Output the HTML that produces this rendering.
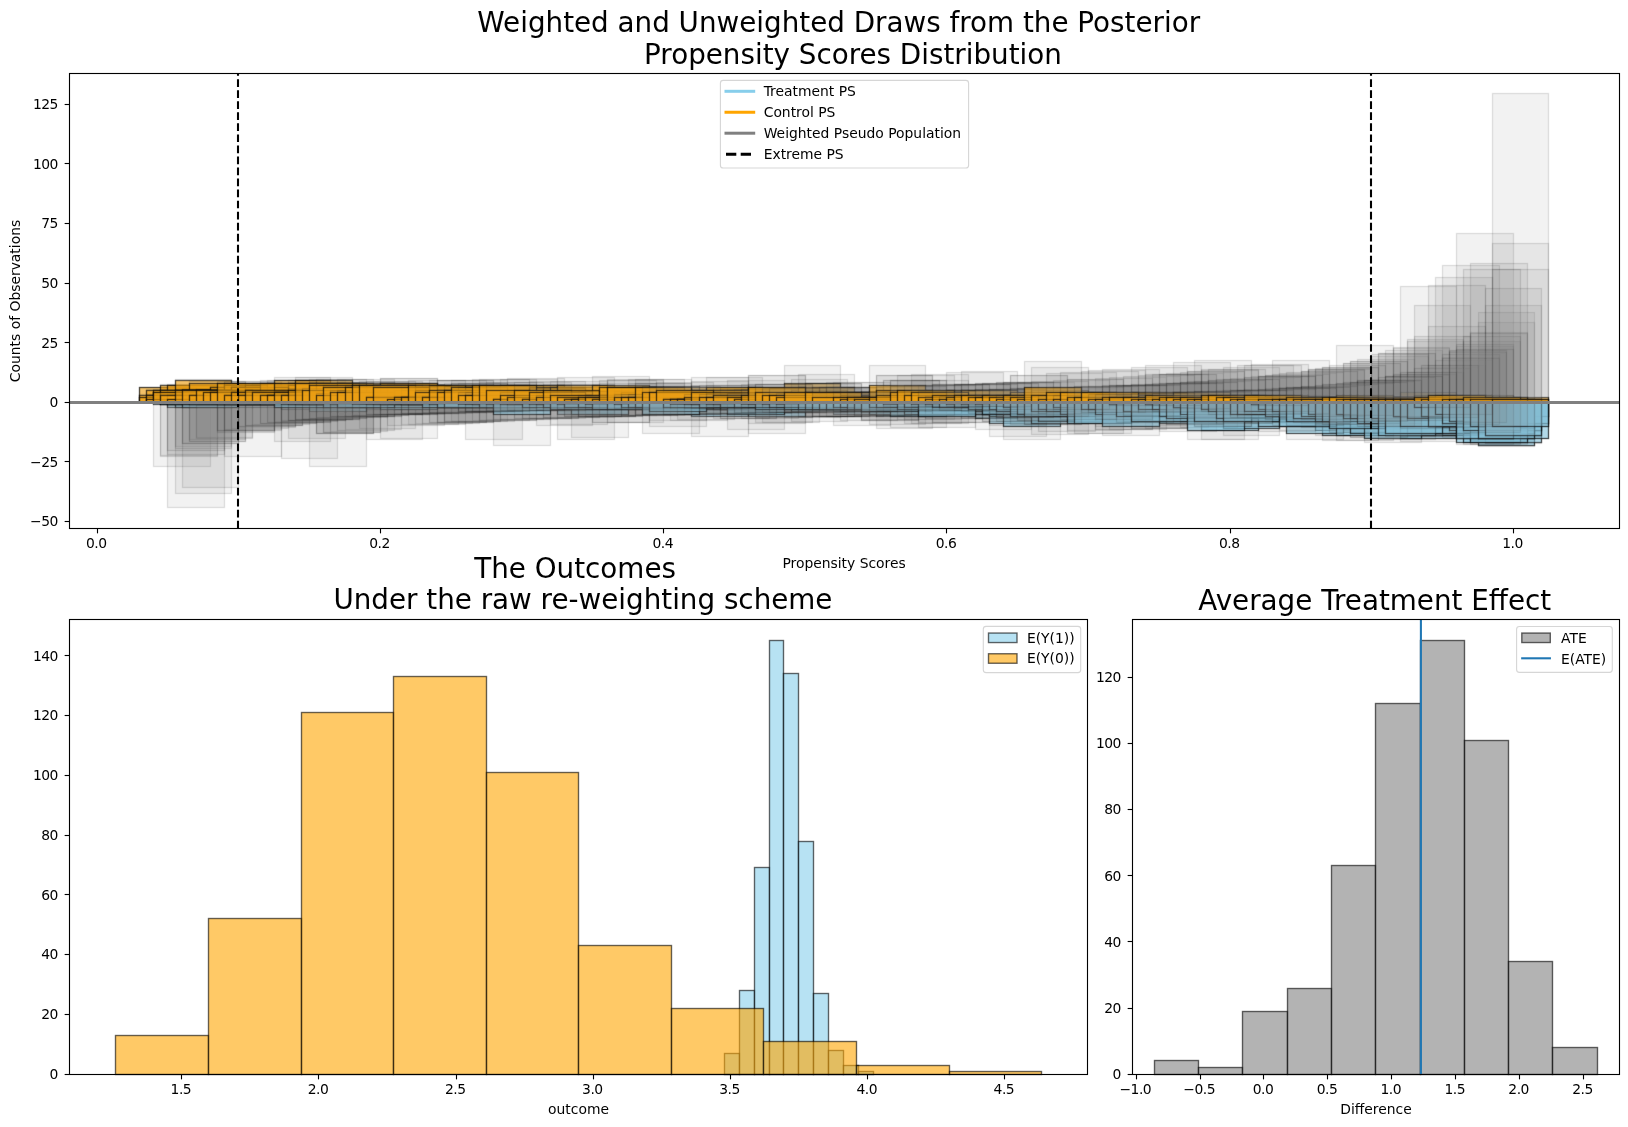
<!DOCTYPE html>
<html lang="en"><head><meta charset="utf-8"><title>Weighted and Unweighted Draws from the Posterior</title>
<style>html,body{margin:0;padding:0;background:#fff;}svg{display:block;will-change:transform;}text{font-family:'DejaVu Sans', 'Liberation Sans', sans-serif;fill:#000;}rect.o,rect.b,rect.g,rect.h{stroke:#000;stroke-width:1.39px;}rect.o{fill:#ffa500;fill-opacity:.6;stroke-opacity:.6;}rect.b{fill:#87ceeb;fill-opacity:.6;stroke-opacity:.6;}rect.h{fill:#808080;fill-opacity:.6;stroke-opacity:.6;}rect.g{fill:#808080;fill-opacity:.1;stroke-opacity:.1;}</style></head><body>
<svg width="1628" height="1127" viewBox="0 0 1628 1127">
<rect x="0" y="0" width="1628" height="1127" fill="#fff"/>
<clipPath id="tclip"><rect x="69.5" y="73.4" width="1550.1" height="455"/></clipPath>
<g id="top-bars" clip-path="url(#tclip)">
<rect class="b" x="153.5" y="402.5" width="57" height="2"/>
<rect class="b" x="167.5" y="402.5" width="57" height="5"/>
<rect class="b" x="175.5" y="402.5" width="56" height="2"/>
<rect class="b" x="189.5" y="402.5" width="56" height="2"/>
<rect class="b" x="217.5" y="402.5" width="57" height="2"/>
<rect class="b" x="224.5" y="402.5" width="57" height="5"/>
<rect class="b" x="238.5" y="402.5" width="57" height="2"/>
<rect class="b" x="245.5" y="402.5" width="57" height="2"/>
<rect class="b" x="274.5" y="402.5" width="56" height="2"/>
<rect class="b" x="288.5" y="402.5" width="57" height="5"/>
<rect class="b" x="302.5" y="402.5" width="57" height="2"/>
<rect class="b" x="316.5" y="402.5" width="57" height="5"/>
<rect class="b" x="323.5" y="402.5" width="57" height="2"/>
<rect class="b" x="330.5" y="402.5" width="57" height="5"/>
<rect class="b" x="337.5" y="402.5" width="57" height="2"/>
<rect class="b" x="345.5" y="402.5" width="56" height="5"/>
<rect class="b" x="366.5" y="402.5" width="56" height="2"/>
<rect class="b" x="373.5" y="402.5" width="56" height="2"/>
<rect class="b" x="380.5" y="402.5" width="57" height="2"/>
<rect class="b" x="387.5" y="402.5" width="57" height="2"/>
<rect class="b" x="401.5" y="402.5" width="57" height="2"/>
<rect class="b" x="408.5" y="402.5" width="57" height="5"/>
<rect class="b" x="415.5" y="402.5" width="57" height="5"/>
<rect class="b" x="422.5" y="402.5" width="57" height="2"/>
<rect class="b" x="429.5" y="402.5" width="57" height="5"/>
<rect class="b" x="437.5" y="402.5" width="56" height="5"/>
<rect class="b" x="444.5" y="402.5" width="56" height="2"/>
<rect class="b" x="458.5" y="402.5" width="56" height="5"/>
<rect class="b" x="465.5" y="402.5" width="57" height="9"/>
<rect class="b" x="472.5" y="402.5" width="57" height="2"/>
<rect class="b" x="479.5" y="402.5" width="57" height="5"/>
<rect class="b" x="486.5" y="402.5" width="57" height="2"/>
<rect class="b" x="493.5" y="402.5" width="57" height="2"/>
<rect class="b" x="507.5" y="402.5" width="57" height="2"/>
<rect class="b" x="514.5" y="402.5" width="57" height="5"/>
<rect class="b" x="543.5" y="402.5" width="56" height="2"/>
<rect class="b" x="550.5" y="402.5" width="57" height="2"/>
<rect class="b" x="557.5" y="402.5" width="57" height="2"/>
<rect class="b" x="564.5" y="402.5" width="57" height="5"/>
<rect class="b" x="571.5" y="402.5" width="57" height="5"/>
<rect class="b" x="578.5" y="402.5" width="57" height="5"/>
<rect class="b" x="585.5" y="402.5" width="57" height="5"/>
<rect class="b" x="592.5" y="402.5" width="57" height="2"/>
<rect class="b" x="614.5" y="402.5" width="56" height="5"/>
<rect class="b" x="621.5" y="402.5" width="56" height="2"/>
<rect class="b" x="628.5" y="402.5" width="56" height="2"/>
<rect class="b" x="635.5" y="402.5" width="56" height="5"/>
<rect class="b" x="642.5" y="402.5" width="57" height="5"/>
<rect class="b" x="649.5" y="402.5" width="57" height="2"/>
<rect class="b" x="656.5" y="402.5" width="57" height="2"/>
<rect class="b" x="670.5" y="402.5" width="57" height="5"/>
<rect class="b" x="677.5" y="402.5" width="57" height="5"/>
<rect class="b" x="691.5" y="402.5" width="57" height="14"/>
<rect class="b" x="699.5" y="402.5" width="56" height="2"/>
<rect class="b" x="706.5" y="402.5" width="56" height="5"/>
<rect class="b" x="713.5" y="402.5" width="56" height="2"/>
<rect class="b" x="720.5" y="402.5" width="56" height="7"/>
<rect class="b" x="727.5" y="402.5" width="57" height="2"/>
<rect class="b" x="734.5" y="402.5" width="57" height="5"/>
<rect class="b" x="741.5" y="402.5" width="57" height="5"/>
<rect class="b" x="748.5" y="402.5" width="57" height="9"/>
<rect class="b" x="755.5" y="402.5" width="57" height="7"/>
<rect class="b" x="762.5" y="402.5" width="57" height="9"/>
<rect class="b" x="769.5" y="402.5" width="57" height="5"/>
<rect class="b" x="784.5" y="402.5" width="56" height="2"/>
<rect class="b" x="791.5" y="402.5" width="56" height="7"/>
<rect class="b" x="798.5" y="402.5" width="56" height="5"/>
<rect class="b" x="805.5" y="402.5" width="56" height="7"/>
<rect class="b" x="812.5" y="402.5" width="57" height="2"/>
<rect class="b" x="819.5" y="402.5" width="57" height="7"/>
<rect class="b" x="826.5" y="402.5" width="57" height="5"/>
<rect class="b" x="833.5" y="402.5" width="57" height="12"/>
<rect class="b" x="847.5" y="402.5" width="57" height="5"/>
<rect class="b" x="854.5" y="402.5" width="57" height="7"/>
<rect class="b" x="861.5" y="402.5" width="57" height="5"/>
<rect class="b" x="869.5" y="402.5" width="56" height="2"/>
<rect class="b" x="876.5" y="402.5" width="56" height="14"/>
<rect class="b" x="883.5" y="402.5" width="56" height="5"/>
<rect class="b" x="890.5" y="402.5" width="56" height="7"/>
<rect class="b" x="897.5" y="402.5" width="57" height="9"/>
<rect class="b" x="904.5" y="402.5" width="57" height="9"/>
<rect class="b" x="911.5" y="402.5" width="57" height="5"/>
<rect class="b" x="918.5" y="402.5" width="57" height="7"/>
<rect class="b" x="925.5" y="402.5" width="57" height="9"/>
<rect class="b" x="932.5" y="402.5" width="57" height="12"/>
<rect class="b" x="939.5" y="402.5" width="57" height="5"/>
<rect class="b" x="946.5" y="402.5" width="57" height="2"/>
<rect class="b" x="954.5" y="402.5" width="56" height="5"/>
<rect class="b" x="961.5" y="402.5" width="56" height="9"/>
<rect class="b" x="968.5" y="402.5" width="56" height="2"/>
<rect class="b" x="975.5" y="402.5" width="56" height="16"/>
<rect class="b" x="982.5" y="402.5" width="56" height="12"/>
<rect class="b" x="989.5" y="402.5" width="57" height="21"/>
<rect class="b" x="996.5" y="402.5" width="57" height="9"/>
<rect class="b" x="1010.5" y="402.5" width="57" height="12"/>
<rect class="b" x="1017.5" y="402.5" width="57" height="5"/>
<rect class="b" x="1024.5" y="402.5" width="57" height="2"/>
<rect class="b" x="1031.5" y="402.5" width="57" height="2"/>
<rect class="b" x="1038.5" y="402.5" width="57" height="12"/>
<rect class="b" x="1046.5" y="402.5" width="56" height="7"/>
<rect class="b" x="1053.5" y="402.5" width="56" height="9"/>
<rect class="b" x="1060.5" y="402.5" width="56" height="7"/>
<rect class="b" x="1067.5" y="402.5" width="56" height="9"/>
<rect class="b" x="1074.5" y="402.5" width="57" height="9"/>
<rect class="b" x="1081.5" y="402.5" width="57" height="14"/>
<rect class="b" x="1088.5" y="402.5" width="57" height="7"/>
<rect class="b" x="1095.5" y="402.5" width="57" height="19"/>
<rect class="b" x="1102.5" y="402.5" width="57" height="2"/>
<rect class="b" x="1109.5" y="402.5" width="57" height="9"/>
<rect class="b" x="1116.5" y="402.5" width="57" height="14"/>
<rect class="b" x="1123.5" y="402.5" width="57" height="5"/>
<rect class="b" x="1131.5" y="402.5" width="56" height="16"/>
<rect class="b" x="1138.5" y="402.5" width="56" height="14"/>
<rect class="b" x="1145.5" y="402.5" width="56" height="7"/>
<rect class="b" x="1152.5" y="402.5" width="56" height="7"/>
<rect class="b" x="1159.5" y="402.5" width="57" height="14"/>
<rect class="b" x="1166.5" y="402.5" width="57" height="14"/>
<rect class="b" x="1173.5" y="402.5" width="57" height="12"/>
<rect class="b" x="1180.5" y="402.5" width="57" height="5"/>
<rect class="b" x="1187.5" y="402.5" width="57" height="16"/>
<rect class="b" x="1194.5" y="402.5" width="57" height="19"/>
<rect class="b" x="1201.5" y="402.5" width="57" height="28"/>
<rect class="b" x="1208.5" y="402.5" width="57" height="9"/>
<rect class="b" x="1216.5" y="402.5" width="56" height="16"/>
<rect class="b" x="1223.5" y="402.5" width="56" height="9"/>
<rect class="b" x="1230.5" y="402.5" width="56" height="16"/>
<rect class="b" x="1237.5" y="402.5" width="56" height="14"/>
<rect class="b" x="1244.5" y="402.5" width="57" height="9"/>
<rect class="b" x="1251.5" y="402.5" width="57" height="14"/>
<rect class="b" x="1258.5" y="402.5" width="57" height="14"/>
<rect class="b" x="1265.5" y="402.5" width="57" height="9"/>
<rect class="b" x="1272.5" y="402.5" width="57" height="16"/>
<rect class="b" x="1279.5" y="402.5" width="57" height="7"/>
<rect class="b" x="1286.5" y="402.5" width="57" height="14"/>
<rect class="b" x="1293.5" y="402.5" width="57" height="12"/>
<rect class="b" x="1301.5" y="402.5" width="56" height="16"/>
<rect class="b" x="1308.5" y="402.5" width="56" height="12"/>
<rect class="b" x="1315.5" y="402.5" width="56" height="28"/>
<rect class="b" x="1322.5" y="402.5" width="56" height="33"/>
<rect class="b" x="1329.5" y="402.5" width="56" height="26"/>
<rect class="b" x="1336.5" y="402.5" width="57" height="19"/>
<rect class="b" x="1343.5" y="402.5" width="57" height="26"/>
<rect class="b" x="1350.5" y="402.5" width="57" height="31"/>
<rect class="b" x="1357.5" y="402.5" width="57" height="16"/>
<rect class="b" x="1364.5" y="402.5" width="57" height="12"/>
<rect class="b" x="1371.5" y="402.5" width="57" height="16"/>
<rect class="b" x="1378.5" y="402.5" width="57" height="24"/>
<rect class="b" x="1385.5" y="402.5" width="57" height="24"/>
<rect class="b" x="1393.5" y="402.5" width="56" height="24"/>
<rect class="b" x="1400.5" y="402.5" width="56" height="36"/>
<rect class="b" x="1407.5" y="402.5" width="56" height="14"/>
<rect class="b" x="1414.5" y="402.5" width="56" height="21"/>
<rect class="b" x="1421.5" y="402.5" width="57" height="21"/>
<rect class="b" x="1428.5" y="402.5" width="57" height="24"/>
<rect class="b" x="1435.5" y="402.5" width="57" height="9"/>
<rect class="b" x="1442.5" y="402.5" width="57" height="33"/>
<rect class="b" x="1449.5" y="402.5" width="57" height="28"/>
<rect class="b" x="1456.5" y="402.5" width="57" height="40"/>
<rect class="b" x="1463.5" y="402.5" width="57" height="33"/>
<rect class="b" x="1470.5" y="402.5" width="57" height="38"/>
<rect class="b" x="1478.5" y="402.5" width="56" height="43"/>
<rect class="b" x="1485.5" y="402.5" width="56" height="40"/>
<rect class="b" x="1492.5" y="402.5" width="56" height="36"/>
<rect class="g" x="153.5" y="402.5" width="57" height="64"/>
<rect class="g" x="167.5" y="402.5" width="57" height="105"/>
<rect class="g" x="175.5" y="402.5" width="56" height="44"/>
<rect class="g" x="189.5" y="402.5" width="56" height="39"/>
<rect class="g" x="217.5" y="402.5" width="57" height="29"/>
<rect class="g" x="224.5" y="402.5" width="57" height="54"/>
<rect class="g" x="238.5" y="402.5" width="57" height="24"/>
<rect class="g" x="245.5" y="402.5" width="57" height="23"/>
<rect class="g" x="274.5" y="402.5" width="56" height="19"/>
<rect class="g" x="288.5" y="402.5" width="57" height="36"/>
<rect class="g" x="302.5" y="402.5" width="57" height="17"/>
<rect class="g" x="316.5" y="402.5" width="57" height="31"/>
<rect class="g" x="323.5" y="402.5" width="57" height="15"/>
<rect class="g" x="330.5" y="402.5" width="57" height="29"/>
<rect class="g" x="337.5" y="402.5" width="57" height="14"/>
<rect class="g" x="345.5" y="402.5" width="56" height="27"/>
<rect class="g" x="366.5" y="402.5" width="56" height="12"/>
<rect class="g" x="373.5" y="402.5" width="56" height="12"/>
<rect class="g" x="380.5" y="402.5" width="57" height="12"/>
<rect class="g" x="387.5" y="402.5" width="57" height="12"/>
<rect class="g" x="401.5" y="402.5" width="57" height="11"/>
<rect class="g" x="408.5" y="402.5" width="57" height="22"/>
<rect class="g" x="415.5" y="402.5" width="57" height="21"/>
<rect class="g" x="422.5" y="402.5" width="57" height="10"/>
<rect class="g" x="429.5" y="402.5" width="57" height="20"/>
<rect class="g" x="437.5" y="402.5" width="56" height="20"/>
<rect class="g" x="444.5" y="402.5" width="56" height="10"/>
<rect class="g" x="458.5" y="402.5" width="56" height="19"/>
<rect class="g" x="465.5" y="402.5" width="57" height="37"/>
<rect class="g" x="472.5" y="402.5" width="57" height="9"/>
<rect class="g" x="479.5" y="402.5" width="57" height="18"/>
<rect class="g" x="486.5" y="402.5" width="57" height="8"/>
<rect class="g" x="493.5" y="402.5" width="57" height="8"/>
<rect class="g" x="507.5" y="402.5" width="57" height="8"/>
<rect class="g" x="514.5" y="402.5" width="57" height="16"/>
<rect class="g" x="543.5" y="402.5" width="56" height="7"/>
<rect class="g" x="550.5" y="402.5" width="57" height="7"/>
<rect class="g" x="557.5" y="402.5" width="57" height="7"/>
<rect class="g" x="564.5" y="402.5" width="57" height="14"/>
<rect class="g" x="571.5" y="402.5" width="57" height="14"/>
<rect class="g" x="578.5" y="402.5" width="57" height="14"/>
<rect class="g" x="585.5" y="402.5" width="57" height="14"/>
<rect class="g" x="592.5" y="402.5" width="57" height="7"/>
<rect class="g" x="614.5" y="402.5" width="56" height="13"/>
<rect class="g" x="621.5" y="402.5" width="56" height="6"/>
<rect class="g" x="628.5" y="402.5" width="56" height="6"/>
<rect class="g" x="635.5" y="402.5" width="56" height="12"/>
<rect class="g" x="642.5" y="402.5" width="57" height="12"/>
<rect class="g" x="649.5" y="402.5" width="57" height="6"/>
<rect class="g" x="656.5" y="402.5" width="57" height="6"/>
<rect class="g" x="670.5" y="402.5" width="57" height="12"/>
<rect class="g" x="677.5" y="402.5" width="57" height="12"/>
<rect class="g" x="691.5" y="402.5" width="57" height="34"/>
<rect class="g" x="699.5" y="402.5" width="56" height="5"/>
<rect class="g" x="706.5" y="402.5" width="56" height="11"/>
<rect class="g" x="713.5" y="402.5" width="56" height="5"/>
<rect class="g" x="720.5" y="402.5" width="56" height="16"/>
<rect class="g" x="727.5" y="402.5" width="57" height="5"/>
<rect class="g" x="734.5" y="402.5" width="57" height="10"/>
<rect class="g" x="741.5" y="402.5" width="57" height="10"/>
<rect class="g" x="748.5" y="402.5" width="57" height="21"/>
<rect class="g" x="755.5" y="402.5" width="57" height="15"/>
<rect class="g" x="762.5" y="402.5" width="57" height="20"/>
<rect class="g" x="769.5" y="402.5" width="57" height="10"/>
<rect class="g" x="784.5" y="402.5" width="56" height="5"/>
<rect class="g" x="791.5" y="402.5" width="56" height="14"/>
<rect class="g" x="798.5" y="402.5" width="56" height="10"/>
<rect class="g" x="805.5" y="402.5" width="56" height="14"/>
<rect class="g" x="812.5" y="402.5" width="57" height="5"/>
<rect class="g" x="819.5" y="402.5" width="57" height="14"/>
<rect class="g" x="826.5" y="402.5" width="57" height="9"/>
<rect class="g" x="833.5" y="402.5" width="57" height="23"/>
<rect class="g" x="847.5" y="402.5" width="57" height="9"/>
<rect class="g" x="854.5" y="402.5" width="57" height="13"/>
<rect class="g" x="861.5" y="402.5" width="57" height="9"/>
<rect class="g" x="869.5" y="402.5" width="56" height="4"/>
<rect class="g" x="876.5" y="402.5" width="56" height="26"/>
<rect class="g" x="883.5" y="402.5" width="56" height="8"/>
<rect class="g" x="890.5" y="402.5" width="56" height="13"/>
<rect class="g" x="897.5" y="402.5" width="57" height="17"/>
<rect class="g" x="904.5" y="402.5" width="57" height="17"/>
<rect class="g" x="911.5" y="402.5" width="57" height="8"/>
<rect class="g" x="918.5" y="402.5" width="57" height="12"/>
<rect class="g" x="925.5" y="402.5" width="57" height="16"/>
<rect class="g" x="932.5" y="402.5" width="57" height="20"/>
<rect class="g" x="939.5" y="402.5" width="57" height="8"/>
<rect class="g" x="946.5" y="402.5" width="57" height="4"/>
<rect class="g" x="954.5" y="402.5" width="56" height="8"/>
<rect class="g" x="961.5" y="402.5" width="56" height="15"/>
<rect class="g" x="968.5" y="402.5" width="56" height="4"/>
<rect class="g" x="975.5" y="402.5" width="56" height="27"/>
<rect class="g" x="982.5" y="402.5" width="56" height="19"/>
<rect class="g" x="989.5" y="402.5" width="57" height="34"/>
<rect class="g" x="996.5" y="402.5" width="57" height="15"/>
<rect class="g" x="1010.5" y="402.5" width="57" height="18"/>
<rect class="g" x="1017.5" y="402.5" width="57" height="7"/>
<rect class="g" x="1024.5" y="402.5" width="57" height="3"/>
<rect class="g" x="1031.5" y="402.5" width="57" height="3"/>
<rect class="g" x="1038.5" y="402.5" width="57" height="18"/>
<rect class="g" x="1046.5" y="402.5" width="56" height="11"/>
<rect class="g" x="1053.5" y="402.5" width="56" height="14"/>
<rect class="g" x="1060.5" y="402.5" width="56" height="10"/>
<rect class="g" x="1067.5" y="402.5" width="56" height="14"/>
<rect class="g" x="1074.5" y="402.5" width="57" height="14"/>
<rect class="g" x="1081.5" y="402.5" width="57" height="20"/>
<rect class="g" x="1088.5" y="402.5" width="57" height="10"/>
<rect class="g" x="1095.5" y="402.5" width="57" height="27"/>
<rect class="g" x="1102.5" y="402.5" width="57" height="3"/>
<rect class="g" x="1109.5" y="402.5" width="57" height="13"/>
<rect class="g" x="1116.5" y="402.5" width="57" height="20"/>
<rect class="g" x="1123.5" y="402.5" width="57" height="6"/>
<rect class="g" x="1131.5" y="402.5" width="56" height="23"/>
<rect class="g" x="1138.5" y="402.5" width="56" height="19"/>
<rect class="g" x="1145.5" y="402.5" width="56" height="9"/>
<rect class="g" x="1152.5" y="402.5" width="56" height="9"/>
<rect class="g" x="1159.5" y="402.5" width="57" height="19"/>
<rect class="g" x="1166.5" y="402.5" width="57" height="19"/>
<rect class="g" x="1173.5" y="402.5" width="57" height="16"/>
<rect class="g" x="1180.5" y="402.5" width="57" height="6"/>
<rect class="g" x="1187.5" y="402.5" width="57" height="22"/>
<rect class="g" x="1194.5" y="402.5" width="57" height="24"/>
<rect class="g" x="1201.5" y="402.5" width="57" height="37"/>
<rect class="g" x="1208.5" y="402.5" width="57" height="12"/>
<rect class="g" x="1216.5" y="402.5" width="56" height="21"/>
<rect class="g" x="1223.5" y="402.5" width="56" height="12"/>
<rect class="g" x="1230.5" y="402.5" width="56" height="21"/>
<rect class="g" x="1237.5" y="402.5" width="56" height="18"/>
<rect class="g" x="1244.5" y="402.5" width="57" height="12"/>
<rect class="g" x="1251.5" y="402.5" width="57" height="17"/>
<rect class="g" x="1258.5" y="402.5" width="57" height="17"/>
<rect class="g" x="1265.5" y="402.5" width="57" height="11"/>
<rect class="g" x="1272.5" y="402.5" width="57" height="20"/>
<rect class="g" x="1279.5" y="402.5" width="57" height="8"/>
<rect class="g" x="1286.5" y="402.5" width="57" height="17"/>
<rect class="g" x="1293.5" y="402.5" width="57" height="14"/>
<rect class="g" x="1301.5" y="402.5" width="56" height="19"/>
<rect class="g" x="1308.5" y="402.5" width="56" height="14"/>
<rect class="g" x="1315.5" y="402.5" width="56" height="33"/>
<rect class="g" x="1322.5" y="402.5" width="56" height="38"/>
<rect class="g" x="1329.5" y="402.5" width="56" height="30"/>
<rect class="g" x="1336.5" y="402.5" width="57" height="22"/>
<rect class="g" x="1343.5" y="402.5" width="57" height="30"/>
<rect class="g" x="1350.5" y="402.5" width="57" height="35"/>
<rect class="g" x="1357.5" y="402.5" width="57" height="19"/>
<rect class="g" x="1364.5" y="402.5" width="57" height="13"/>
<rect class="g" x="1371.5" y="402.5" width="57" height="18"/>
<rect class="g" x="1378.5" y="402.5" width="57" height="26"/>
<rect class="g" x="1385.5" y="402.5" width="57" height="26"/>
<rect class="g" x="1393.5" y="402.5" width="56" height="26"/>
<rect class="g" x="1400.5" y="402.5" width="56" height="39"/>
<rect class="g" x="1407.5" y="402.5" width="56" height="15"/>
<rect class="g" x="1414.5" y="402.5" width="56" height="23"/>
<rect class="g" x="1421.5" y="402.5" width="57" height="23"/>
<rect class="g" x="1428.5" y="402.5" width="57" height="25"/>
<rect class="g" x="1435.5" y="402.5" width="57" height="10"/>
<rect class="g" x="1442.5" y="402.5" width="57" height="35"/>
<rect class="g" x="1449.5" y="402.5" width="57" height="30"/>
<rect class="g" x="1456.5" y="402.5" width="57" height="42"/>
<rect class="g" x="1463.5" y="402.5" width="57" height="34"/>
<rect class="g" x="1470.5" y="402.5" width="57" height="39"/>
<rect class="g" x="1478.5" y="402.5" width="56" height="44"/>
<rect class="g" x="1485.5" y="402.5" width="56" height="41"/>
<rect class="g" x="1492.5" y="402.5" width="56" height="36"/>
<rect class="o" x="139.5" y="387.5" width="57" height="15"/>
<rect class="g" x="139.5" y="387.5" width="57" height="15"/>
<rect class="o" x="146.5" y="390.5" width="57" height="12"/>
<rect class="g" x="146.5" y="389.5" width="57" height="13"/>
<rect class="o" x="153.5" y="392.5" width="57" height="10"/>
<rect class="g" x="153.5" y="392.5" width="57" height="10"/>
<rect class="o" x="160.5" y="385.5" width="57" height="17"/>
<rect class="g" x="160.5" y="384.5" width="57" height="18"/>
<rect class="o" x="167.5" y="385.5" width="57" height="17"/>
<rect class="g" x="167.5" y="384.5" width="57" height="18"/>
<rect class="o" x="175.5" y="380.5" width="56" height="22"/>
<rect class="g" x="175.5" y="379.5" width="56" height="23"/>
<rect class="o" x="182.5" y="390.5" width="56" height="12"/>
<rect class="g" x="182.5" y="389.5" width="56" height="13"/>
<rect class="o" x="189.5" y="383.5" width="56" height="19"/>
<rect class="g" x="189.5" y="381.5" width="56" height="21"/>
<rect class="o" x="196.5" y="390.5" width="56" height="12"/>
<rect class="g" x="196.5" y="389.5" width="56" height="13"/>
<rect class="o" x="203.5" y="392.5" width="57" height="10"/>
<rect class="g" x="203.5" y="392.5" width="57" height="10"/>
<rect class="o" x="210.5" y="392.5" width="57" height="10"/>
<rect class="g" x="210.5" y="391.5" width="57" height="11"/>
<rect class="o" x="217.5" y="390.5" width="57" height="12"/>
<rect class="g" x="217.5" y="389.5" width="57" height="13"/>
<rect class="o" x="224.5" y="383.5" width="57" height="19"/>
<rect class="g" x="224.5" y="381.5" width="57" height="21"/>
<rect class="o" x="231.5" y="397.5" width="57" height="5"/>
<rect class="g" x="231.5" y="397.5" width="57" height="5"/>
<rect class="o" x="238.5" y="395.5" width="57" height="7"/>
<rect class="g" x="238.5" y="394.5" width="57" height="8"/>
<rect class="o" x="245.5" y="385.5" width="57" height="17"/>
<rect class="g" x="245.5" y="383.5" width="57" height="19"/>
<rect class="o" x="252.5" y="385.5" width="57" height="17"/>
<rect class="g" x="252.5" y="383.5" width="57" height="19"/>
<rect class="o" x="260.5" y="392.5" width="56" height="10"/>
<rect class="g" x="260.5" y="391.5" width="56" height="11"/>
<rect class="o" x="267.5" y="399.5" width="56" height="3"/>
<rect class="g" x="267.5" y="399.5" width="56" height="3"/>
<rect class="o" x="274.5" y="380.5" width="56" height="22"/>
<rect class="g" x="274.5" y="377.5" width="56" height="25"/>
<rect class="o" x="281.5" y="390.5" width="56" height="12"/>
<rect class="g" x="281.5" y="388.5" width="56" height="14"/>
<rect class="o" x="288.5" y="383.5" width="57" height="19"/>
<rect class="g" x="288.5" y="380.5" width="57" height="22"/>
<rect class="o" x="295.5" y="392.5" width="57" height="10"/>
<rect class="g" x="295.5" y="391.5" width="57" height="11"/>
<rect class="o" x="302.5" y="395.5" width="57" height="7"/>
<rect class="g" x="302.5" y="393.5" width="57" height="9"/>
<rect class="o" x="309.5" y="397.5" width="57" height="5"/>
<rect class="g" x="309.5" y="396.5" width="57" height="6"/>
<rect class="o" x="316.5" y="392.5" width="57" height="10"/>
<rect class="g" x="316.5" y="391.5" width="57" height="11"/>
<rect class="o" x="323.5" y="395.5" width="57" height="7"/>
<rect class="g" x="323.5" y="393.5" width="57" height="9"/>
<rect class="o" x="330.5" y="392.5" width="57" height="10"/>
<rect class="g" x="330.5" y="390.5" width="57" height="12"/>
<rect class="o" x="337.5" y="385.5" width="57" height="17"/>
<rect class="g" x="337.5" y="382.5" width="57" height="20"/>
<rect class="o" x="345.5" y="390.5" width="56" height="12"/>
<rect class="g" x="345.5" y="387.5" width="56" height="15"/>
<rect class="o" x="352.5" y="395.5" width="56" height="7"/>
<rect class="g" x="352.5" y="393.5" width="56" height="9"/>
<rect class="o" x="359.5" y="392.5" width="56" height="10"/>
<rect class="g" x="359.5" y="390.5" width="56" height="12"/>
<rect class="o" x="366.5" y="390.5" width="56" height="12"/>
<rect class="g" x="366.5" y="387.5" width="56" height="15"/>
<rect class="o" x="373.5" y="392.5" width="56" height="10"/>
<rect class="g" x="373.5" y="390.5" width="56" height="12"/>
<rect class="o" x="380.5" y="383.5" width="57" height="19"/>
<rect class="g" x="380.5" y="378.5" width="57" height="24"/>
<rect class="o" x="387.5" y="387.5" width="57" height="15"/>
<rect class="g" x="387.5" y="384.5" width="57" height="18"/>
<rect class="o" x="394.5" y="387.5" width="57" height="15"/>
<rect class="g" x="394.5" y="384.5" width="57" height="18"/>
<rect class="o" x="401.5" y="392.5" width="57" height="10"/>
<rect class="g" x="401.5" y="390.5" width="57" height="12"/>
<rect class="o" x="408.5" y="395.5" width="57" height="7"/>
<rect class="g" x="408.5" y="393.5" width="57" height="9"/>
<rect class="o" x="415.5" y="395.5" width="57" height="7"/>
<rect class="g" x="415.5" y="393.5" width="57" height="9"/>
<rect class="o" x="422.5" y="397.5" width="57" height="5"/>
<rect class="g" x="422.5" y="396.5" width="57" height="6"/>
<rect class="o" x="429.5" y="390.5" width="57" height="12"/>
<rect class="g" x="429.5" y="386.5" width="57" height="16"/>
<rect class="o" x="437.5" y="397.5" width="56" height="5"/>
<rect class="g" x="437.5" y="396.5" width="56" height="6"/>
<rect class="o" x="444.5" y="387.5" width="56" height="15"/>
<rect class="g" x="444.5" y="383.5" width="56" height="19"/>
<rect class="o" x="451.5" y="385.5" width="56" height="17"/>
<rect class="g" x="451.5" y="380.5" width="56" height="22"/>
<rect class="o" x="458.5" y="390.5" width="56" height="12"/>
<rect class="g" x="458.5" y="386.5" width="56" height="16"/>
<rect class="o" x="465.5" y="395.5" width="57" height="7"/>
<rect class="g" x="465.5" y="392.5" width="57" height="10"/>
<rect class="o" x="472.5" y="392.5" width="57" height="10"/>
<rect class="g" x="472.5" y="389.5" width="57" height="13"/>
<rect class="o" x="479.5" y="390.5" width="57" height="12"/>
<rect class="g" x="479.5" y="386.5" width="57" height="16"/>
<rect class="o" x="486.5" y="387.5" width="57" height="15"/>
<rect class="g" x="486.5" y="382.5" width="57" height="20"/>
<rect class="o" x="493.5" y="395.5" width="57" height="7"/>
<rect class="g" x="493.5" y="392.5" width="57" height="10"/>
<rect class="o" x="500.5" y="395.5" width="57" height="7"/>
<rect class="g" x="500.5" y="392.5" width="57" height="10"/>
<rect class="o" x="507.5" y="385.5" width="57" height="17"/>
<rect class="g" x="507.5" y="378.5" width="57" height="24"/>
<rect class="o" x="514.5" y="387.5" width="57" height="15"/>
<rect class="g" x="514.5" y="382.5" width="57" height="20"/>
<rect class="o" x="522.5" y="397.5" width="56" height="5"/>
<rect class="g" x="522.5" y="395.5" width="56" height="7"/>
<rect class="o" x="529.5" y="392.5" width="56" height="10"/>
<rect class="g" x="529.5" y="388.5" width="56" height="14"/>
<rect class="o" x="536.5" y="395.5" width="56" height="7"/>
<rect class="g" x="536.5" y="391.5" width="56" height="11"/>
<rect class="o" x="543.5" y="395.5" width="56" height="7"/>
<rect class="g" x="543.5" y="391.5" width="56" height="11"/>
<rect class="o" x="550.5" y="395.5" width="57" height="7"/>
<rect class="g" x="550.5" y="391.5" width="57" height="11"/>
<rect class="o" x="557.5" y="395.5" width="57" height="7"/>
<rect class="g" x="557.5" y="391.5" width="57" height="11"/>
<rect class="o" x="564.5" y="392.5" width="57" height="10"/>
<rect class="g" x="564.5" y="388.5" width="57" height="14"/>
<rect class="o" x="571.5" y="397.5" width="57" height="5"/>
<rect class="g" x="571.5" y="395.5" width="57" height="7"/>
<rect class="o" x="578.5" y="395.5" width="57" height="7"/>
<rect class="g" x="578.5" y="391.5" width="57" height="11"/>
<rect class="o" x="585.5" y="399.5" width="57" height="3"/>
<rect class="g" x="585.5" y="398.5" width="57" height="4"/>
<rect class="o" x="592.5" y="397.5" width="57" height="5"/>
<rect class="g" x="592.5" y="394.5" width="57" height="8"/>
<rect class="o" x="599.5" y="390.5" width="57" height="12"/>
<rect class="g" x="599.5" y="383.5" width="57" height="19"/>
<rect class="o" x="607.5" y="399.5" width="56" height="3"/>
<rect class="g" x="607.5" y="398.5" width="56" height="4"/>
<rect class="o" x="614.5" y="392.5" width="56" height="10"/>
<rect class="g" x="614.5" y="387.5" width="56" height="15"/>
<rect class="o" x="621.5" y="397.5" width="56" height="5"/>
<rect class="g" x="621.5" y="394.5" width="56" height="8"/>
<rect class="o" x="628.5" y="390.5" width="56" height="12"/>
<rect class="g" x="628.5" y="383.5" width="56" height="19"/>
<rect class="o" x="635.5" y="390.5" width="56" height="12"/>
<rect class="g" x="635.5" y="383.5" width="56" height="19"/>
<rect class="o" x="642.5" y="392.5" width="57" height="10"/>
<rect class="g" x="642.5" y="386.5" width="57" height="16"/>
<rect class="o" x="649.5" y="397.5" width="57" height="5"/>
<rect class="g" x="649.5" y="394.5" width="57" height="8"/>
<rect class="o" x="656.5" y="397.5" width="57" height="5"/>
<rect class="g" x="656.5" y="394.5" width="57" height="8"/>
<rect class="o" x="663.5" y="399.5" width="57" height="3"/>
<rect class="g" x="663.5" y="398.5" width="57" height="4"/>
<rect class="o" x="670.5" y="399.5" width="57" height="3"/>
<rect class="g" x="670.5" y="398.5" width="57" height="4"/>
<rect class="o" x="684.5" y="395.5" width="57" height="7"/>
<rect class="g" x="684.5" y="390.5" width="57" height="12"/>
<rect class="o" x="691.5" y="387.5" width="57" height="15"/>
<rect class="g" x="691.5" y="377.5" width="57" height="25"/>
<rect class="o" x="699.5" y="399.5" width="56" height="3"/>
<rect class="g" x="699.5" y="398.5" width="56" height="4"/>
<rect class="o" x="706.5" y="392.5" width="56" height="10"/>
<rect class="g" x="706.5" y="385.5" width="56" height="17"/>
<rect class="o" x="713.5" y="397.5" width="56" height="5"/>
<rect class="g" x="713.5" y="393.5" width="56" height="9"/>
<rect class="o" x="720.5" y="397.5" width="56" height="5"/>
<rect class="g" x="720.5" y="393.5" width="56" height="9"/>
<rect class="o" x="727.5" y="390.5" width="57" height="12"/>
<rect class="g" x="727.5" y="380.5" width="57" height="22"/>
<rect class="o" x="734.5" y="397.5" width="57" height="5"/>
<rect class="g" x="734.5" y="393.5" width="57" height="9"/>
<rect class="o" x="741.5" y="392.5" width="57" height="10"/>
<rect class="g" x="741.5" y="384.5" width="57" height="18"/>
<rect class="o" x="748.5" y="399.5" width="57" height="3"/>
<rect class="g" x="748.5" y="397.5" width="57" height="5"/>
<rect class="o" x="769.5" y="397.5" width="57" height="5"/>
<rect class="g" x="769.5" y="393.5" width="57" height="9"/>
<rect class="o" x="776.5" y="397.5" width="57" height="5"/>
<rect class="g" x="776.5" y="393.5" width="57" height="9"/>
<rect class="o" x="784.5" y="383.5" width="56" height="19"/>
<rect class="g" x="784.5" y="365.5" width="56" height="37"/>
<rect class="o" x="791.5" y="399.5" width="56" height="3"/>
<rect class="g" x="791.5" y="397.5" width="56" height="5"/>
<rect class="o" x="798.5" y="392.5" width="56" height="10"/>
<rect class="g" x="798.5" y="383.5" width="56" height="19"/>
<rect class="o" x="805.5" y="397.5" width="56" height="5"/>
<rect class="g" x="805.5" y="392.5" width="56" height="10"/>
<rect class="o" x="812.5" y="397.5" width="57" height="5"/>
<rect class="g" x="812.5" y="392.5" width="57" height="10"/>
<rect class="o" x="819.5" y="399.5" width="57" height="3"/>
<rect class="g" x="819.5" y="397.5" width="57" height="5"/>
<rect class="o" x="826.5" y="395.5" width="57" height="7"/>
<rect class="g" x="826.5" y="387.5" width="57" height="15"/>
<rect class="o" x="833.5" y="395.5" width="57" height="7"/>
<rect class="g" x="833.5" y="387.5" width="57" height="15"/>
<rect class="o" x="840.5" y="397.5" width="57" height="5"/>
<rect class="g" x="840.5" y="392.5" width="57" height="10"/>
<rect class="o" x="847.5" y="397.5" width="57" height="5"/>
<rect class="g" x="847.5" y="392.5" width="57" height="10"/>
<rect class="o" x="854.5" y="397.5" width="57" height="5"/>
<rect class="g" x="854.5" y="392.5" width="57" height="10"/>
<rect class="o" x="861.5" y="397.5" width="57" height="5"/>
<rect class="g" x="861.5" y="391.5" width="57" height="11"/>
<rect class="o" x="869.5" y="397.5" width="56" height="5"/>
<rect class="g" x="869.5" y="391.5" width="56" height="11"/>
<rect class="o" x="876.5" y="397.5" width="56" height="5"/>
<rect class="g" x="876.5" y="391.5" width="56" height="11"/>
<rect class="o" x="883.5" y="392.5" width="56" height="10"/>
<rect class="g" x="883.5" y="380.5" width="56" height="22"/>
<rect class="o" x="890.5" y="392.5" width="56" height="10"/>
<rect class="g" x="890.5" y="380.5" width="56" height="22"/>
<rect class="o" x="904.5" y="397.5" width="57" height="5"/>
<rect class="g" x="904.5" y="391.5" width="57" height="11"/>
<rect class="o" x="911.5" y="390.5" width="57" height="12"/>
<rect class="g" x="911.5" y="374.5" width="57" height="28"/>
<rect class="o" x="918.5" y="397.5" width="57" height="5"/>
<rect class="g" x="918.5" y="391.5" width="57" height="11"/>
<rect class="o" x="925.5" y="395.5" width="57" height="7"/>
<rect class="g" x="925.5" y="385.5" width="57" height="17"/>
<rect class="o" x="932.5" y="395.5" width="57" height="7"/>
<rect class="g" x="932.5" y="384.5" width="57" height="18"/>
<rect class="o" x="939.5" y="397.5" width="57" height="5"/>
<rect class="g" x="939.5" y="390.5" width="57" height="12"/>
<rect class="o" x="954.5" y="395.5" width="56" height="7"/>
<rect class="g" x="954.5" y="384.5" width="56" height="18"/>
<rect class="o" x="961.5" y="397.5" width="56" height="5"/>
<rect class="g" x="961.5" y="390.5" width="56" height="12"/>
<rect class="o" x="968.5" y="399.5" width="56" height="3"/>
<rect class="g" x="968.5" y="396.5" width="56" height="6"/>
<rect class="o" x="975.5" y="395.5" width="56" height="7"/>
<rect class="g" x="975.5" y="383.5" width="56" height="19"/>
<rect class="o" x="989.5" y="399.5" width="57" height="3"/>
<rect class="g" x="989.5" y="395.5" width="57" height="7"/>
<rect class="o" x="996.5" y="395.5" width="57" height="7"/>
<rect class="g" x="996.5" y="382.5" width="57" height="20"/>
<rect class="o" x="1010.5" y="392.5" width="57" height="10"/>
<rect class="g" x="1010.5" y="375.5" width="57" height="27"/>
<rect class="o" x="1017.5" y="397.5" width="57" height="5"/>
<rect class="g" x="1017.5" y="388.5" width="57" height="14"/>
<rect class="o" x="1024.5" y="397.5" width="57" height="5"/>
<rect class="g" x="1024.5" y="388.5" width="57" height="14"/>
<rect class="o" x="1031.5" y="390.5" width="57" height="12"/>
<rect class="g" x="1031.5" y="367.5" width="57" height="35"/>
<rect class="o" x="1046.5" y="399.5" width="56" height="3"/>
<rect class="g" x="1046.5" y="395.5" width="56" height="7"/>
<rect class="o" x="1053.5" y="397.5" width="56" height="5"/>
<rect class="g" x="1053.5" y="387.5" width="56" height="15"/>
<rect class="o" x="1060.5" y="399.5" width="56" height="3"/>
<rect class="g" x="1060.5" y="394.5" width="56" height="8"/>
<rect class="o" x="1067.5" y="399.5" width="56" height="3"/>
<rect class="g" x="1067.5" y="394.5" width="56" height="8"/>
<rect class="o" x="1081.5" y="399.5" width="57" height="3"/>
<rect class="g" x="1081.5" y="394.5" width="57" height="8"/>
<rect class="o" x="1088.5" y="392.5" width="57" height="10"/>
<rect class="g" x="1088.5" y="370.5" width="57" height="32"/>
<rect class="o" x="1102.5" y="397.5" width="57" height="5"/>
<rect class="g" x="1102.5" y="386.5" width="57" height="16"/>
<rect class="o" x="1109.5" y="395.5" width="57" height="7"/>
<rect class="g" x="1109.5" y="377.5" width="57" height="25"/>
<rect class="o" x="1116.5" y="397.5" width="57" height="5"/>
<rect class="g" x="1116.5" y="385.5" width="57" height="17"/>
<rect class="o" x="1123.5" y="399.5" width="57" height="3"/>
<rect class="g" x="1123.5" y="393.5" width="57" height="9"/>
<rect class="o" x="1131.5" y="397.5" width="56" height="5"/>
<rect class="g" x="1131.5" y="384.5" width="56" height="18"/>
<rect class="o" x="1145.5" y="397.5" width="56" height="5"/>
<rect class="g" x="1145.5" y="384.5" width="56" height="18"/>
<rect class="o" x="1152.5" y="399.5" width="56" height="3"/>
<rect class="g" x="1152.5" y="393.5" width="56" height="9"/>
<rect class="o" x="1159.5" y="395.5" width="57" height="7"/>
<rect class="g" x="1159.5" y="374.5" width="57" height="28"/>
<rect class="o" x="1166.5" y="395.5" width="57" height="7"/>
<rect class="g" x="1166.5" y="373.5" width="57" height="29"/>
<rect class="o" x="1173.5" y="397.5" width="57" height="5"/>
<rect class="g" x="1173.5" y="382.5" width="57" height="20"/>
<rect class="o" x="1180.5" y="399.5" width="57" height="3"/>
<rect class="g" x="1180.5" y="392.5" width="57" height="10"/>
<rect class="o" x="1187.5" y="395.5" width="57" height="7"/>
<rect class="g" x="1187.5" y="371.5" width="57" height="31"/>
<rect class="o" x="1194.5" y="392.5" width="57" height="10"/>
<rect class="g" x="1194.5" y="360.5" width="57" height="42"/>
<rect class="o" x="1201.5" y="399.5" width="57" height="3"/>
<rect class="g" x="1201.5" y="391.5" width="57" height="11"/>
<rect class="o" x="1208.5" y="397.5" width="57" height="5"/>
<rect class="g" x="1208.5" y="380.5" width="57" height="22"/>
<rect class="o" x="1216.5" y="399.5" width="56" height="3"/>
<rect class="g" x="1216.5" y="391.5" width="56" height="11"/>
<rect class="o" x="1230.5" y="397.5" width="56" height="5"/>
<rect class="g" x="1230.5" y="378.5" width="56" height="24"/>
<rect class="o" x="1244.5" y="397.5" width="57" height="5"/>
<rect class="g" x="1244.5" y="377.5" width="57" height="25"/>
<rect class="o" x="1258.5" y="397.5" width="57" height="5"/>
<rect class="g" x="1258.5" y="376.5" width="57" height="26"/>
<rect class="o" x="1265.5" y="397.5" width="57" height="5"/>
<rect class="g" x="1265.5" y="375.5" width="57" height="27"/>
<rect class="o" x="1272.5" y="395.5" width="57" height="7"/>
<rect class="g" x="1272.5" y="360.5" width="57" height="42"/>
<rect class="o" x="1279.5" y="399.5" width="57" height="3"/>
<rect class="g" x="1279.5" y="387.5" width="57" height="15"/>
<rect class="o" x="1286.5" y="399.5" width="57" height="3"/>
<rect class="g" x="1286.5" y="387.5" width="57" height="15"/>
<rect class="o" x="1293.5" y="399.5" width="57" height="3"/>
<rect class="g" x="1293.5" y="387.5" width="57" height="15"/>
<rect class="o" x="1301.5" y="397.5" width="56" height="5"/>
<rect class="g" x="1301.5" y="371.5" width="56" height="31"/>
<rect class="o" x="1308.5" y="397.5" width="56" height="5"/>
<rect class="g" x="1308.5" y="369.5" width="56" height="33"/>
<rect class="o" x="1322.5" y="399.5" width="56" height="3"/>
<rect class="g" x="1322.5" y="384.5" width="56" height="18"/>
<rect class="o" x="1336.5" y="399.5" width="57" height="3"/>
<rect class="g" x="1336.5" y="383.5" width="57" height="19"/>
<rect class="o" x="1343.5" y="397.5" width="57" height="5"/>
<rect class="g" x="1343.5" y="363.5" width="57" height="39"/>
<rect class="o" x="1350.5" y="397.5" width="57" height="5"/>
<rect class="g" x="1350.5" y="361.5" width="57" height="41"/>
<rect class="o" x="1357.5" y="397.5" width="57" height="5"/>
<rect class="g" x="1357.5" y="359.5" width="57" height="43"/>
<rect class="o" x="1371.5" y="399.5" width="57" height="3"/>
<rect class="g" x="1371.5" y="379.5" width="57" height="23"/>
<rect class="o" x="1378.5" y="397.5" width="57" height="5"/>
<rect class="g" x="1378.5" y="353.5" width="57" height="49"/>
<rect class="o" x="1385.5" y="399.5" width="57" height="3"/>
<rect class="g" x="1385.5" y="376.5" width="57" height="26"/>
<rect class="o" x="1393.5" y="399.5" width="56" height="3"/>
<rect class="g" x="1393.5" y="375.5" width="56" height="27"/>
<rect class="o" x="1400.5" y="392.5" width="56" height="10"/>
<rect class="g" x="1400.5" y="286.5" width="56" height="116"/>
<rect class="o" x="1407.5" y="397.5" width="56" height="5"/>
<rect class="g" x="1407.5" y="341.5" width="56" height="61"/>
<rect class="o" x="1421.5" y="399.5" width="57" height="3"/>
<rect class="g" x="1421.5" y="367.5" width="57" height="35"/>
<rect class="o" x="1442.5" y="399.5" width="57" height="3"/>
<rect class="g" x="1442.5" y="357.5" width="57" height="45"/>
<rect class="o" x="1456.5" y="395.5" width="57" height="7"/>
<rect class="g" x="1456.5" y="233.5" width="57" height="169"/>
<rect class="o" x="1478.5" y="399.5" width="56" height="3"/>
<rect class="g" x="1478.5" y="322.5" width="56" height="80"/>
<rect class="o" x="1492.5" y="397.5" width="56" height="5"/>
<rect class="g" x="1492.5" y="93.5" width="56" height="309"/>
<rect class="b" x="160.5" y="402.5" width="57" height="2"/>
<rect class="b" x="167.5" y="402.5" width="57" height="2"/>
<rect class="b" x="175.5" y="402.5" width="56" height="5"/>
<rect class="b" x="182.5" y="402.5" width="56" height="2"/>
<rect class="b" x="189.5" y="402.5" width="56" height="2"/>
<rect class="b" x="196.5" y="402.5" width="56" height="2"/>
<rect class="b" x="217.5" y="402.5" width="57" height="2"/>
<rect class="b" x="231.5" y="402.5" width="57" height="2"/>
<rect class="b" x="238.5" y="402.5" width="57" height="2"/>
<rect class="b" x="245.5" y="402.5" width="57" height="2"/>
<rect class="b" x="252.5" y="402.5" width="57" height="2"/>
<rect class="b" x="260.5" y="402.5" width="56" height="2"/>
<rect class="b" x="267.5" y="402.5" width="56" height="2"/>
<rect class="b" x="274.5" y="402.5" width="56" height="2"/>
<rect class="b" x="281.5" y="402.5" width="56" height="7"/>
<rect class="b" x="288.5" y="402.5" width="57" height="2"/>
<rect class="b" x="295.5" y="402.5" width="57" height="2"/>
<rect class="b" x="302.5" y="402.5" width="57" height="2"/>
<rect class="b" x="309.5" y="402.5" width="57" height="2"/>
<rect class="b" x="316.5" y="402.5" width="57" height="5"/>
<rect class="b" x="323.5" y="402.5" width="57" height="5"/>
<rect class="b" x="330.5" y="402.5" width="57" height="2"/>
<rect class="b" x="337.5" y="402.5" width="57" height="2"/>
<rect class="b" x="345.5" y="402.5" width="56" height="2"/>
<rect class="b" x="352.5" y="402.5" width="56" height="2"/>
<rect class="b" x="359.5" y="402.5" width="56" height="5"/>
<rect class="b" x="366.5" y="402.5" width="56" height="7"/>
<rect class="b" x="387.5" y="402.5" width="57" height="2"/>
<rect class="b" x="394.5" y="402.5" width="57" height="2"/>
<rect class="b" x="401.5" y="402.5" width="57" height="5"/>
<rect class="b" x="415.5" y="402.5" width="57" height="2"/>
<rect class="b" x="422.5" y="402.5" width="57" height="2"/>
<rect class="b" x="429.5" y="402.5" width="57" height="5"/>
<rect class="b" x="437.5" y="402.5" width="56" height="2"/>
<rect class="b" x="444.5" y="402.5" width="56" height="2"/>
<rect class="b" x="451.5" y="402.5" width="56" height="2"/>
<rect class="b" x="458.5" y="402.5" width="56" height="2"/>
<rect class="b" x="465.5" y="402.5" width="57" height="2"/>
<rect class="b" x="472.5" y="402.5" width="57" height="5"/>
<rect class="b" x="479.5" y="402.5" width="57" height="2"/>
<rect class="b" x="493.5" y="402.5" width="57" height="2"/>
<rect class="b" x="500.5" y="402.5" width="57" height="5"/>
<rect class="b" x="507.5" y="402.5" width="57" height="2"/>
<rect class="b" x="514.5" y="402.5" width="57" height="5"/>
<rect class="b" x="522.5" y="402.5" width="56" height="5"/>
<rect class="b" x="529.5" y="402.5" width="56" height="2"/>
<rect class="b" x="543.5" y="402.5" width="56" height="2"/>
<rect class="b" x="550.5" y="402.5" width="57" height="2"/>
<rect class="b" x="557.5" y="402.5" width="57" height="12"/>
<rect class="b" x="564.5" y="402.5" width="57" height="5"/>
<rect class="b" x="571.5" y="402.5" width="57" height="2"/>
<rect class="b" x="578.5" y="402.5" width="57" height="5"/>
<rect class="b" x="585.5" y="402.5" width="57" height="5"/>
<rect class="b" x="592.5" y="402.5" width="57" height="7"/>
<rect class="b" x="599.5" y="402.5" width="57" height="5"/>
<rect class="b" x="607.5" y="402.5" width="56" height="2"/>
<rect class="b" x="621.5" y="402.5" width="56" height="5"/>
<rect class="b" x="642.5" y="402.5" width="57" height="5"/>
<rect class="b" x="649.5" y="402.5" width="57" height="5"/>
<rect class="b" x="656.5" y="402.5" width="57" height="2"/>
<rect class="b" x="663.5" y="402.5" width="57" height="5"/>
<rect class="b" x="670.5" y="402.5" width="57" height="7"/>
<rect class="b" x="677.5" y="402.5" width="57" height="2"/>
<rect class="b" x="691.5" y="402.5" width="57" height="2"/>
<rect class="b" x="699.5" y="402.5" width="56" height="2"/>
<rect class="b" x="706.5" y="402.5" width="56" height="2"/>
<rect class="b" x="720.5" y="402.5" width="56" height="2"/>
<rect class="b" x="727.5" y="402.5" width="57" height="5"/>
<rect class="b" x="734.5" y="402.5" width="57" height="5"/>
<rect class="b" x="741.5" y="402.5" width="57" height="7"/>
<rect class="b" x="748.5" y="402.5" width="57" height="14"/>
<rect class="b" x="755.5" y="402.5" width="57" height="9"/>
<rect class="b" x="762.5" y="402.5" width="57" height="2"/>
<rect class="b" x="769.5" y="402.5" width="57" height="5"/>
<rect class="b" x="776.5" y="402.5" width="57" height="2"/>
<rect class="b" x="784.5" y="402.5" width="56" height="5"/>
<rect class="b" x="791.5" y="402.5" width="56" height="2"/>
<rect class="b" x="798.5" y="402.5" width="56" height="5"/>
<rect class="b" x="805.5" y="402.5" width="56" height="7"/>
<rect class="b" x="812.5" y="402.5" width="57" height="2"/>
<rect class="b" x="819.5" y="402.5" width="57" height="2"/>
<rect class="b" x="826.5" y="402.5" width="57" height="2"/>
<rect class="b" x="833.5" y="402.5" width="57" height="5"/>
<rect class="b" x="840.5" y="402.5" width="57" height="9"/>
<rect class="b" x="861.5" y="402.5" width="57" height="9"/>
<rect class="b" x="869.5" y="402.5" width="56" height="12"/>
<rect class="b" x="876.5" y="402.5" width="56" height="7"/>
<rect class="b" x="897.5" y="402.5" width="57" height="2"/>
<rect class="b" x="904.5" y="402.5" width="57" height="5"/>
<rect class="b" x="911.5" y="402.5" width="57" height="12"/>
<rect class="b" x="918.5" y="402.5" width="57" height="5"/>
<rect class="b" x="925.5" y="402.5" width="57" height="2"/>
<rect class="b" x="932.5" y="402.5" width="57" height="7"/>
<rect class="b" x="939.5" y="402.5" width="57" height="7"/>
<rect class="b" x="946.5" y="402.5" width="57" height="2"/>
<rect class="b" x="954.5" y="402.5" width="56" height="2"/>
<rect class="b" x="961.5" y="402.5" width="56" height="7"/>
<rect class="b" x="968.5" y="402.5" width="56" height="5"/>
<rect class="b" x="975.5" y="402.5" width="56" height="2"/>
<rect class="b" x="982.5" y="402.5" width="56" height="5"/>
<rect class="b" x="989.5" y="402.5" width="57" height="14"/>
<rect class="b" x="996.5" y="402.5" width="57" height="12"/>
<rect class="b" x="1003.5" y="402.5" width="57" height="24"/>
<rect class="b" x="1010.5" y="402.5" width="57" height="7"/>
<rect class="b" x="1017.5" y="402.5" width="57" height="9"/>
<rect class="b" x="1024.5" y="402.5" width="57" height="14"/>
<rect class="b" x="1031.5" y="402.5" width="57" height="2"/>
<rect class="b" x="1038.5" y="402.5" width="57" height="12"/>
<rect class="b" x="1053.5" y="402.5" width="56" height="7"/>
<rect class="b" x="1060.5" y="402.5" width="56" height="7"/>
<rect class="b" x="1067.5" y="402.5" width="56" height="7"/>
<rect class="b" x="1074.5" y="402.5" width="57" height="12"/>
<rect class="b" x="1081.5" y="402.5" width="57" height="14"/>
<rect class="b" x="1088.5" y="402.5" width="57" height="9"/>
<rect class="b" x="1095.5" y="402.5" width="57" height="19"/>
<rect class="b" x="1102.5" y="402.5" width="57" height="14"/>
<rect class="b" x="1109.5" y="402.5" width="57" height="7"/>
<rect class="b" x="1116.5" y="402.5" width="57" height="12"/>
<rect class="b" x="1123.5" y="402.5" width="57" height="14"/>
<rect class="b" x="1131.5" y="402.5" width="56" height="19"/>
<rect class="b" x="1138.5" y="402.5" width="56" height="5"/>
<rect class="b" x="1145.5" y="402.5" width="56" height="19"/>
<rect class="b" x="1152.5" y="402.5" width="56" height="2"/>
<rect class="b" x="1159.5" y="402.5" width="57" height="5"/>
<rect class="b" x="1166.5" y="402.5" width="57" height="16"/>
<rect class="b" x="1173.5" y="402.5" width="57" height="9"/>
<rect class="b" x="1180.5" y="402.5" width="57" height="12"/>
<rect class="b" x="1187.5" y="402.5" width="57" height="14"/>
<rect class="b" x="1194.5" y="402.5" width="57" height="9"/>
<rect class="b" x="1201.5" y="402.5" width="57" height="5"/>
<rect class="b" x="1208.5" y="402.5" width="57" height="7"/>
<rect class="b" x="1216.5" y="402.5" width="56" height="16"/>
<rect class="b" x="1223.5" y="402.5" width="56" height="26"/>
<rect class="b" x="1230.5" y="402.5" width="56" height="12"/>
<rect class="b" x="1237.5" y="402.5" width="56" height="14"/>
<rect class="b" x="1244.5" y="402.5" width="57" height="16"/>
<rect class="b" x="1251.5" y="402.5" width="57" height="9"/>
<rect class="b" x="1258.5" y="402.5" width="57" height="14"/>
<rect class="b" x="1265.5" y="402.5" width="57" height="16"/>
<rect class="b" x="1272.5" y="402.5" width="57" height="5"/>
<rect class="b" x="1279.5" y="402.5" width="57" height="16"/>
<rect class="b" x="1286.5" y="402.5" width="57" height="31"/>
<rect class="b" x="1293.5" y="402.5" width="57" height="16"/>
<rect class="b" x="1301.5" y="402.5" width="56" height="21"/>
<rect class="b" x="1308.5" y="402.5" width="56" height="14"/>
<rect class="b" x="1315.5" y="402.5" width="56" height="14"/>
<rect class="b" x="1322.5" y="402.5" width="56" height="9"/>
<rect class="b" x="1329.5" y="402.5" width="56" height="14"/>
<rect class="b" x="1336.5" y="402.5" width="57" height="33"/>
<rect class="b" x="1343.5" y="402.5" width="57" height="2"/>
<rect class="b" x="1350.5" y="402.5" width="57" height="24"/>
<rect class="b" x="1357.5" y="402.5" width="57" height="12"/>
<rect class="b" x="1364.5" y="402.5" width="57" height="7"/>
<rect class="b" x="1371.5" y="402.5" width="57" height="16"/>
<rect class="b" x="1378.5" y="402.5" width="57" height="14"/>
<rect class="b" x="1385.5" y="402.5" width="57" height="14"/>
<rect class="b" x="1393.5" y="402.5" width="56" height="21"/>
<rect class="b" x="1400.5" y="402.5" width="56" height="24"/>
<rect class="b" x="1407.5" y="402.5" width="56" height="24"/>
<rect class="b" x="1414.5" y="402.5" width="56" height="9"/>
<rect class="b" x="1421.5" y="402.5" width="57" height="33"/>
<rect class="b" x="1428.5" y="402.5" width="57" height="26"/>
<rect class="b" x="1435.5" y="402.5" width="57" height="28"/>
<rect class="b" x="1442.5" y="402.5" width="57" height="26"/>
<rect class="b" x="1449.5" y="402.5" width="57" height="24"/>
<rect class="b" x="1456.5" y="402.5" width="57" height="21"/>
<rect class="b" x="1463.5" y="402.5" width="57" height="40"/>
<rect class="b" x="1470.5" y="402.5" width="57" height="28"/>
<rect class="b" x="1478.5" y="402.5" width="56" height="31"/>
<rect class="b" x="1485.5" y="402.5" width="56" height="28"/>
<rect class="b" x="1492.5" y="402.5" width="56" height="14"/>
<rect class="g" x="160.5" y="402.5" width="57" height="54"/>
<rect class="g" x="167.5" y="402.5" width="57" height="52"/>
<rect class="g" x="175.5" y="402.5" width="56" height="91"/>
<rect class="g" x="182.5" y="402.5" width="56" height="41"/>
<rect class="g" x="189.5" y="402.5" width="56" height="37"/>
<rect class="g" x="196.5" y="402.5" width="56" height="35"/>
<rect class="g" x="217.5" y="402.5" width="57" height="28"/>
<rect class="g" x="231.5" y="402.5" width="57" height="26"/>
<rect class="g" x="238.5" y="402.5" width="57" height="25"/>
<rect class="g" x="245.5" y="402.5" width="57" height="23"/>
<rect class="g" x="252.5" y="402.5" width="57" height="22"/>
<rect class="g" x="260.5" y="402.5" width="56" height="21"/>
<rect class="g" x="267.5" y="402.5" width="56" height="20"/>
<rect class="g" x="274.5" y="402.5" width="56" height="20"/>
<rect class="g" x="281.5" y="402.5" width="56" height="56"/>
<rect class="g" x="288.5" y="402.5" width="57" height="18"/>
<rect class="g" x="295.5" y="402.5" width="57" height="17"/>
<rect class="g" x="302.5" y="402.5" width="57" height="16"/>
<rect class="g" x="309.5" y="402.5" width="57" height="16"/>
<rect class="g" x="316.5" y="402.5" width="57" height="31"/>
<rect class="g" x="323.5" y="402.5" width="57" height="30"/>
<rect class="g" x="330.5" y="402.5" width="57" height="15"/>
<rect class="g" x="337.5" y="402.5" width="57" height="14"/>
<rect class="g" x="345.5" y="402.5" width="56" height="14"/>
<rect class="g" x="352.5" y="402.5" width="56" height="13"/>
<rect class="g" x="359.5" y="402.5" width="56" height="26"/>
<rect class="g" x="366.5" y="402.5" width="56" height="37"/>
<rect class="g" x="387.5" y="402.5" width="57" height="11"/>
<rect class="g" x="394.5" y="402.5" width="57" height="11"/>
<rect class="g" x="401.5" y="402.5" width="57" height="22"/>
<rect class="g" x="415.5" y="402.5" width="57" height="11"/>
<rect class="g" x="422.5" y="402.5" width="57" height="10"/>
<rect class="g" x="429.5" y="402.5" width="57" height="20"/>
<rect class="g" x="437.5" y="402.5" width="56" height="10"/>
<rect class="g" x="444.5" y="402.5" width="56" height="10"/>
<rect class="g" x="451.5" y="402.5" width="56" height="10"/>
<rect class="g" x="458.5" y="402.5" width="56" height="9"/>
<rect class="g" x="465.5" y="402.5" width="57" height="9"/>
<rect class="g" x="472.5" y="402.5" width="57" height="18"/>
<rect class="g" x="479.5" y="402.5" width="57" height="9"/>
<rect class="g" x="493.5" y="402.5" width="57" height="8"/>
<rect class="g" x="500.5" y="402.5" width="57" height="17"/>
<rect class="g" x="507.5" y="402.5" width="57" height="8"/>
<rect class="g" x="514.5" y="402.5" width="57" height="16"/>
<rect class="g" x="522.5" y="402.5" width="56" height="16"/>
<rect class="g" x="529.5" y="402.5" width="56" height="8"/>
<rect class="g" x="543.5" y="402.5" width="56" height="7"/>
<rect class="g" x="550.5" y="402.5" width="57" height="7"/>
<rect class="g" x="557.5" y="402.5" width="57" height="37"/>
<rect class="g" x="564.5" y="402.5" width="57" height="14"/>
<rect class="g" x="571.5" y="402.5" width="57" height="7"/>
<rect class="g" x="578.5" y="402.5" width="57" height="14"/>
<rect class="g" x="585.5" y="402.5" width="57" height="14"/>
<rect class="g" x="592.5" y="402.5" width="57" height="20"/>
<rect class="g" x="599.5" y="402.5" width="57" height="13"/>
<rect class="g" x="607.5" y="402.5" width="56" height="6"/>
<rect class="g" x="621.5" y="402.5" width="56" height="13"/>
<rect class="g" x="642.5" y="402.5" width="57" height="12"/>
<rect class="g" x="649.5" y="402.5" width="57" height="12"/>
<rect class="g" x="656.5" y="402.5" width="57" height="6"/>
<rect class="g" x="663.5" y="402.5" width="57" height="12"/>
<rect class="g" x="670.5" y="402.5" width="57" height="18"/>
<rect class="g" x="677.5" y="402.5" width="57" height="6"/>
<rect class="g" x="691.5" y="402.5" width="57" height="6"/>
<rect class="g" x="699.5" y="402.5" width="56" height="5"/>
<rect class="g" x="706.5" y="402.5" width="56" height="5"/>
<rect class="g" x="720.5" y="402.5" width="56" height="5"/>
<rect class="g" x="727.5" y="402.5" width="57" height="11"/>
<rect class="g" x="734.5" y="402.5" width="57" height="11"/>
<rect class="g" x="741.5" y="402.5" width="57" height="16"/>
<rect class="g" x="748.5" y="402.5" width="57" height="31"/>
<rect class="g" x="755.5" y="402.5" width="57" height="20"/>
<rect class="g" x="762.5" y="402.5" width="57" height="5"/>
<rect class="g" x="769.5" y="402.5" width="57" height="10"/>
<rect class="g" x="776.5" y="402.5" width="57" height="5"/>
<rect class="g" x="784.5" y="402.5" width="56" height="10"/>
<rect class="g" x="791.5" y="402.5" width="56" height="5"/>
<rect class="g" x="798.5" y="402.5" width="56" height="10"/>
<rect class="g" x="805.5" y="402.5" width="56" height="14"/>
<rect class="g" x="812.5" y="402.5" width="57" height="5"/>
<rect class="g" x="819.5" y="402.5" width="57" height="4"/>
<rect class="g" x="826.5" y="402.5" width="57" height="4"/>
<rect class="g" x="833.5" y="402.5" width="57" height="9"/>
<rect class="g" x="840.5" y="402.5" width="57" height="18"/>
<rect class="g" x="861.5" y="402.5" width="57" height="18"/>
<rect class="g" x="869.5" y="402.5" width="56" height="22"/>
<rect class="g" x="876.5" y="402.5" width="56" height="13"/>
<rect class="g" x="897.5" y="402.5" width="57" height="4"/>
<rect class="g" x="904.5" y="402.5" width="57" height="8"/>
<rect class="g" x="911.5" y="402.5" width="57" height="21"/>
<rect class="g" x="918.5" y="402.5" width="57" height="8"/>
<rect class="g" x="925.5" y="402.5" width="57" height="4"/>
<rect class="g" x="932.5" y="402.5" width="57" height="12"/>
<rect class="g" x="939.5" y="402.5" width="57" height="12"/>
<rect class="g" x="946.5" y="402.5" width="57" height="4"/>
<rect class="g" x="954.5" y="402.5" width="56" height="4"/>
<rect class="g" x="961.5" y="402.5" width="56" height="12"/>
<rect class="g" x="968.5" y="402.5" width="56" height="8"/>
<rect class="g" x="975.5" y="402.5" width="56" height="4"/>
<rect class="g" x="982.5" y="402.5" width="56" height="7"/>
<rect class="g" x="989.5" y="402.5" width="57" height="23"/>
<rect class="g" x="996.5" y="402.5" width="57" height="19"/>
<rect class="g" x="1003.5" y="402.5" width="57" height="37"/>
<rect class="g" x="1010.5" y="402.5" width="57" height="11"/>
<rect class="g" x="1017.5" y="402.5" width="57" height="15"/>
<rect class="g" x="1024.5" y="402.5" width="57" height="22"/>
<rect class="g" x="1031.5" y="402.5" width="57" height="3"/>
<rect class="g" x="1038.5" y="402.5" width="57" height="18"/>
<rect class="g" x="1053.5" y="402.5" width="56" height="10"/>
<rect class="g" x="1060.5" y="402.5" width="56" height="10"/>
<rect class="g" x="1067.5" y="402.5" width="56" height="10"/>
<rect class="g" x="1074.5" y="402.5" width="57" height="17"/>
<rect class="g" x="1081.5" y="402.5" width="57" height="20"/>
<rect class="g" x="1088.5" y="402.5" width="57" height="13"/>
<rect class="g" x="1095.5" y="402.5" width="57" height="27"/>
<rect class="g" x="1102.5" y="402.5" width="57" height="20"/>
<rect class="g" x="1109.5" y="402.5" width="57" height="10"/>
<rect class="g" x="1116.5" y="402.5" width="57" height="16"/>
<rect class="g" x="1123.5" y="402.5" width="57" height="20"/>
<rect class="g" x="1131.5" y="402.5" width="56" height="26"/>
<rect class="g" x="1138.5" y="402.5" width="56" height="6"/>
<rect class="g" x="1145.5" y="402.5" width="56" height="26"/>
<rect class="g" x="1152.5" y="402.5" width="56" height="3"/>
<rect class="g" x="1159.5" y="402.5" width="57" height="6"/>
<rect class="g" x="1166.5" y="402.5" width="57" height="22"/>
<rect class="g" x="1173.5" y="402.5" width="57" height="12"/>
<rect class="g" x="1180.5" y="402.5" width="57" height="15"/>
<rect class="g" x="1187.5" y="402.5" width="57" height="18"/>
<rect class="g" x="1194.5" y="402.5" width="57" height="12"/>
<rect class="g" x="1201.5" y="402.5" width="57" height="6"/>
<rect class="g" x="1208.5" y="402.5" width="57" height="9"/>
<rect class="g" x="1216.5" y="402.5" width="56" height="21"/>
<rect class="g" x="1223.5" y="402.5" width="56" height="33"/>
<rect class="g" x="1230.5" y="402.5" width="56" height="15"/>
<rect class="g" x="1237.5" y="402.5" width="56" height="18"/>
<rect class="g" x="1244.5" y="402.5" width="57" height="20"/>
<rect class="g" x="1251.5" y="402.5" width="57" height="12"/>
<rect class="g" x="1258.5" y="402.5" width="57" height="17"/>
<rect class="g" x="1265.5" y="402.5" width="57" height="20"/>
<rect class="g" x="1272.5" y="402.5" width="57" height="6"/>
<rect class="g" x="1279.5" y="402.5" width="57" height="20"/>
<rect class="g" x="1286.5" y="402.5" width="57" height="37"/>
<rect class="g" x="1293.5" y="402.5" width="57" height="20"/>
<rect class="g" x="1301.5" y="402.5" width="56" height="25"/>
<rect class="g" x="1308.5" y="402.5" width="56" height="17"/>
<rect class="g" x="1315.5" y="402.5" width="56" height="16"/>
<rect class="g" x="1322.5" y="402.5" width="56" height="11"/>
<rect class="g" x="1329.5" y="402.5" width="56" height="16"/>
<rect class="g" x="1336.5" y="402.5" width="57" height="38"/>
<rect class="g" x="1343.5" y="402.5" width="57" height="3"/>
<rect class="g" x="1350.5" y="402.5" width="57" height="27"/>
<rect class="g" x="1357.5" y="402.5" width="57" height="13"/>
<rect class="g" x="1364.5" y="402.5" width="57" height="8"/>
<rect class="g" x="1371.5" y="402.5" width="57" height="18"/>
<rect class="g" x="1378.5" y="402.5" width="57" height="16"/>
<rect class="g" x="1385.5" y="402.5" width="57" height="16"/>
<rect class="g" x="1393.5" y="402.5" width="56" height="23"/>
<rect class="g" x="1400.5" y="402.5" width="56" height="26"/>
<rect class="g" x="1407.5" y="402.5" width="56" height="26"/>
<rect class="g" x="1414.5" y="402.5" width="56" height="10"/>
<rect class="g" x="1421.5" y="402.5" width="57" height="36"/>
<rect class="g" x="1428.5" y="402.5" width="57" height="28"/>
<rect class="g" x="1435.5" y="402.5" width="57" height="30"/>
<rect class="g" x="1442.5" y="402.5" width="57" height="27"/>
<rect class="g" x="1449.5" y="402.5" width="57" height="25"/>
<rect class="g" x="1456.5" y="402.5" width="57" height="22"/>
<rect class="g" x="1463.5" y="402.5" width="57" height="42"/>
<rect class="g" x="1470.5" y="402.5" width="57" height="29"/>
<rect class="g" x="1478.5" y="402.5" width="56" height="32"/>
<rect class="g" x="1485.5" y="402.5" width="56" height="29"/>
<rect class="g" x="1492.5" y="402.5" width="56" height="14"/>
<rect class="o" x="139.5" y="395.5" width="57" height="7"/>
<rect class="g" x="139.5" y="394.5" width="57" height="8"/>
<rect class="o" x="146.5" y="397.5" width="57" height="5"/>
<rect class="g" x="146.5" y="397.5" width="57" height="5"/>
<rect class="o" x="153.5" y="395.5" width="57" height="7"/>
<rect class="g" x="153.5" y="394.5" width="57" height="8"/>
<rect class="o" x="160.5" y="392.5" width="57" height="10"/>
<rect class="g" x="160.5" y="392.5" width="57" height="10"/>
<rect class="o" x="167.5" y="392.5" width="57" height="10"/>
<rect class="g" x="167.5" y="392.5" width="57" height="10"/>
<rect class="o" x="175.5" y="395.5" width="56" height="7"/>
<rect class="g" x="175.5" y="394.5" width="56" height="8"/>
<rect class="o" x="182.5" y="390.5" width="56" height="12"/>
<rect class="g" x="182.5" y="389.5" width="56" height="13"/>
<rect class="o" x="196.5" y="397.5" width="56" height="5"/>
<rect class="g" x="196.5" y="397.5" width="56" height="5"/>
<rect class="o" x="203.5" y="395.5" width="57" height="7"/>
<rect class="g" x="203.5" y="394.5" width="57" height="8"/>
<rect class="o" x="210.5" y="387.5" width="57" height="15"/>
<rect class="g" x="210.5" y="386.5" width="57" height="16"/>
<rect class="o" x="217.5" y="395.5" width="57" height="7"/>
<rect class="g" x="217.5" y="394.5" width="57" height="8"/>
<rect class="o" x="224.5" y="385.5" width="57" height="17"/>
<rect class="g" x="224.5" y="384.5" width="57" height="18"/>
<rect class="o" x="231.5" y="387.5" width="57" height="15"/>
<rect class="g" x="231.5" y="386.5" width="57" height="16"/>
<rect class="o" x="238.5" y="395.5" width="57" height="7"/>
<rect class="g" x="238.5" y="394.5" width="57" height="8"/>
<rect class="o" x="245.5" y="385.5" width="57" height="17"/>
<rect class="g" x="245.5" y="383.5" width="57" height="19"/>
<rect class="o" x="252.5" y="399.5" width="57" height="3"/>
<rect class="g" x="252.5" y="399.5" width="57" height="3"/>
<rect class="o" x="260.5" y="392.5" width="56" height="10"/>
<rect class="g" x="260.5" y="391.5" width="56" height="11"/>
<rect class="o" x="267.5" y="383.5" width="56" height="19"/>
<rect class="g" x="267.5" y="380.5" width="56" height="22"/>
<rect class="o" x="274.5" y="395.5" width="56" height="7"/>
<rect class="g" x="274.5" y="394.5" width="56" height="8"/>
<rect class="o" x="281.5" y="390.5" width="56" height="12"/>
<rect class="g" x="281.5" y="388.5" width="56" height="14"/>
<rect class="o" x="288.5" y="385.5" width="57" height="17"/>
<rect class="g" x="288.5" y="383.5" width="57" height="19"/>
<rect class="o" x="295.5" y="380.5" width="57" height="22"/>
<rect class="g" x="295.5" y="377.5" width="57" height="25"/>
<rect class="o" x="302.5" y="392.5" width="57" height="10"/>
<rect class="g" x="302.5" y="391.5" width="57" height="11"/>
<rect class="o" x="309.5" y="392.5" width="57" height="10"/>
<rect class="g" x="309.5" y="391.5" width="57" height="11"/>
<rect class="o" x="316.5" y="395.5" width="57" height="7"/>
<rect class="g" x="316.5" y="393.5" width="57" height="9"/>
<rect class="o" x="323.5" y="397.5" width="57" height="5"/>
<rect class="g" x="323.5" y="396.5" width="57" height="6"/>
<rect class="o" x="330.5" y="390.5" width="57" height="12"/>
<rect class="g" x="330.5" y="388.5" width="57" height="14"/>
<rect class="o" x="337.5" y="397.5" width="57" height="5"/>
<rect class="g" x="337.5" y="396.5" width="57" height="6"/>
<rect class="o" x="345.5" y="392.5" width="56" height="10"/>
<rect class="g" x="345.5" y="390.5" width="56" height="12"/>
<rect class="o" x="352.5" y="390.5" width="56" height="12"/>
<rect class="g" x="352.5" y="387.5" width="56" height="15"/>
<rect class="o" x="359.5" y="397.5" width="56" height="5"/>
<rect class="g" x="359.5" y="396.5" width="56" height="6"/>
<rect class="o" x="366.5" y="397.5" width="56" height="5"/>
<rect class="g" x="366.5" y="396.5" width="56" height="6"/>
<rect class="o" x="373.5" y="390.5" width="56" height="12"/>
<rect class="g" x="373.5" y="387.5" width="56" height="15"/>
<rect class="o" x="380.5" y="397.5" width="57" height="5"/>
<rect class="g" x="380.5" y="396.5" width="57" height="6"/>
<rect class="o" x="387.5" y="390.5" width="57" height="12"/>
<rect class="g" x="387.5" y="387.5" width="57" height="15"/>
<rect class="o" x="394.5" y="397.5" width="57" height="5"/>
<rect class="g" x="394.5" y="396.5" width="57" height="6"/>
<rect class="o" x="401.5" y="392.5" width="57" height="10"/>
<rect class="g" x="401.5" y="390.5" width="57" height="12"/>
<rect class="o" x="408.5" y="390.5" width="57" height="12"/>
<rect class="g" x="408.5" y="387.5" width="57" height="15"/>
<rect class="o" x="415.5" y="395.5" width="57" height="7"/>
<rect class="g" x="415.5" y="393.5" width="57" height="9"/>
<rect class="o" x="422.5" y="390.5" width="57" height="12"/>
<rect class="g" x="422.5" y="386.5" width="57" height="16"/>
<rect class="o" x="429.5" y="397.5" width="57" height="5"/>
<rect class="g" x="429.5" y="396.5" width="57" height="6"/>
<rect class="o" x="437.5" y="385.5" width="56" height="17"/>
<rect class="g" x="437.5" y="380.5" width="56" height="22"/>
<rect class="o" x="444.5" y="395.5" width="56" height="7"/>
<rect class="g" x="444.5" y="392.5" width="56" height="10"/>
<rect class="o" x="451.5" y="387.5" width="56" height="15"/>
<rect class="g" x="451.5" y="383.5" width="56" height="19"/>
<rect class="o" x="458.5" y="395.5" width="56" height="7"/>
<rect class="g" x="458.5" y="392.5" width="56" height="10"/>
<rect class="o" x="465.5" y="392.5" width="57" height="10"/>
<rect class="g" x="465.5" y="389.5" width="57" height="13"/>
<rect class="o" x="472.5" y="397.5" width="57" height="5"/>
<rect class="g" x="472.5" y="395.5" width="57" height="7"/>
<rect class="o" x="479.5" y="395.5" width="57" height="7"/>
<rect class="g" x="479.5" y="392.5" width="57" height="10"/>
<rect class="o" x="486.5" y="395.5" width="57" height="7"/>
<rect class="g" x="486.5" y="392.5" width="57" height="10"/>
<rect class="o" x="493.5" y="395.5" width="57" height="7"/>
<rect class="g" x="493.5" y="392.5" width="57" height="10"/>
<rect class="o" x="500.5" y="395.5" width="57" height="7"/>
<rect class="g" x="500.5" y="392.5" width="57" height="10"/>
<rect class="o" x="507.5" y="397.5" width="57" height="5"/>
<rect class="g" x="507.5" y="395.5" width="57" height="7"/>
<rect class="o" x="514.5" y="399.5" width="57" height="3"/>
<rect class="g" x="514.5" y="398.5" width="57" height="4"/>
<rect class="o" x="522.5" y="395.5" width="56" height="7"/>
<rect class="g" x="522.5" y="392.5" width="56" height="10"/>
<rect class="o" x="529.5" y="399.5" width="56" height="3"/>
<rect class="g" x="529.5" y="398.5" width="56" height="4"/>
<rect class="o" x="536.5" y="397.5" width="56" height="5"/>
<rect class="g" x="536.5" y="395.5" width="56" height="7"/>
<rect class="o" x="543.5" y="399.5" width="56" height="3"/>
<rect class="g" x="543.5" y="398.5" width="56" height="4"/>
<rect class="o" x="557.5" y="390.5" width="57" height="12"/>
<rect class="g" x="557.5" y="384.5" width="57" height="18"/>
<rect class="o" x="564.5" y="399.5" width="57" height="3"/>
<rect class="g" x="564.5" y="398.5" width="57" height="4"/>
<rect class="o" x="571.5" y="397.5" width="57" height="5"/>
<rect class="g" x="571.5" y="395.5" width="57" height="7"/>
<rect class="o" x="578.5" y="399.5" width="57" height="3"/>
<rect class="g" x="578.5" y="398.5" width="57" height="4"/>
<rect class="o" x="585.5" y="395.5" width="57" height="7"/>
<rect class="g" x="585.5" y="391.5" width="57" height="11"/>
<rect class="o" x="592.5" y="397.5" width="57" height="5"/>
<rect class="g" x="592.5" y="394.5" width="57" height="8"/>
<rect class="o" x="599.5" y="397.5" width="57" height="5"/>
<rect class="g" x="599.5" y="394.5" width="57" height="8"/>
<rect class="o" x="607.5" y="397.5" width="56" height="5"/>
<rect class="g" x="607.5" y="394.5" width="56" height="8"/>
<rect class="o" x="614.5" y="397.5" width="56" height="5"/>
<rect class="g" x="614.5" y="394.5" width="56" height="8"/>
<rect class="o" x="621.5" y="395.5" width="56" height="7"/>
<rect class="g" x="621.5" y="390.5" width="56" height="12"/>
<rect class="o" x="628.5" y="387.5" width="56" height="15"/>
<rect class="g" x="628.5" y="379.5" width="56" height="23"/>
<rect class="o" x="642.5" y="392.5" width="57" height="10"/>
<rect class="g" x="642.5" y="386.5" width="57" height="16"/>
<rect class="o" x="649.5" y="395.5" width="57" height="7"/>
<rect class="g" x="649.5" y="390.5" width="57" height="12"/>
<rect class="o" x="656.5" y="397.5" width="57" height="5"/>
<rect class="g" x="656.5" y="394.5" width="57" height="8"/>
<rect class="o" x="663.5" y="399.5" width="57" height="3"/>
<rect class="g" x="663.5" y="398.5" width="57" height="4"/>
<rect class="o" x="670.5" y="395.5" width="57" height="7"/>
<rect class="g" x="670.5" y="390.5" width="57" height="12"/>
<rect class="o" x="677.5" y="395.5" width="57" height="7"/>
<rect class="g" x="677.5" y="390.5" width="57" height="12"/>
<rect class="o" x="684.5" y="395.5" width="57" height="7"/>
<rect class="g" x="684.5" y="390.5" width="57" height="12"/>
<rect class="o" x="691.5" y="395.5" width="57" height="7"/>
<rect class="g" x="691.5" y="390.5" width="57" height="12"/>
<rect class="o" x="699.5" y="392.5" width="56" height="10"/>
<rect class="g" x="699.5" y="385.5" width="56" height="17"/>
<rect class="o" x="706.5" y="387.5" width="56" height="15"/>
<rect class="g" x="706.5" y="377.5" width="56" height="25"/>
<rect class="o" x="720.5" y="395.5" width="56" height="7"/>
<rect class="g" x="720.5" y="389.5" width="56" height="13"/>
<rect class="o" x="734.5" y="395.5" width="57" height="7"/>
<rect class="g" x="734.5" y="389.5" width="57" height="13"/>
<rect class="o" x="748.5" y="387.5" width="57" height="15"/>
<rect class="g" x="748.5" y="375.5" width="57" height="27"/>
<rect class="o" x="755.5" y="397.5" width="57" height="5"/>
<rect class="g" x="755.5" y="393.5" width="57" height="9"/>
<rect class="o" x="769.5" y="397.5" width="57" height="5"/>
<rect class="g" x="769.5" y="393.5" width="57" height="9"/>
<rect class="o" x="784.5" y="397.5" width="56" height="5"/>
<rect class="g" x="784.5" y="393.5" width="56" height="9"/>
<rect class="o" x="791.5" y="390.5" width="56" height="12"/>
<rect class="g" x="791.5" y="379.5" width="56" height="23"/>
<rect class="o" x="798.5" y="387.5" width="56" height="15"/>
<rect class="g" x="798.5" y="374.5" width="56" height="28"/>
<rect class="o" x="805.5" y="392.5" width="56" height="10"/>
<rect class="g" x="805.5" y="383.5" width="56" height="19"/>
<rect class="o" x="812.5" y="397.5" width="57" height="5"/>
<rect class="g" x="812.5" y="392.5" width="57" height="10"/>
<rect class="o" x="819.5" y="395.5" width="57" height="7"/>
<rect class="g" x="819.5" y="387.5" width="57" height="15"/>
<rect class="o" x="826.5" y="392.5" width="57" height="10"/>
<rect class="g" x="826.5" y="382.5" width="57" height="20"/>
<rect class="o" x="833.5" y="392.5" width="57" height="10"/>
<rect class="g" x="833.5" y="382.5" width="57" height="20"/>
<rect class="o" x="840.5" y="399.5" width="57" height="3"/>
<rect class="g" x="840.5" y="397.5" width="57" height="5"/>
<rect class="o" x="847.5" y="395.5" width="57" height="7"/>
<rect class="g" x="847.5" y="387.5" width="57" height="15"/>
<rect class="o" x="854.5" y="399.5" width="57" height="3"/>
<rect class="g" x="854.5" y="397.5" width="57" height="5"/>
<rect class="o" x="861.5" y="399.5" width="57" height="3"/>
<rect class="g" x="861.5" y="397.5" width="57" height="5"/>
<rect class="o" x="869.5" y="399.5" width="56" height="3"/>
<rect class="g" x="869.5" y="397.5" width="56" height="5"/>
<rect class="o" x="876.5" y="390.5" width="56" height="12"/>
<rect class="g" x="876.5" y="375.5" width="56" height="27"/>
<rect class="o" x="883.5" y="392.5" width="56" height="10"/>
<rect class="g" x="883.5" y="380.5" width="56" height="22"/>
<rect class="o" x="890.5" y="395.5" width="56" height="7"/>
<rect class="g" x="890.5" y="386.5" width="56" height="16"/>
<rect class="o" x="897.5" y="399.5" width="57" height="3"/>
<rect class="g" x="897.5" y="396.5" width="57" height="6"/>
<rect class="o" x="904.5" y="399.5" width="57" height="3"/>
<rect class="g" x="904.5" y="396.5" width="57" height="6"/>
<rect class="o" x="911.5" y="395.5" width="57" height="7"/>
<rect class="g" x="911.5" y="385.5" width="57" height="17"/>
<rect class="o" x="918.5" y="397.5" width="57" height="5"/>
<rect class="g" x="918.5" y="390.5" width="57" height="12"/>
<rect class="o" x="925.5" y="395.5" width="57" height="7"/>
<rect class="g" x="925.5" y="385.5" width="57" height="17"/>
<rect class="o" x="932.5" y="395.5" width="57" height="7"/>
<rect class="g" x="932.5" y="384.5" width="57" height="18"/>
<rect class="o" x="939.5" y="399.5" width="57" height="3"/>
<rect class="g" x="939.5" y="396.5" width="57" height="6"/>
<rect class="o" x="946.5" y="390.5" width="57" height="12"/>
<rect class="g" x="946.5" y="372.5" width="57" height="30"/>
<rect class="o" x="954.5" y="395.5" width="56" height="7"/>
<rect class="g" x="954.5" y="384.5" width="56" height="18"/>
<rect class="o" x="961.5" y="397.5" width="56" height="5"/>
<rect class="g" x="961.5" y="390.5" width="56" height="12"/>
<rect class="o" x="975.5" y="397.5" width="56" height="5"/>
<rect class="g" x="975.5" y="389.5" width="56" height="13"/>
<rect class="o" x="982.5" y="395.5" width="56" height="7"/>
<rect class="g" x="982.5" y="383.5" width="56" height="19"/>
<rect class="o" x="989.5" y="397.5" width="57" height="5"/>
<rect class="g" x="989.5" y="389.5" width="57" height="13"/>
<rect class="o" x="996.5" y="395.5" width="57" height="7"/>
<rect class="g" x="996.5" y="382.5" width="57" height="20"/>
<rect class="o" x="1003.5" y="395.5" width="57" height="7"/>
<rect class="g" x="1003.5" y="382.5" width="57" height="20"/>
<rect class="o" x="1010.5" y="397.5" width="57" height="5"/>
<rect class="g" x="1010.5" y="388.5" width="57" height="14"/>
<rect class="o" x="1017.5" y="395.5" width="57" height="7"/>
<rect class="g" x="1017.5" y="382.5" width="57" height="20"/>
<rect class="o" x="1024.5" y="399.5" width="57" height="3"/>
<rect class="g" x="1024.5" y="395.5" width="57" height="7"/>
<rect class="o" x="1031.5" y="399.5" width="57" height="3"/>
<rect class="g" x="1031.5" y="395.5" width="57" height="7"/>
<rect class="o" x="1038.5" y="399.5" width="57" height="3"/>
<rect class="g" x="1038.5" y="395.5" width="57" height="7"/>
<rect class="o" x="1046.5" y="397.5" width="56" height="5"/>
<rect class="g" x="1046.5" y="387.5" width="56" height="15"/>
<rect class="o" x="1053.5" y="397.5" width="56" height="5"/>
<rect class="g" x="1053.5" y="387.5" width="56" height="15"/>
<rect class="o" x="1060.5" y="399.5" width="56" height="3"/>
<rect class="g" x="1060.5" y="394.5" width="56" height="8"/>
<rect class="o" x="1067.5" y="395.5" width="56" height="7"/>
<rect class="g" x="1067.5" y="379.5" width="56" height="23"/>
<rect class="o" x="1074.5" y="399.5" width="57" height="3"/>
<rect class="g" x="1074.5" y="394.5" width="57" height="8"/>
<rect class="o" x="1088.5" y="397.5" width="57" height="5"/>
<rect class="g" x="1088.5" y="386.5" width="57" height="16"/>
<rect class="o" x="1095.5" y="399.5" width="57" height="3"/>
<rect class="g" x="1095.5" y="394.5" width="57" height="8"/>
<rect class="o" x="1102.5" y="392.5" width="57" height="10"/>
<rect class="g" x="1102.5" y="369.5" width="57" height="33"/>
<rect class="o" x="1109.5" y="397.5" width="57" height="5"/>
<rect class="g" x="1109.5" y="385.5" width="57" height="17"/>
<rect class="o" x="1116.5" y="397.5" width="57" height="5"/>
<rect class="g" x="1116.5" y="385.5" width="57" height="17"/>
<rect class="o" x="1123.5" y="395.5" width="57" height="7"/>
<rect class="g" x="1123.5" y="376.5" width="57" height="26"/>
<rect class="o" x="1131.5" y="397.5" width="56" height="5"/>
<rect class="g" x="1131.5" y="384.5" width="56" height="18"/>
<rect class="o" x="1138.5" y="399.5" width="56" height="3"/>
<rect class="g" x="1138.5" y="393.5" width="56" height="9"/>
<rect class="o" x="1145.5" y="392.5" width="56" height="10"/>
<rect class="g" x="1145.5" y="365.5" width="56" height="37"/>
<rect class="o" x="1152.5" y="395.5" width="56" height="7"/>
<rect class="g" x="1152.5" y="374.5" width="56" height="28"/>
<rect class="o" x="1159.5" y="395.5" width="57" height="7"/>
<rect class="g" x="1159.5" y="374.5" width="57" height="28"/>
<rect class="o" x="1166.5" y="399.5" width="57" height="3"/>
<rect class="g" x="1166.5" y="392.5" width="57" height="10"/>
<rect class="o" x="1173.5" y="399.5" width="57" height="3"/>
<rect class="g" x="1173.5" y="392.5" width="57" height="10"/>
<rect class="o" x="1180.5" y="395.5" width="57" height="7"/>
<rect class="g" x="1180.5" y="372.5" width="57" height="30"/>
<rect class="o" x="1187.5" y="395.5" width="57" height="7"/>
<rect class="g" x="1187.5" y="371.5" width="57" height="31"/>
<rect class="o" x="1194.5" y="397.5" width="57" height="5"/>
<rect class="g" x="1194.5" y="381.5" width="57" height="21"/>
<rect class="o" x="1208.5" y="399.5" width="57" height="3"/>
<rect class="g" x="1208.5" y="391.5" width="57" height="11"/>
<rect class="o" x="1223.5" y="395.5" width="56" height="7"/>
<rect class="g" x="1223.5" y="367.5" width="56" height="35"/>
<rect class="o" x="1230.5" y="399.5" width="56" height="3"/>
<rect class="g" x="1230.5" y="390.5" width="56" height="12"/>
<rect class="o" x="1237.5" y="395.5" width="56" height="7"/>
<rect class="g" x="1237.5" y="365.5" width="56" height="37"/>
<rect class="o" x="1244.5" y="397.5" width="57" height="5"/>
<rect class="g" x="1244.5" y="377.5" width="57" height="25"/>
<rect class="o" x="1251.5" y="397.5" width="57" height="5"/>
<rect class="g" x="1251.5" y="376.5" width="57" height="26"/>
<rect class="o" x="1258.5" y="397.5" width="57" height="5"/>
<rect class="g" x="1258.5" y="376.5" width="57" height="26"/>
<rect class="o" x="1265.5" y="399.5" width="57" height="3"/>
<rect class="g" x="1265.5" y="388.5" width="57" height="14"/>
<rect class="o" x="1279.5" y="397.5" width="57" height="5"/>
<rect class="g" x="1279.5" y="373.5" width="57" height="29"/>
<rect class="o" x="1286.5" y="399.5" width="57" height="3"/>
<rect class="g" x="1286.5" y="387.5" width="57" height="15"/>
<rect class="o" x="1301.5" y="399.5" width="56" height="3"/>
<rect class="g" x="1301.5" y="386.5" width="56" height="16"/>
<rect class="o" x="1308.5" y="397.5" width="56" height="5"/>
<rect class="g" x="1308.5" y="370.5" width="56" height="32"/>
<rect class="o" x="1315.5" y="397.5" width="56" height="5"/>
<rect class="g" x="1315.5" y="369.5" width="56" height="33"/>
<rect class="o" x="1322.5" y="397.5" width="56" height="5"/>
<rect class="g" x="1322.5" y="367.5" width="56" height="35"/>
<rect class="o" x="1329.5" y="399.5" width="56" height="3"/>
<rect class="g" x="1329.5" y="384.5" width="56" height="18"/>
<rect class="o" x="1343.5" y="397.5" width="57" height="5"/>
<rect class="g" x="1343.5" y="363.5" width="57" height="39"/>
<rect class="o" x="1350.5" y="399.5" width="57" height="3"/>
<rect class="g" x="1350.5" y="382.5" width="57" height="20"/>
<rect class="o" x="1357.5" y="399.5" width="57" height="3"/>
<rect class="g" x="1357.5" y="380.5" width="57" height="22"/>
<rect class="o" x="1371.5" y="397.5" width="57" height="5"/>
<rect class="g" x="1371.5" y="356.5" width="57" height="46"/>
<rect class="o" x="1385.5" y="397.5" width="57" height="5"/>
<rect class="g" x="1385.5" y="350.5" width="57" height="52"/>
<rect class="o" x="1393.5" y="397.5" width="56" height="5"/>
<rect class="g" x="1393.5" y="348.5" width="56" height="54"/>
<rect class="o" x="1407.5" y="397.5" width="56" height="5"/>
<rect class="g" x="1407.5" y="339.5" width="56" height="63"/>
<rect class="o" x="1414.5" y="395.5" width="56" height="7"/>
<rect class="g" x="1414.5" y="305.5" width="56" height="97"/>
<rect class="o" x="1428.5" y="399.5" width="57" height="3"/>
<rect class="g" x="1428.5" y="365.5" width="57" height="37"/>
<rect class="o" x="1435.5" y="399.5" width="57" height="3"/>
<rect class="g" x="1435.5" y="360.5" width="57" height="42"/>
<rect class="o" x="1442.5" y="395.5" width="57" height="7"/>
<rect class="g" x="1442.5" y="265.5" width="57" height="137"/>
<rect class="o" x="1449.5" y="399.5" width="57" height="3"/>
<rect class="g" x="1449.5" y="351.5" width="57" height="51"/>
<rect class="o" x="1456.5" y="399.5" width="57" height="3"/>
<rect class="g" x="1456.5" y="346.5" width="57" height="56"/>
<rect class="o" x="1463.5" y="399.5" width="57" height="3"/>
<rect class="g" x="1463.5" y="341.5" width="57" height="61"/>
<rect class="o" x="1470.5" y="399.5" width="57" height="3"/>
<rect class="g" x="1470.5" y="332.5" width="57" height="70"/>
<rect class="o" x="1478.5" y="399.5" width="56" height="3"/>
<rect class="g" x="1478.5" y="312.5" width="56" height="90"/>
<rect class="o" x="1485.5" y="399.5" width="56" height="3"/>
<rect class="g" x="1485.5" y="305.5" width="56" height="97"/>
<rect class="o" x="1492.5" y="399.5" width="56" height="3"/>
<rect class="g" x="1492.5" y="243.5" width="56" height="159"/>
<rect class="b" x="160.5" y="402.5" width="57" height="2"/>
<rect class="b" x="175.5" y="402.5" width="56" height="2"/>
<rect class="b" x="182.5" y="402.5" width="56" height="5"/>
<rect class="b" x="196.5" y="402.5" width="56" height="2"/>
<rect class="b" x="217.5" y="402.5" width="57" height="2"/>
<rect class="b" x="224.5" y="402.5" width="57" height="2"/>
<rect class="b" x="245.5" y="402.5" width="57" height="2"/>
<rect class="b" x="267.5" y="402.5" width="56" height="2"/>
<rect class="b" x="274.5" y="402.5" width="56" height="2"/>
<rect class="b" x="281.5" y="402.5" width="56" height="2"/>
<rect class="b" x="288.5" y="402.5" width="57" height="2"/>
<rect class="b" x="295.5" y="402.5" width="57" height="2"/>
<rect class="b" x="302.5" y="402.5" width="57" height="2"/>
<rect class="b" x="309.5" y="402.5" width="57" height="9"/>
<rect class="b" x="316.5" y="402.5" width="57" height="5"/>
<rect class="b" x="330.5" y="402.5" width="57" height="2"/>
<rect class="b" x="337.5" y="402.5" width="57" height="2"/>
<rect class="b" x="345.5" y="402.5" width="56" height="2"/>
<rect class="b" x="366.5" y="402.5" width="56" height="2"/>
<rect class="b" x="380.5" y="402.5" width="57" height="7"/>
<rect class="b" x="387.5" y="402.5" width="57" height="5"/>
<rect class="b" x="401.5" y="402.5" width="57" height="2"/>
<rect class="b" x="408.5" y="402.5" width="57" height="2"/>
<rect class="b" x="429.5" y="402.5" width="57" height="2"/>
<rect class="b" x="444.5" y="402.5" width="56" height="5"/>
<rect class="b" x="451.5" y="402.5" width="56" height="5"/>
<rect class="b" x="458.5" y="402.5" width="56" height="2"/>
<rect class="b" x="465.5" y="402.5" width="57" height="2"/>
<rect class="b" x="472.5" y="402.5" width="57" height="2"/>
<rect class="b" x="486.5" y="402.5" width="57" height="5"/>
<rect class="b" x="493.5" y="402.5" width="57" height="5"/>
<rect class="b" x="522.5" y="402.5" width="56" height="2"/>
<rect class="b" x="529.5" y="402.5" width="56" height="5"/>
<rect class="b" x="536.5" y="402.5" width="56" height="7"/>
<rect class="b" x="543.5" y="402.5" width="56" height="5"/>
<rect class="b" x="557.5" y="402.5" width="57" height="5"/>
<rect class="b" x="564.5" y="402.5" width="57" height="2"/>
<rect class="b" x="571.5" y="402.5" width="57" height="12"/>
<rect class="b" x="578.5" y="402.5" width="57" height="5"/>
<rect class="b" x="585.5" y="402.5" width="57" height="2"/>
<rect class="b" x="592.5" y="402.5" width="57" height="5"/>
<rect class="b" x="599.5" y="402.5" width="57" height="2"/>
<rect class="b" x="607.5" y="402.5" width="56" height="2"/>
<rect class="b" x="614.5" y="402.5" width="56" height="2"/>
<rect class="b" x="628.5" y="402.5" width="56" height="2"/>
<rect class="b" x="635.5" y="402.5" width="56" height="5"/>
<rect class="b" x="642.5" y="402.5" width="57" height="5"/>
<rect class="b" x="649.5" y="402.5" width="57" height="7"/>
<rect class="b" x="656.5" y="402.5" width="57" height="2"/>
<rect class="b" x="670.5" y="402.5" width="57" height="5"/>
<rect class="b" x="677.5" y="402.5" width="57" height="7"/>
<rect class="b" x="684.5" y="402.5" width="57" height="5"/>
<rect class="b" x="691.5" y="402.5" width="57" height="2"/>
<rect class="b" x="699.5" y="402.5" width="56" height="5"/>
<rect class="b" x="706.5" y="402.5" width="56" height="2"/>
<rect class="b" x="713.5" y="402.5" width="56" height="7"/>
<rect class="b" x="720.5" y="402.5" width="56" height="7"/>
<rect class="b" x="727.5" y="402.5" width="57" height="12"/>
<rect class="b" x="734.5" y="402.5" width="57" height="2"/>
<rect class="b" x="741.5" y="402.5" width="57" height="5"/>
<rect class="b" x="748.5" y="402.5" width="57" height="5"/>
<rect class="b" x="762.5" y="402.5" width="57" height="5"/>
<rect class="b" x="776.5" y="402.5" width="57" height="5"/>
<rect class="b" x="784.5" y="402.5" width="56" height="5"/>
<rect class="b" x="791.5" y="402.5" width="56" height="9"/>
<rect class="b" x="798.5" y="402.5" width="56" height="5"/>
<rect class="b" x="805.5" y="402.5" width="56" height="2"/>
<rect class="b" x="812.5" y="402.5" width="57" height="7"/>
<rect class="b" x="819.5" y="402.5" width="57" height="2"/>
<rect class="b" x="826.5" y="402.5" width="57" height="2"/>
<rect class="b" x="833.5" y="402.5" width="57" height="2"/>
<rect class="b" x="840.5" y="402.5" width="57" height="5"/>
<rect class="b" x="847.5" y="402.5" width="57" height="2"/>
<rect class="b" x="854.5" y="402.5" width="57" height="2"/>
<rect class="b" x="861.5" y="402.5" width="57" height="9"/>
<rect class="b" x="869.5" y="402.5" width="56" height="7"/>
<rect class="b" x="876.5" y="402.5" width="56" height="7"/>
<rect class="b" x="883.5" y="402.5" width="56" height="2"/>
<rect class="b" x="890.5" y="402.5" width="56" height="14"/>
<rect class="b" x="897.5" y="402.5" width="57" height="2"/>
<rect class="b" x="904.5" y="402.5" width="57" height="12"/>
<rect class="b" x="911.5" y="402.5" width="57" height="5"/>
<rect class="b" x="918.5" y="402.5" width="57" height="12"/>
<rect class="b" x="925.5" y="402.5" width="57" height="9"/>
<rect class="b" x="932.5" y="402.5" width="57" height="12"/>
<rect class="b" x="939.5" y="402.5" width="57" height="2"/>
<rect class="b" x="946.5" y="402.5" width="57" height="2"/>
<rect class="b" x="954.5" y="402.5" width="56" height="7"/>
<rect class="b" x="961.5" y="402.5" width="56" height="9"/>
<rect class="b" x="968.5" y="402.5" width="56" height="9"/>
<rect class="b" x="975.5" y="402.5" width="56" height="5"/>
<rect class="b" x="982.5" y="402.5" width="56" height="7"/>
<rect class="b" x="989.5" y="402.5" width="57" height="5"/>
<rect class="b" x="996.5" y="402.5" width="57" height="9"/>
<rect class="b" x="1003.5" y="402.5" width="57" height="9"/>
<rect class="b" x="1010.5" y="402.5" width="57" height="5"/>
<rect class="b" x="1017.5" y="402.5" width="57" height="12"/>
<rect class="b" x="1031.5" y="402.5" width="57" height="21"/>
<rect class="b" x="1038.5" y="402.5" width="57" height="19"/>
<rect class="b" x="1046.5" y="402.5" width="56" height="9"/>
<rect class="b" x="1060.5" y="402.5" width="56" height="9"/>
<rect class="b" x="1067.5" y="402.5" width="56" height="19"/>
<rect class="b" x="1074.5" y="402.5" width="57" height="12"/>
<rect class="b" x="1081.5" y="402.5" width="57" height="14"/>
<rect class="b" x="1088.5" y="402.5" width="57" height="5"/>
<rect class="b" x="1095.5" y="402.5" width="57" height="16"/>
<rect class="b" x="1102.5" y="402.5" width="57" height="9"/>
<rect class="b" x="1109.5" y="402.5" width="57" height="19"/>
<rect class="b" x="1116.5" y="402.5" width="57" height="2"/>
<rect class="b" x="1123.5" y="402.5" width="57" height="7"/>
<rect class="b" x="1131.5" y="402.5" width="56" height="9"/>
<rect class="b" x="1138.5" y="402.5" width="56" height="5"/>
<rect class="b" x="1145.5" y="402.5" width="56" height="7"/>
<rect class="b" x="1152.5" y="402.5" width="56" height="19"/>
<rect class="b" x="1159.5" y="402.5" width="57" height="21"/>
<rect class="b" x="1166.5" y="402.5" width="57" height="9"/>
<rect class="b" x="1173.5" y="402.5" width="57" height="14"/>
<rect class="b" x="1180.5" y="402.5" width="57" height="19"/>
<rect class="b" x="1187.5" y="402.5" width="57" height="9"/>
<rect class="b" x="1194.5" y="402.5" width="57" height="19"/>
<rect class="b" x="1201.5" y="402.5" width="57" height="7"/>
<rect class="b" x="1208.5" y="402.5" width="57" height="9"/>
<rect class="b" x="1216.5" y="402.5" width="56" height="9"/>
<rect class="b" x="1223.5" y="402.5" width="56" height="7"/>
<rect class="b" x="1230.5" y="402.5" width="56" height="9"/>
<rect class="b" x="1237.5" y="402.5" width="56" height="14"/>
<rect class="b" x="1244.5" y="402.5" width="57" height="9"/>
<rect class="b" x="1251.5" y="402.5" width="57" height="16"/>
<rect class="b" x="1258.5" y="402.5" width="57" height="24"/>
<rect class="b" x="1265.5" y="402.5" width="57" height="14"/>
<rect class="b" x="1272.5" y="402.5" width="57" height="19"/>
<rect class="b" x="1279.5" y="402.5" width="57" height="16"/>
<rect class="b" x="1286.5" y="402.5" width="57" height="9"/>
<rect class="b" x="1293.5" y="402.5" width="57" height="12"/>
<rect class="b" x="1301.5" y="402.5" width="56" height="12"/>
<rect class="b" x="1308.5" y="402.5" width="56" height="12"/>
<rect class="b" x="1315.5" y="402.5" width="56" height="9"/>
<rect class="b" x="1322.5" y="402.5" width="56" height="14"/>
<rect class="b" x="1329.5" y="402.5" width="56" height="21"/>
<rect class="b" x="1336.5" y="402.5" width="57" height="21"/>
<rect class="b" x="1343.5" y="402.5" width="57" height="16"/>
<rect class="b" x="1350.5" y="402.5" width="57" height="31"/>
<rect class="b" x="1357.5" y="402.5" width="57" height="9"/>
<rect class="b" x="1364.5" y="402.5" width="57" height="36"/>
<rect class="b" x="1371.5" y="402.5" width="57" height="24"/>
<rect class="b" x="1378.5" y="402.5" width="57" height="14"/>
<rect class="b" x="1385.5" y="402.5" width="57" height="19"/>
<rect class="b" x="1393.5" y="402.5" width="56" height="14"/>
<rect class="b" x="1400.5" y="402.5" width="56" height="31"/>
<rect class="b" x="1407.5" y="402.5" width="56" height="31"/>
<rect class="b" x="1414.5" y="402.5" width="56" height="21"/>
<rect class="b" x="1421.5" y="402.5" width="57" height="31"/>
<rect class="b" x="1428.5" y="402.5" width="57" height="24"/>
<rect class="b" x="1435.5" y="402.5" width="57" height="24"/>
<rect class="b" x="1442.5" y="402.5" width="57" height="5"/>
<rect class="b" x="1449.5" y="402.5" width="57" height="28"/>
<rect class="b" x="1456.5" y="402.5" width="57" height="31"/>
<rect class="b" x="1463.5" y="402.5" width="57" height="26"/>
<rect class="b" x="1470.5" y="402.5" width="57" height="40"/>
<rect class="b" x="1478.5" y="402.5" width="56" height="26"/>
<rect class="b" x="1485.5" y="402.5" width="56" height="21"/>
<rect class="b" x="1492.5" y="402.5" width="56" height="21"/>
<rect class="g" x="160.5" y="402.5" width="57" height="53"/>
<rect class="g" x="175.5" y="402.5" width="56" height="46"/>
<rect class="g" x="182.5" y="402.5" width="56" height="85"/>
<rect class="g" x="196.5" y="402.5" width="56" height="36"/>
<rect class="g" x="217.5" y="402.5" width="57" height="30"/>
<rect class="g" x="224.5" y="402.5" width="57" height="27"/>
<rect class="g" x="245.5" y="402.5" width="57" height="23"/>
<rect class="g" x="267.5" y="402.5" width="56" height="20"/>
<rect class="g" x="274.5" y="402.5" width="56" height="20"/>
<rect class="g" x="281.5" y="402.5" width="56" height="18"/>
<rect class="g" x="288.5" y="402.5" width="57" height="18"/>
<rect class="g" x="295.5" y="402.5" width="57" height="17"/>
<rect class="g" x="302.5" y="402.5" width="57" height="17"/>
<rect class="g" x="309.5" y="402.5" width="57" height="64"/>
<rect class="g" x="316.5" y="402.5" width="57" height="31"/>
<rect class="g" x="330.5" y="402.5" width="57" height="14"/>
<rect class="g" x="337.5" y="402.5" width="57" height="14"/>
<rect class="g" x="345.5" y="402.5" width="56" height="14"/>
<rect class="g" x="366.5" y="402.5" width="56" height="12"/>
<rect class="g" x="380.5" y="402.5" width="57" height="36"/>
<rect class="g" x="387.5" y="402.5" width="57" height="23"/>
<rect class="g" x="401.5" y="402.5" width="57" height="11"/>
<rect class="g" x="408.5" y="402.5" width="57" height="11"/>
<rect class="g" x="429.5" y="402.5" width="57" height="10"/>
<rect class="g" x="444.5" y="402.5" width="56" height="19"/>
<rect class="g" x="451.5" y="402.5" width="56" height="19"/>
<rect class="g" x="458.5" y="402.5" width="56" height="9"/>
<rect class="g" x="465.5" y="402.5" width="57" height="9"/>
<rect class="g" x="472.5" y="402.5" width="57" height="9"/>
<rect class="g" x="486.5" y="402.5" width="57" height="17"/>
<rect class="g" x="493.5" y="402.5" width="57" height="17"/>
<rect class="g" x="522.5" y="402.5" width="56" height="8"/>
<rect class="g" x="529.5" y="402.5" width="56" height="16"/>
<rect class="g" x="536.5" y="402.5" width="56" height="23"/>
<rect class="g" x="543.5" y="402.5" width="56" height="15"/>
<rect class="g" x="557.5" y="402.5" width="57" height="15"/>
<rect class="g" x="564.5" y="402.5" width="57" height="7"/>
<rect class="g" x="571.5" y="402.5" width="57" height="35"/>
<rect class="g" x="578.5" y="402.5" width="57" height="14"/>
<rect class="g" x="585.5" y="402.5" width="57" height="7"/>
<rect class="g" x="592.5" y="402.5" width="57" height="13"/>
<rect class="g" x="599.5" y="402.5" width="57" height="7"/>
<rect class="g" x="607.5" y="402.5" width="56" height="7"/>
<rect class="g" x="614.5" y="402.5" width="56" height="6"/>
<rect class="g" x="628.5" y="402.5" width="56" height="6"/>
<rect class="g" x="635.5" y="402.5" width="56" height="12"/>
<rect class="g" x="642.5" y="402.5" width="57" height="12"/>
<rect class="g" x="649.5" y="402.5" width="57" height="18"/>
<rect class="g" x="656.5" y="402.5" width="57" height="6"/>
<rect class="g" x="670.5" y="402.5" width="57" height="12"/>
<rect class="g" x="677.5" y="402.5" width="57" height="17"/>
<rect class="g" x="684.5" y="402.5" width="57" height="11"/>
<rect class="g" x="691.5" y="402.5" width="57" height="5"/>
<rect class="g" x="699.5" y="402.5" width="56" height="11"/>
<rect class="g" x="706.5" y="402.5" width="56" height="5"/>
<rect class="g" x="713.5" y="402.5" width="56" height="16"/>
<rect class="g" x="720.5" y="402.5" width="56" height="16"/>
<rect class="g" x="727.5" y="402.5" width="57" height="27"/>
<rect class="g" x="734.5" y="402.5" width="57" height="5"/>
<rect class="g" x="741.5" y="402.5" width="57" height="10"/>
<rect class="g" x="748.5" y="402.5" width="57" height="10"/>
<rect class="g" x="762.5" y="402.5" width="57" height="10"/>
<rect class="g" x="776.5" y="402.5" width="57" height="10"/>
<rect class="g" x="784.5" y="402.5" width="56" height="10"/>
<rect class="g" x="791.5" y="402.5" width="56" height="19"/>
<rect class="g" x="798.5" y="402.5" width="56" height="9"/>
<rect class="g" x="805.5" y="402.5" width="56" height="5"/>
<rect class="g" x="812.5" y="402.5" width="57" height="14"/>
<rect class="g" x="819.5" y="402.5" width="57" height="4"/>
<rect class="g" x="826.5" y="402.5" width="57" height="4"/>
<rect class="g" x="833.5" y="402.5" width="57" height="4"/>
<rect class="g" x="840.5" y="402.5" width="57" height="9"/>
<rect class="g" x="847.5" y="402.5" width="57" height="4"/>
<rect class="g" x="854.5" y="402.5" width="57" height="4"/>
<rect class="g" x="861.5" y="402.5" width="57" height="17"/>
<rect class="g" x="869.5" y="402.5" width="56" height="13"/>
<rect class="g" x="876.5" y="402.5" width="56" height="13"/>
<rect class="g" x="883.5" y="402.5" width="56" height="4"/>
<rect class="g" x="890.5" y="402.5" width="56" height="25"/>
<rect class="g" x="897.5" y="402.5" width="57" height="4"/>
<rect class="g" x="904.5" y="402.5" width="57" height="21"/>
<rect class="g" x="911.5" y="402.5" width="57" height="8"/>
<rect class="g" x="918.5" y="402.5" width="57" height="20"/>
<rect class="g" x="925.5" y="402.5" width="57" height="16"/>
<rect class="g" x="932.5" y="402.5" width="57" height="20"/>
<rect class="g" x="939.5" y="402.5" width="57" height="4"/>
<rect class="g" x="946.5" y="402.5" width="57" height="4"/>
<rect class="g" x="954.5" y="402.5" width="56" height="12"/>
<rect class="g" x="961.5" y="402.5" width="56" height="16"/>
<rect class="g" x="968.5" y="402.5" width="56" height="15"/>
<rect class="g" x="975.5" y="402.5" width="56" height="8"/>
<rect class="g" x="982.5" y="402.5" width="56" height="11"/>
<rect class="g" x="989.5" y="402.5" width="57" height="7"/>
<rect class="g" x="996.5" y="402.5" width="57" height="15"/>
<rect class="g" x="1003.5" y="402.5" width="57" height="15"/>
<rect class="g" x="1010.5" y="402.5" width="57" height="7"/>
<rect class="g" x="1017.5" y="402.5" width="57" height="18"/>
<rect class="g" x="1031.5" y="402.5" width="57" height="32"/>
<rect class="g" x="1038.5" y="402.5" width="57" height="29"/>
<rect class="g" x="1046.5" y="402.5" width="56" height="14"/>
<rect class="g" x="1060.5" y="402.5" width="56" height="14"/>
<rect class="g" x="1067.5" y="402.5" width="56" height="28"/>
<rect class="g" x="1074.5" y="402.5" width="57" height="17"/>
<rect class="g" x="1081.5" y="402.5" width="57" height="20"/>
<rect class="g" x="1088.5" y="402.5" width="57" height="7"/>
<rect class="g" x="1095.5" y="402.5" width="57" height="24"/>
<rect class="g" x="1102.5" y="402.5" width="57" height="13"/>
<rect class="g" x="1109.5" y="402.5" width="57" height="27"/>
<rect class="g" x="1116.5" y="402.5" width="57" height="3"/>
<rect class="g" x="1123.5" y="402.5" width="57" height="10"/>
<rect class="g" x="1131.5" y="402.5" width="56" height="13"/>
<rect class="g" x="1138.5" y="402.5" width="56" height="6"/>
<rect class="g" x="1145.5" y="402.5" width="56" height="10"/>
<rect class="g" x="1152.5" y="402.5" width="56" height="25"/>
<rect class="g" x="1159.5" y="402.5" width="57" height="29"/>
<rect class="g" x="1166.5" y="402.5" width="57" height="12"/>
<rect class="g" x="1173.5" y="402.5" width="57" height="19"/>
<rect class="g" x="1180.5" y="402.5" width="57" height="25"/>
<rect class="g" x="1187.5" y="402.5" width="57" height="12"/>
<rect class="g" x="1194.5" y="402.5" width="57" height="24"/>
<rect class="g" x="1201.5" y="402.5" width="57" height="9"/>
<rect class="g" x="1208.5" y="402.5" width="57" height="12"/>
<rect class="g" x="1216.5" y="402.5" width="56" height="12"/>
<rect class="g" x="1223.5" y="402.5" width="56" height="9"/>
<rect class="g" x="1230.5" y="402.5" width="56" height="12"/>
<rect class="g" x="1237.5" y="402.5" width="56" height="18"/>
<rect class="g" x="1244.5" y="402.5" width="57" height="12"/>
<rect class="g" x="1251.5" y="402.5" width="57" height="20"/>
<rect class="g" x="1258.5" y="402.5" width="57" height="29"/>
<rect class="g" x="1265.5" y="402.5" width="57" height="17"/>
<rect class="g" x="1272.5" y="402.5" width="57" height="23"/>
<rect class="g" x="1279.5" y="402.5" width="57" height="20"/>
<rect class="g" x="1286.5" y="402.5" width="57" height="11"/>
<rect class="g" x="1293.5" y="402.5" width="57" height="14"/>
<rect class="g" x="1301.5" y="402.5" width="56" height="14"/>
<rect class="g" x="1308.5" y="402.5" width="56" height="14"/>
<rect class="g" x="1315.5" y="402.5" width="56" height="11"/>
<rect class="g" x="1322.5" y="402.5" width="56" height="16"/>
<rect class="g" x="1329.5" y="402.5" width="56" height="25"/>
<rect class="g" x="1336.5" y="402.5" width="57" height="24"/>
<rect class="g" x="1343.5" y="402.5" width="57" height="19"/>
<rect class="g" x="1350.5" y="402.5" width="57" height="35"/>
<rect class="g" x="1357.5" y="402.5" width="57" height="11"/>
<rect class="g" x="1364.5" y="402.5" width="57" height="40"/>
<rect class="g" x="1371.5" y="402.5" width="57" height="26"/>
<rect class="g" x="1378.5" y="402.5" width="57" height="16"/>
<rect class="g" x="1385.5" y="402.5" width="57" height="21"/>
<rect class="g" x="1393.5" y="402.5" width="56" height="15"/>
<rect class="g" x="1400.5" y="402.5" width="56" height="34"/>
<rect class="g" x="1407.5" y="402.5" width="56" height="33"/>
<rect class="g" x="1414.5" y="402.5" width="56" height="23"/>
<rect class="g" x="1421.5" y="402.5" width="57" height="33"/>
<rect class="g" x="1428.5" y="402.5" width="57" height="25"/>
<rect class="g" x="1435.5" y="402.5" width="57" height="25"/>
<rect class="g" x="1442.5" y="402.5" width="57" height="5"/>
<rect class="g" x="1449.5" y="402.5" width="57" height="30"/>
<rect class="g" x="1456.5" y="402.5" width="57" height="32"/>
<rect class="g" x="1463.5" y="402.5" width="57" height="27"/>
<rect class="g" x="1470.5" y="402.5" width="57" height="42"/>
<rect class="g" x="1478.5" y="402.5" width="56" height="27"/>
<rect class="g" x="1485.5" y="402.5" width="56" height="22"/>
<rect class="g" x="1492.5" y="402.5" width="56" height="22"/>
<rect class="o" x="139.5" y="397.5" width="57" height="5"/>
<rect class="g" x="139.5" y="397.5" width="57" height="5"/>
<rect class="o" x="146.5" y="395.5" width="57" height="7"/>
<rect class="g" x="146.5" y="394.5" width="57" height="8"/>
<rect class="o" x="153.5" y="390.5" width="57" height="12"/>
<rect class="g" x="153.5" y="389.5" width="57" height="13"/>
<rect class="o" x="160.5" y="390.5" width="57" height="12"/>
<rect class="g" x="160.5" y="389.5" width="57" height="13"/>
<rect class="o" x="167.5" y="395.5" width="57" height="7"/>
<rect class="g" x="167.5" y="394.5" width="57" height="8"/>
<rect class="o" x="175.5" y="395.5" width="56" height="7"/>
<rect class="g" x="175.5" y="394.5" width="56" height="8"/>
<rect class="o" x="182.5" y="392.5" width="56" height="10"/>
<rect class="g" x="182.5" y="392.5" width="56" height="10"/>
<rect class="o" x="189.5" y="399.5" width="56" height="3"/>
<rect class="g" x="189.5" y="399.5" width="56" height="3"/>
<rect class="o" x="196.5" y="397.5" width="56" height="5"/>
<rect class="g" x="196.5" y="397.5" width="56" height="5"/>
<rect class="o" x="203.5" y="395.5" width="57" height="7"/>
<rect class="g" x="203.5" y="394.5" width="57" height="8"/>
<rect class="o" x="210.5" y="399.5" width="57" height="3"/>
<rect class="g" x="210.5" y="399.5" width="57" height="3"/>
<rect class="o" x="217.5" y="399.5" width="57" height="3"/>
<rect class="g" x="217.5" y="399.5" width="57" height="3"/>
<rect class="o" x="224.5" y="392.5" width="57" height="10"/>
<rect class="g" x="224.5" y="391.5" width="57" height="11"/>
<rect class="o" x="231.5" y="387.5" width="57" height="15"/>
<rect class="g" x="231.5" y="386.5" width="57" height="16"/>
<rect class="o" x="238.5" y="395.5" width="57" height="7"/>
<rect class="g" x="238.5" y="394.5" width="57" height="8"/>
<rect class="o" x="245.5" y="390.5" width="57" height="12"/>
<rect class="g" x="245.5" y="389.5" width="57" height="13"/>
<rect class="o" x="252.5" y="395.5" width="57" height="7"/>
<rect class="g" x="252.5" y="394.5" width="57" height="8"/>
<rect class="o" x="260.5" y="383.5" width="56" height="19"/>
<rect class="g" x="260.5" y="380.5" width="56" height="22"/>
<rect class="o" x="267.5" y="397.5" width="56" height="5"/>
<rect class="g" x="267.5" y="396.5" width="56" height="6"/>
<rect class="o" x="274.5" y="392.5" width="56" height="10"/>
<rect class="g" x="274.5" y="391.5" width="56" height="11"/>
<rect class="o" x="281.5" y="395.5" width="56" height="7"/>
<rect class="g" x="281.5" y="394.5" width="56" height="8"/>
<rect class="o" x="295.5" y="397.5" width="57" height="5"/>
<rect class="g" x="295.5" y="396.5" width="57" height="6"/>
<rect class="o" x="302.5" y="392.5" width="57" height="10"/>
<rect class="g" x="302.5" y="391.5" width="57" height="11"/>
<rect class="o" x="309.5" y="383.5" width="57" height="19"/>
<rect class="g" x="309.5" y="379.5" width="57" height="23"/>
<rect class="o" x="316.5" y="383.5" width="57" height="19"/>
<rect class="g" x="316.5" y="379.5" width="57" height="23"/>
<rect class="o" x="323.5" y="387.5" width="57" height="15"/>
<rect class="g" x="323.5" y="385.5" width="57" height="17"/>
<rect class="o" x="330.5" y="387.5" width="57" height="15"/>
<rect class="g" x="330.5" y="385.5" width="57" height="17"/>
<rect class="o" x="337.5" y="383.5" width="57" height="19"/>
<rect class="g" x="337.5" y="379.5" width="57" height="23"/>
<rect class="o" x="345.5" y="397.5" width="56" height="5"/>
<rect class="g" x="345.5" y="396.5" width="56" height="6"/>
<rect class="o" x="352.5" y="387.5" width="56" height="15"/>
<rect class="g" x="352.5" y="384.5" width="56" height="18"/>
<rect class="o" x="359.5" y="397.5" width="56" height="5"/>
<rect class="g" x="359.5" y="396.5" width="56" height="6"/>
<rect class="o" x="366.5" y="385.5" width="56" height="17"/>
<rect class="g" x="366.5" y="381.5" width="56" height="21"/>
<rect class="o" x="373.5" y="387.5" width="56" height="15"/>
<rect class="g" x="373.5" y="384.5" width="56" height="18"/>
<rect class="o" x="380.5" y="383.5" width="57" height="19"/>
<rect class="g" x="380.5" y="378.5" width="57" height="24"/>
<rect class="o" x="387.5" y="387.5" width="57" height="15"/>
<rect class="g" x="387.5" y="384.5" width="57" height="18"/>
<rect class="o" x="394.5" y="390.5" width="57" height="12"/>
<rect class="g" x="394.5" y="387.5" width="57" height="15"/>
<rect class="o" x="408.5" y="397.5" width="57" height="5"/>
<rect class="g" x="408.5" y="396.5" width="57" height="6"/>
<rect class="o" x="415.5" y="395.5" width="57" height="7"/>
<rect class="g" x="415.5" y="393.5" width="57" height="9"/>
<rect class="o" x="422.5" y="395.5" width="57" height="7"/>
<rect class="g" x="422.5" y="393.5" width="57" height="9"/>
<rect class="o" x="429.5" y="385.5" width="57" height="17"/>
<rect class="g" x="429.5" y="380.5" width="57" height="22"/>
<rect class="o" x="437.5" y="385.5" width="56" height="17"/>
<rect class="g" x="437.5" y="380.5" width="56" height="22"/>
<rect class="o" x="444.5" y="395.5" width="56" height="7"/>
<rect class="g" x="444.5" y="392.5" width="56" height="10"/>
<rect class="o" x="451.5" y="392.5" width="56" height="10"/>
<rect class="g" x="451.5" y="389.5" width="56" height="13"/>
<rect class="o" x="458.5" y="387.5" width="56" height="15"/>
<rect class="g" x="458.5" y="383.5" width="56" height="19"/>
<rect class="o" x="465.5" y="397.5" width="57" height="5"/>
<rect class="g" x="465.5" y="395.5" width="57" height="7"/>
<rect class="o" x="472.5" y="395.5" width="57" height="7"/>
<rect class="g" x="472.5" y="392.5" width="57" height="10"/>
<rect class="o" x="479.5" y="387.5" width="57" height="15"/>
<rect class="g" x="479.5" y="382.5" width="57" height="20"/>
<rect class="o" x="486.5" y="390.5" width="57" height="12"/>
<rect class="g" x="486.5" y="385.5" width="57" height="17"/>
<rect class="o" x="493.5" y="395.5" width="57" height="7"/>
<rect class="g" x="493.5" y="392.5" width="57" height="10"/>
<rect class="o" x="500.5" y="385.5" width="57" height="17"/>
<rect class="g" x="500.5" y="379.5" width="57" height="23"/>
<rect class="o" x="507.5" y="399.5" width="57" height="3"/>
<rect class="g" x="507.5" y="398.5" width="57" height="4"/>
<rect class="o" x="514.5" y="392.5" width="57" height="10"/>
<rect class="g" x="514.5" y="388.5" width="57" height="14"/>
<rect class="o" x="522.5" y="399.5" width="56" height="3"/>
<rect class="g" x="522.5" y="398.5" width="56" height="4"/>
<rect class="o" x="529.5" y="387.5" width="56" height="15"/>
<rect class="g" x="529.5" y="381.5" width="56" height="21"/>
<rect class="o" x="536.5" y="392.5" width="56" height="10"/>
<rect class="g" x="536.5" y="388.5" width="56" height="14"/>
<rect class="o" x="543.5" y="395.5" width="56" height="7"/>
<rect class="g" x="543.5" y="391.5" width="56" height="11"/>
<rect class="o" x="550.5" y="387.5" width="57" height="15"/>
<rect class="g" x="550.5" y="381.5" width="57" height="21"/>
<rect class="o" x="557.5" y="385.5" width="57" height="17"/>
<rect class="g" x="557.5" y="377.5" width="57" height="25"/>
<rect class="o" x="564.5" y="395.5" width="57" height="7"/>
<rect class="g" x="564.5" y="391.5" width="57" height="11"/>
<rect class="o" x="571.5" y="395.5" width="57" height="7"/>
<rect class="g" x="571.5" y="391.5" width="57" height="11"/>
<rect class="o" x="578.5" y="395.5" width="57" height="7"/>
<rect class="g" x="578.5" y="391.5" width="57" height="11"/>
<rect class="o" x="585.5" y="399.5" width="57" height="3"/>
<rect class="g" x="585.5" y="398.5" width="57" height="4"/>
<rect class="o" x="592.5" y="385.5" width="57" height="17"/>
<rect class="g" x="592.5" y="376.5" width="57" height="26"/>
<rect class="o" x="599.5" y="397.5" width="57" height="5"/>
<rect class="g" x="599.5" y="394.5" width="57" height="8"/>
<rect class="o" x="607.5" y="387.5" width="56" height="15"/>
<rect class="g" x="607.5" y="379.5" width="56" height="23"/>
<rect class="o" x="614.5" y="395.5" width="56" height="7"/>
<rect class="g" x="614.5" y="391.5" width="56" height="11"/>
<rect class="o" x="621.5" y="392.5" width="56" height="10"/>
<rect class="g" x="621.5" y="387.5" width="56" height="15"/>
<rect class="o" x="628.5" y="397.5" width="56" height="5"/>
<rect class="g" x="628.5" y="394.5" width="56" height="8"/>
<rect class="o" x="635.5" y="390.5" width="56" height="12"/>
<rect class="g" x="635.5" y="383.5" width="56" height="19"/>
<rect class="o" x="642.5" y="395.5" width="57" height="7"/>
<rect class="g" x="642.5" y="390.5" width="57" height="12"/>
<rect class="o" x="656.5" y="395.5" width="57" height="7"/>
<rect class="g" x="656.5" y="390.5" width="57" height="12"/>
<rect class="o" x="663.5" y="392.5" width="57" height="10"/>
<rect class="g" x="663.5" y="386.5" width="57" height="16"/>
<rect class="o" x="670.5" y="397.5" width="57" height="5"/>
<rect class="g" x="670.5" y="394.5" width="57" height="8"/>
<rect class="o" x="677.5" y="399.5" width="57" height="3"/>
<rect class="g" x="677.5" y="398.5" width="57" height="4"/>
<rect class="o" x="684.5" y="395.5" width="57" height="7"/>
<rect class="g" x="684.5" y="390.5" width="57" height="12"/>
<rect class="o" x="691.5" y="390.5" width="57" height="12"/>
<rect class="g" x="691.5" y="381.5" width="57" height="21"/>
<rect class="o" x="706.5" y="397.5" width="56" height="5"/>
<rect class="g" x="706.5" y="393.5" width="56" height="9"/>
<rect class="o" x="713.5" y="399.5" width="56" height="3"/>
<rect class="g" x="713.5" y="398.5" width="56" height="4"/>
<rect class="o" x="720.5" y="397.5" width="56" height="5"/>
<rect class="g" x="720.5" y="393.5" width="56" height="9"/>
<rect class="o" x="727.5" y="397.5" width="57" height="5"/>
<rect class="g" x="727.5" y="393.5" width="57" height="9"/>
<rect class="o" x="734.5" y="399.5" width="57" height="3"/>
<rect class="g" x="734.5" y="397.5" width="57" height="5"/>
<rect class="o" x="741.5" y="397.5" width="57" height="5"/>
<rect class="g" x="741.5" y="393.5" width="57" height="9"/>
<rect class="o" x="748.5" y="392.5" width="57" height="10"/>
<rect class="g" x="748.5" y="384.5" width="57" height="18"/>
<rect class="o" x="755.5" y="392.5" width="57" height="10"/>
<rect class="g" x="755.5" y="384.5" width="57" height="18"/>
<rect class="o" x="769.5" y="397.5" width="57" height="5"/>
<rect class="g" x="769.5" y="393.5" width="57" height="9"/>
<rect class="o" x="776.5" y="399.5" width="57" height="3"/>
<rect class="g" x="776.5" y="397.5" width="57" height="5"/>
<rect class="o" x="784.5" y="399.5" width="56" height="3"/>
<rect class="g" x="784.5" y="397.5" width="56" height="5"/>
<rect class="o" x="798.5" y="399.5" width="56" height="3"/>
<rect class="g" x="798.5" y="397.5" width="56" height="5"/>
<rect class="o" x="805.5" y="395.5" width="56" height="7"/>
<rect class="g" x="805.5" y="388.5" width="56" height="14"/>
<rect class="o" x="812.5" y="395.5" width="57" height="7"/>
<rect class="g" x="812.5" y="387.5" width="57" height="15"/>
<rect class="o" x="819.5" y="395.5" width="57" height="7"/>
<rect class="g" x="819.5" y="387.5" width="57" height="15"/>
<rect class="o" x="826.5" y="395.5" width="57" height="7"/>
<rect class="g" x="826.5" y="387.5" width="57" height="15"/>
<rect class="o" x="840.5" y="397.5" width="57" height="5"/>
<rect class="g" x="840.5" y="392.5" width="57" height="10"/>
<rect class="o" x="847.5" y="397.5" width="57" height="5"/>
<rect class="g" x="847.5" y="392.5" width="57" height="10"/>
<rect class="o" x="854.5" y="397.5" width="57" height="5"/>
<rect class="g" x="854.5" y="392.5" width="57" height="10"/>
<rect class="o" x="861.5" y="397.5" width="57" height="5"/>
<rect class="g" x="861.5" y="391.5" width="57" height="11"/>
<rect class="o" x="869.5" y="385.5" width="56" height="17"/>
<rect class="g" x="869.5" y="365.5" width="56" height="37"/>
<rect class="o" x="876.5" y="390.5" width="56" height="12"/>
<rect class="g" x="876.5" y="375.5" width="56" height="27"/>
<rect class="o" x="883.5" y="399.5" width="56" height="3"/>
<rect class="g" x="883.5" y="396.5" width="56" height="6"/>
<rect class="o" x="890.5" y="395.5" width="56" height="7"/>
<rect class="g" x="890.5" y="386.5" width="56" height="16"/>
<rect class="o" x="897.5" y="397.5" width="57" height="5"/>
<rect class="g" x="897.5" y="391.5" width="57" height="11"/>
<rect class="o" x="904.5" y="397.5" width="57" height="5"/>
<rect class="g" x="904.5" y="391.5" width="57" height="11"/>
<rect class="o" x="911.5" y="397.5" width="57" height="5"/>
<rect class="g" x="911.5" y="391.5" width="57" height="11"/>
<rect class="o" x="918.5" y="395.5" width="57" height="7"/>
<rect class="g" x="918.5" y="385.5" width="57" height="17"/>
<rect class="o" x="925.5" y="397.5" width="57" height="5"/>
<rect class="g" x="925.5" y="390.5" width="57" height="12"/>
<rect class="o" x="932.5" y="397.5" width="57" height="5"/>
<rect class="g" x="932.5" y="390.5" width="57" height="12"/>
<rect class="o" x="954.5" y="399.5" width="56" height="3"/>
<rect class="g" x="954.5" y="396.5" width="56" height="6"/>
<rect class="o" x="961.5" y="390.5" width="56" height="12"/>
<rect class="g" x="961.5" y="371.5" width="56" height="31"/>
<rect class="o" x="968.5" y="399.5" width="56" height="3"/>
<rect class="g" x="968.5" y="396.5" width="56" height="6"/>
<rect class="o" x="975.5" y="395.5" width="56" height="7"/>
<rect class="g" x="975.5" y="383.5" width="56" height="19"/>
<rect class="o" x="982.5" y="399.5" width="56" height="3"/>
<rect class="g" x="982.5" y="395.5" width="56" height="7"/>
<rect class="o" x="989.5" y="397.5" width="57" height="5"/>
<rect class="g" x="989.5" y="389.5" width="57" height="13"/>
<rect class="o" x="996.5" y="399.5" width="57" height="3"/>
<rect class="g" x="996.5" y="395.5" width="57" height="7"/>
<rect class="o" x="1003.5" y="399.5" width="57" height="3"/>
<rect class="g" x="1003.5" y="395.5" width="57" height="7"/>
<rect class="o" x="1010.5" y="392.5" width="57" height="10"/>
<rect class="g" x="1010.5" y="375.5" width="57" height="27"/>
<rect class="o" x="1017.5" y="397.5" width="57" height="5"/>
<rect class="g" x="1017.5" y="388.5" width="57" height="14"/>
<rect class="o" x="1024.5" y="399.5" width="57" height="3"/>
<rect class="g" x="1024.5" y="395.5" width="57" height="7"/>
<rect class="o" x="1031.5" y="399.5" width="57" height="3"/>
<rect class="g" x="1031.5" y="395.5" width="57" height="7"/>
<rect class="o" x="1046.5" y="399.5" width="56" height="3"/>
<rect class="g" x="1046.5" y="395.5" width="56" height="7"/>
<rect class="o" x="1053.5" y="395.5" width="56" height="7"/>
<rect class="g" x="1053.5" y="380.5" width="56" height="22"/>
<rect class="o" x="1060.5" y="399.5" width="56" height="3"/>
<rect class="g" x="1060.5" y="394.5" width="56" height="8"/>
<rect class="o" x="1067.5" y="395.5" width="56" height="7"/>
<rect class="g" x="1067.5" y="379.5" width="56" height="23"/>
<rect class="o" x="1074.5" y="397.5" width="57" height="5"/>
<rect class="g" x="1074.5" y="386.5" width="57" height="16"/>
<rect class="o" x="1081.5" y="397.5" width="57" height="5"/>
<rect class="g" x="1081.5" y="386.5" width="57" height="16"/>
<rect class="o" x="1088.5" y="399.5" width="57" height="3"/>
<rect class="g" x="1088.5" y="394.5" width="57" height="8"/>
<rect class="o" x="1095.5" y="395.5" width="57" height="7"/>
<rect class="g" x="1095.5" y="378.5" width="57" height="24"/>
<rect class="o" x="1102.5" y="399.5" width="57" height="3"/>
<rect class="g" x="1102.5" y="394.5" width="57" height="8"/>
<rect class="o" x="1109.5" y="399.5" width="57" height="3"/>
<rect class="g" x="1109.5" y="394.5" width="57" height="8"/>
<rect class="o" x="1116.5" y="399.5" width="57" height="3"/>
<rect class="g" x="1116.5" y="393.5" width="57" height="9"/>
<rect class="o" x="1131.5" y="392.5" width="56" height="10"/>
<rect class="g" x="1131.5" y="367.5" width="56" height="35"/>
<rect class="o" x="1138.5" y="395.5" width="56" height="7"/>
<rect class="g" x="1138.5" y="375.5" width="56" height="27"/>
<rect class="o" x="1145.5" y="397.5" width="56" height="5"/>
<rect class="g" x="1145.5" y="384.5" width="56" height="18"/>
<rect class="o" x="1152.5" y="397.5" width="56" height="5"/>
<rect class="g" x="1152.5" y="383.5" width="56" height="19"/>
<rect class="o" x="1159.5" y="399.5" width="57" height="3"/>
<rect class="g" x="1159.5" y="392.5" width="57" height="10"/>
<rect class="o" x="1166.5" y="397.5" width="57" height="5"/>
<rect class="g" x="1166.5" y="383.5" width="57" height="19"/>
<rect class="o" x="1173.5" y="392.5" width="57" height="10"/>
<rect class="g" x="1173.5" y="362.5" width="57" height="40"/>
<rect class="o" x="1180.5" y="397.5" width="57" height="5"/>
<rect class="g" x="1180.5" y="382.5" width="57" height="20"/>
<rect class="o" x="1187.5" y="397.5" width="57" height="5"/>
<rect class="g" x="1187.5" y="381.5" width="57" height="21"/>
<rect class="o" x="1194.5" y="399.5" width="57" height="3"/>
<rect class="g" x="1194.5" y="391.5" width="57" height="11"/>
<rect class="o" x="1201.5" y="395.5" width="57" height="7"/>
<rect class="g" x="1201.5" y="369.5" width="57" height="33"/>
<rect class="o" x="1208.5" y="397.5" width="57" height="5"/>
<rect class="g" x="1208.5" y="380.5" width="57" height="22"/>
<rect class="o" x="1216.5" y="399.5" width="56" height="3"/>
<rect class="g" x="1216.5" y="390.5" width="56" height="12"/>
<rect class="o" x="1223.5" y="399.5" width="56" height="3"/>
<rect class="g" x="1223.5" y="390.5" width="56" height="12"/>
<rect class="o" x="1230.5" y="399.5" width="56" height="3"/>
<rect class="g" x="1230.5" y="390.5" width="56" height="12"/>
<rect class="o" x="1237.5" y="399.5" width="56" height="3"/>
<rect class="g" x="1237.5" y="390.5" width="56" height="12"/>
<rect class="o" x="1244.5" y="399.5" width="57" height="3"/>
<rect class="g" x="1244.5" y="389.5" width="57" height="13"/>
<rect class="o" x="1251.5" y="395.5" width="57" height="7"/>
<rect class="g" x="1251.5" y="364.5" width="57" height="38"/>
<rect class="o" x="1258.5" y="397.5" width="57" height="5"/>
<rect class="g" x="1258.5" y="376.5" width="57" height="26"/>
<rect class="o" x="1265.5" y="397.5" width="57" height="5"/>
<rect class="g" x="1265.5" y="375.5" width="57" height="27"/>
<rect class="o" x="1272.5" y="397.5" width="57" height="5"/>
<rect class="g" x="1272.5" y="374.5" width="57" height="28"/>
<rect class="o" x="1279.5" y="399.5" width="57" height="3"/>
<rect class="g" x="1279.5" y="388.5" width="57" height="14"/>
<rect class="o" x="1286.5" y="399.5" width="57" height="3"/>
<rect class="g" x="1286.5" y="387.5" width="57" height="15"/>
<rect class="o" x="1301.5" y="397.5" width="56" height="5"/>
<rect class="g" x="1301.5" y="371.5" width="56" height="31"/>
<rect class="o" x="1308.5" y="397.5" width="56" height="5"/>
<rect class="g" x="1308.5" y="369.5" width="56" height="33"/>
<rect class="o" x="1315.5" y="397.5" width="56" height="5"/>
<rect class="g" x="1315.5" y="368.5" width="56" height="34"/>
<rect class="o" x="1322.5" y="399.5" width="56" height="3"/>
<rect class="g" x="1322.5" y="384.5" width="56" height="18"/>
<rect class="o" x="1336.5" y="395.5" width="57" height="7"/>
<rect class="g" x="1336.5" y="345.5" width="57" height="57"/>
<rect class="o" x="1350.5" y="397.5" width="57" height="5"/>
<rect class="g" x="1350.5" y="361.5" width="57" height="41"/>
<rect class="o" x="1357.5" y="399.5" width="57" height="3"/>
<rect class="g" x="1357.5" y="380.5" width="57" height="22"/>
<rect class="o" x="1364.5" y="399.5" width="57" height="3"/>
<rect class="g" x="1364.5" y="380.5" width="57" height="22"/>
<rect class="o" x="1371.5" y="397.5" width="57" height="5"/>
<rect class="g" x="1371.5" y="354.5" width="57" height="48"/>
<rect class="o" x="1378.5" y="397.5" width="57" height="5"/>
<rect class="g" x="1378.5" y="353.5" width="57" height="49"/>
<rect class="o" x="1385.5" y="399.5" width="57" height="3"/>
<rect class="g" x="1385.5" y="376.5" width="57" height="26"/>
<rect class="o" x="1393.5" y="397.5" width="56" height="5"/>
<rect class="g" x="1393.5" y="347.5" width="56" height="55"/>
<rect class="o" x="1400.5" y="399.5" width="56" height="3"/>
<rect class="g" x="1400.5" y="374.5" width="56" height="28"/>
<rect class="o" x="1407.5" y="399.5" width="56" height="3"/>
<rect class="g" x="1407.5" y="372.5" width="56" height="30"/>
<rect class="o" x="1414.5" y="399.5" width="56" height="3"/>
<rect class="g" x="1414.5" y="368.5" width="56" height="34"/>
<rect class="o" x="1428.5" y="397.5" width="57" height="5"/>
<rect class="g" x="1428.5" y="326.5" width="57" height="76"/>
<rect class="o" x="1435.5" y="395.5" width="57" height="7"/>
<rect class="g" x="1435.5" y="277.5" width="57" height="125"/>
<rect class="o" x="1442.5" y="399.5" width="57" height="3"/>
<rect class="g" x="1442.5" y="354.5" width="57" height="48"/>
<rect class="o" x="1449.5" y="399.5" width="57" height="3"/>
<rect class="g" x="1449.5" y="352.5" width="57" height="50"/>
<rect class="o" x="1456.5" y="399.5" width="57" height="3"/>
<rect class="g" x="1456.5" y="344.5" width="57" height="58"/>
<rect class="o" x="1463.5" y="399.5" width="57" height="3"/>
<rect class="g" x="1463.5" y="336.5" width="57" height="66"/>
<rect class="o" x="1470.5" y="397.5" width="57" height="5"/>
<rect class="g" x="1470.5" y="263.5" width="57" height="139"/>
<rect class="o" x="1485.5" y="399.5" width="56" height="3"/>
<rect class="g" x="1485.5" y="288.5" width="56" height="114"/>
<rect class="b" x="167.5" y="402.5" width="57" height="2"/>
<rect class="b" x="182.5" y="402.5" width="56" height="2"/>
<rect class="b" x="189.5" y="402.5" width="56" height="2"/>
<rect class="b" x="217.5" y="402.5" width="57" height="2"/>
<rect class="b" x="224.5" y="402.5" width="57" height="2"/>
<rect class="b" x="238.5" y="402.5" width="57" height="2"/>
<rect class="b" x="260.5" y="402.5" width="56" height="2"/>
<rect class="b" x="274.5" y="402.5" width="56" height="5"/>
<rect class="b" x="281.5" y="402.5" width="56" height="2"/>
<rect class="b" x="288.5" y="402.5" width="57" height="2"/>
<rect class="b" x="295.5" y="402.5" width="57" height="2"/>
<rect class="b" x="302.5" y="402.5" width="57" height="2"/>
<rect class="b" x="309.5" y="402.5" width="57" height="2"/>
<rect class="b" x="316.5" y="402.5" width="57" height="2"/>
<rect class="b" x="323.5" y="402.5" width="57" height="5"/>
<rect class="b" x="330.5" y="402.5" width="57" height="2"/>
<rect class="b" x="337.5" y="402.5" width="57" height="5"/>
<rect class="b" x="352.5" y="402.5" width="56" height="2"/>
<rect class="b" x="366.5" y="402.5" width="56" height="2"/>
<rect class="b" x="373.5" y="402.5" width="56" height="2"/>
<rect class="b" x="380.5" y="402.5" width="57" height="2"/>
<rect class="b" x="401.5" y="402.5" width="57" height="2"/>
<rect class="b" x="408.5" y="402.5" width="57" height="2"/>
<rect class="b" x="422.5" y="402.5" width="57" height="5"/>
<rect class="b" x="429.5" y="402.5" width="57" height="2"/>
<rect class="b" x="437.5" y="402.5" width="56" height="5"/>
<rect class="b" x="444.5" y="402.5" width="56" height="5"/>
<rect class="b" x="458.5" y="402.5" width="56" height="2"/>
<rect class="b" x="465.5" y="402.5" width="57" height="2"/>
<rect class="b" x="472.5" y="402.5" width="57" height="2"/>
<rect class="b" x="479.5" y="402.5" width="57" height="5"/>
<rect class="b" x="486.5" y="402.5" width="57" height="2"/>
<rect class="b" x="493.5" y="402.5" width="57" height="12"/>
<rect class="b" x="500.5" y="402.5" width="57" height="2"/>
<rect class="b" x="507.5" y="402.5" width="57" height="2"/>
<rect class="b" x="522.5" y="402.5" width="56" height="5"/>
<rect class="b" x="529.5" y="402.5" width="56" height="2"/>
<rect class="b" x="536.5" y="402.5" width="56" height="2"/>
<rect class="b" x="543.5" y="402.5" width="56" height="5"/>
<rect class="b" x="550.5" y="402.5" width="57" height="7"/>
<rect class="b" x="557.5" y="402.5" width="57" height="2"/>
<rect class="b" x="564.5" y="402.5" width="57" height="5"/>
<rect class="b" x="578.5" y="402.5" width="57" height="5"/>
<rect class="b" x="585.5" y="402.5" width="57" height="2"/>
<rect class="b" x="592.5" y="402.5" width="57" height="7"/>
<rect class="b" x="607.5" y="402.5" width="56" height="7"/>
<rect class="b" x="614.5" y="402.5" width="56" height="2"/>
<rect class="b" x="621.5" y="402.5" width="56" height="5"/>
<rect class="b" x="628.5" y="402.5" width="56" height="5"/>
<rect class="b" x="635.5" y="402.5" width="56" height="5"/>
<rect class="b" x="642.5" y="402.5" width="57" height="12"/>
<rect class="b" x="649.5" y="402.5" width="57" height="9"/>
<rect class="b" x="663.5" y="402.5" width="57" height="5"/>
<rect class="b" x="670.5" y="402.5" width="57" height="2"/>
<rect class="b" x="684.5" y="402.5" width="57" height="2"/>
<rect class="b" x="691.5" y="402.5" width="57" height="2"/>
<rect class="b" x="699.5" y="402.5" width="56" height="5"/>
<rect class="b" x="706.5" y="402.5" width="56" height="2"/>
<rect class="b" x="713.5" y="402.5" width="56" height="2"/>
<rect class="b" x="720.5" y="402.5" width="56" height="5"/>
<rect class="b" x="734.5" y="402.5" width="57" height="5"/>
<rect class="b" x="741.5" y="402.5" width="57" height="2"/>
<rect class="b" x="748.5" y="402.5" width="57" height="2"/>
<rect class="b" x="755.5" y="402.5" width="57" height="7"/>
<rect class="b" x="762.5" y="402.5" width="57" height="2"/>
<rect class="b" x="769.5" y="402.5" width="57" height="5"/>
<rect class="b" x="776.5" y="402.5" width="57" height="2"/>
<rect class="b" x="784.5" y="402.5" width="56" height="7"/>
<rect class="b" x="798.5" y="402.5" width="56" height="7"/>
<rect class="b" x="805.5" y="402.5" width="56" height="7"/>
<rect class="b" x="812.5" y="402.5" width="57" height="7"/>
<rect class="b" x="819.5" y="402.5" width="57" height="7"/>
<rect class="b" x="826.5" y="402.5" width="57" height="7"/>
<rect class="b" x="833.5" y="402.5" width="57" height="5"/>
<rect class="b" x="840.5" y="402.5" width="57" height="5"/>
<rect class="b" x="847.5" y="402.5" width="57" height="7"/>
<rect class="b" x="854.5" y="402.5" width="57" height="7"/>
<rect class="b" x="861.5" y="402.5" width="57" height="9"/>
<rect class="b" x="869.5" y="402.5" width="56" height="5"/>
<rect class="b" x="876.5" y="402.5" width="56" height="5"/>
<rect class="b" x="883.5" y="402.5" width="56" height="2"/>
<rect class="b" x="897.5" y="402.5" width="57" height="7"/>
<rect class="b" x="904.5" y="402.5" width="57" height="5"/>
<rect class="b" x="911.5" y="402.5" width="57" height="2"/>
<rect class="b" x="918.5" y="402.5" width="57" height="14"/>
<rect class="b" x="925.5" y="402.5" width="57" height="2"/>
<rect class="b" x="932.5" y="402.5" width="57" height="5"/>
<rect class="b" x="939.5" y="402.5" width="57" height="5"/>
<rect class="b" x="946.5" y="402.5" width="57" height="2"/>
<rect class="b" x="954.5" y="402.5" width="56" height="5"/>
<rect class="b" x="961.5" y="402.5" width="56" height="2"/>
<rect class="b" x="968.5" y="402.5" width="56" height="7"/>
<rect class="b" x="975.5" y="402.5" width="56" height="2"/>
<rect class="b" x="982.5" y="402.5" width="56" height="12"/>
<rect class="b" x="989.5" y="402.5" width="57" height="7"/>
<rect class="b" x="996.5" y="402.5" width="57" height="9"/>
<rect class="b" x="1003.5" y="402.5" width="57" height="5"/>
<rect class="b" x="1010.5" y="402.5" width="57" height="14"/>
<rect class="b" x="1017.5" y="402.5" width="57" height="12"/>
<rect class="b" x="1024.5" y="402.5" width="57" height="14"/>
<rect class="b" x="1031.5" y="402.5" width="57" height="9"/>
<rect class="b" x="1038.5" y="402.5" width="57" height="7"/>
<rect class="b" x="1046.5" y="402.5" width="56" height="9"/>
<rect class="b" x="1053.5" y="402.5" width="56" height="5"/>
<rect class="b" x="1060.5" y="402.5" width="56" height="12"/>
<rect class="b" x="1067.5" y="402.5" width="56" height="21"/>
<rect class="b" x="1074.5" y="402.5" width="57" height="21"/>
<rect class="b" x="1081.5" y="402.5" width="57" height="7"/>
<rect class="b" x="1088.5" y="402.5" width="57" height="7"/>
<rect class="b" x="1095.5" y="402.5" width="57" height="12"/>
<rect class="b" x="1102.5" y="402.5" width="57" height="24"/>
<rect class="b" x="1109.5" y="402.5" width="57" height="2"/>
<rect class="b" x="1116.5" y="402.5" width="57" height="14"/>
<rect class="b" x="1123.5" y="402.5" width="57" height="9"/>
<rect class="b" x="1131.5" y="402.5" width="56" height="19"/>
<rect class="b" x="1138.5" y="402.5" width="56" height="7"/>
<rect class="b" x="1145.5" y="402.5" width="56" height="2"/>
<rect class="b" x="1152.5" y="402.5" width="56" height="7"/>
<rect class="b" x="1159.5" y="402.5" width="57" height="14"/>
<rect class="b" x="1166.5" y="402.5" width="57" height="16"/>
<rect class="b" x="1173.5" y="402.5" width="57" height="5"/>
<rect class="b" x="1180.5" y="402.5" width="57" height="12"/>
<rect class="b" x="1187.5" y="402.5" width="57" height="28"/>
<rect class="b" x="1194.5" y="402.5" width="57" height="19"/>
<rect class="b" x="1201.5" y="402.5" width="57" height="7"/>
<rect class="b" x="1208.5" y="402.5" width="57" height="9"/>
<rect class="b" x="1216.5" y="402.5" width="56" height="16"/>
<rect class="b" x="1223.5" y="402.5" width="56" height="19"/>
<rect class="b" x="1230.5" y="402.5" width="56" height="12"/>
<rect class="b" x="1237.5" y="402.5" width="56" height="12"/>
<rect class="b" x="1244.5" y="402.5" width="57" height="9"/>
<rect class="b" x="1251.5" y="402.5" width="57" height="2"/>
<rect class="b" x="1258.5" y="402.5" width="57" height="7"/>
<rect class="b" x="1265.5" y="402.5" width="57" height="14"/>
<rect class="b" x="1272.5" y="402.5" width="57" height="9"/>
<rect class="b" x="1279.5" y="402.5" width="57" height="24"/>
<rect class="b" x="1286.5" y="402.5" width="57" height="19"/>
<rect class="b" x="1293.5" y="402.5" width="57" height="16"/>
<rect class="b" x="1301.5" y="402.5" width="56" height="14"/>
<rect class="b" x="1308.5" y="402.5" width="56" height="12"/>
<rect class="b" x="1315.5" y="402.5" width="56" height="19"/>
<rect class="b" x="1322.5" y="402.5" width="56" height="19"/>
<rect class="b" x="1329.5" y="402.5" width="56" height="26"/>
<rect class="b" x="1336.5" y="402.5" width="57" height="12"/>
<rect class="b" x="1343.5" y="402.5" width="57" height="16"/>
<rect class="b" x="1350.5" y="402.5" width="57" height="16"/>
<rect class="b" x="1357.5" y="402.5" width="57" height="21"/>
<rect class="b" x="1364.5" y="402.5" width="57" height="21"/>
<rect class="b" x="1371.5" y="402.5" width="57" height="16"/>
<rect class="b" x="1378.5" y="402.5" width="57" height="33"/>
<rect class="b" x="1385.5" y="402.5" width="57" height="31"/>
<rect class="b" x="1393.5" y="402.5" width="56" height="14"/>
<rect class="b" x="1400.5" y="402.5" width="56" height="24"/>
<rect class="b" x="1407.5" y="402.5" width="56" height="16"/>
<rect class="b" x="1414.5" y="402.5" width="56" height="5"/>
<rect class="b" x="1421.5" y="402.5" width="57" height="14"/>
<rect class="b" x="1428.5" y="402.5" width="57" height="24"/>
<rect class="b" x="1435.5" y="402.5" width="57" height="12"/>
<rect class="b" x="1442.5" y="402.5" width="57" height="21"/>
<rect class="b" x="1449.5" y="402.5" width="57" height="19"/>
<rect class="b" x="1456.5" y="402.5" width="57" height="36"/>
<rect class="b" x="1463.5" y="402.5" width="57" height="28"/>
<rect class="b" x="1470.5" y="402.5" width="57" height="24"/>
<rect class="b" x="1478.5" y="402.5" width="56" height="36"/>
<rect class="b" x="1485.5" y="402.5" width="56" height="33"/>
<rect class="b" x="1492.5" y="402.5" width="56" height="24"/>
<rect class="g" x="167.5" y="402.5" width="57" height="48"/>
<rect class="g" x="182.5" y="402.5" width="56" height="41"/>
<rect class="g" x="189.5" y="402.5" width="56" height="39"/>
<rect class="g" x="217.5" y="402.5" width="57" height="28"/>
<rect class="g" x="224.5" y="402.5" width="57" height="28"/>
<rect class="g" x="238.5" y="402.5" width="57" height="24"/>
<rect class="g" x="260.5" y="402.5" width="56" height="21"/>
<rect class="g" x="274.5" y="402.5" width="56" height="39"/>
<rect class="g" x="281.5" y="402.5" width="56" height="19"/>
<rect class="g" x="288.5" y="402.5" width="57" height="18"/>
<rect class="g" x="295.5" y="402.5" width="57" height="17"/>
<rect class="g" x="302.5" y="402.5" width="57" height="17"/>
<rect class="g" x="309.5" y="402.5" width="57" height="16"/>
<rect class="g" x="316.5" y="402.5" width="57" height="15"/>
<rect class="g" x="323.5" y="402.5" width="57" height="30"/>
<rect class="g" x="330.5" y="402.5" width="57" height="14"/>
<rect class="g" x="337.5" y="402.5" width="57" height="28"/>
<rect class="g" x="352.5" y="402.5" width="56" height="13"/>
<rect class="g" x="366.5" y="402.5" width="56" height="12"/>
<rect class="g" x="373.5" y="402.5" width="56" height="12"/>
<rect class="g" x="380.5" y="402.5" width="57" height="12"/>
<rect class="g" x="401.5" y="402.5" width="57" height="11"/>
<rect class="g" x="408.5" y="402.5" width="57" height="11"/>
<rect class="g" x="422.5" y="402.5" width="57" height="21"/>
<rect class="g" x="429.5" y="402.5" width="57" height="10"/>
<rect class="g" x="437.5" y="402.5" width="56" height="20"/>
<rect class="g" x="444.5" y="402.5" width="56" height="19"/>
<rect class="g" x="458.5" y="402.5" width="56" height="9"/>
<rect class="g" x="465.5" y="402.5" width="57" height="9"/>
<rect class="g" x="472.5" y="402.5" width="57" height="9"/>
<rect class="g" x="479.5" y="402.5" width="57" height="18"/>
<rect class="g" x="486.5" y="402.5" width="57" height="8"/>
<rect class="g" x="493.5" y="402.5" width="57" height="43"/>
<rect class="g" x="500.5" y="402.5" width="57" height="8"/>
<rect class="g" x="507.5" y="402.5" width="57" height="8"/>
<rect class="g" x="522.5" y="402.5" width="56" height="16"/>
<rect class="g" x="529.5" y="402.5" width="56" height="8"/>
<rect class="g" x="536.5" y="402.5" width="56" height="8"/>
<rect class="g" x="543.5" y="402.5" width="56" height="15"/>
<rect class="g" x="550.5" y="402.5" width="57" height="22"/>
<rect class="g" x="557.5" y="402.5" width="57" height="7"/>
<rect class="g" x="564.5" y="402.5" width="57" height="14"/>
<rect class="g" x="578.5" y="402.5" width="57" height="14"/>
<rect class="g" x="585.5" y="402.5" width="57" height="7"/>
<rect class="g" x="592.5" y="402.5" width="57" height="20"/>
<rect class="g" x="607.5" y="402.5" width="56" height="20"/>
<rect class="g" x="614.5" y="402.5" width="56" height="6"/>
<rect class="g" x="621.5" y="402.5" width="56" height="13"/>
<rect class="g" x="628.5" y="402.5" width="56" height="13"/>
<rect class="g" x="635.5" y="402.5" width="56" height="12"/>
<rect class="g" x="642.5" y="402.5" width="57" height="31"/>
<rect class="g" x="649.5" y="402.5" width="57" height="24"/>
<rect class="g" x="663.5" y="402.5" width="57" height="12"/>
<rect class="g" x="670.5" y="402.5" width="57" height="6"/>
<rect class="g" x="684.5" y="402.5" width="57" height="6"/>
<rect class="g" x="691.5" y="402.5" width="57" height="6"/>
<rect class="g" x="699.5" y="402.5" width="56" height="11"/>
<rect class="g" x="706.5" y="402.5" width="56" height="5"/>
<rect class="g" x="713.5" y="402.5" width="56" height="5"/>
<rect class="g" x="720.5" y="402.5" width="56" height="11"/>
<rect class="g" x="734.5" y="402.5" width="57" height="10"/>
<rect class="g" x="741.5" y="402.5" width="57" height="5"/>
<rect class="g" x="748.5" y="402.5" width="57" height="5"/>
<rect class="g" x="755.5" y="402.5" width="57" height="15"/>
<rect class="g" x="762.5" y="402.5" width="57" height="5"/>
<rect class="g" x="769.5" y="402.5" width="57" height="10"/>
<rect class="g" x="776.5" y="402.5" width="57" height="5"/>
<rect class="g" x="784.5" y="402.5" width="56" height="15"/>
<rect class="g" x="798.5" y="402.5" width="56" height="14"/>
<rect class="g" x="805.5" y="402.5" width="56" height="14"/>
<rect class="g" x="812.5" y="402.5" width="57" height="14"/>
<rect class="g" x="819.5" y="402.5" width="57" height="14"/>
<rect class="g" x="826.5" y="402.5" width="57" height="14"/>
<rect class="g" x="833.5" y="402.5" width="57" height="9"/>
<rect class="g" x="840.5" y="402.5" width="57" height="9"/>
<rect class="g" x="847.5" y="402.5" width="57" height="13"/>
<rect class="g" x="854.5" y="402.5" width="57" height="13"/>
<rect class="g" x="861.5" y="402.5" width="57" height="18"/>
<rect class="g" x="869.5" y="402.5" width="56" height="9"/>
<rect class="g" x="876.5" y="402.5" width="56" height="8"/>
<rect class="g" x="883.5" y="402.5" width="56" height="4"/>
<rect class="g" x="897.5" y="402.5" width="57" height="13"/>
<rect class="g" x="904.5" y="402.5" width="57" height="8"/>
<rect class="g" x="911.5" y="402.5" width="57" height="4"/>
<rect class="g" x="918.5" y="402.5" width="57" height="25"/>
<rect class="g" x="925.5" y="402.5" width="57" height="4"/>
<rect class="g" x="932.5" y="402.5" width="57" height="8"/>
<rect class="g" x="939.5" y="402.5" width="57" height="8"/>
<rect class="g" x="946.5" y="402.5" width="57" height="4"/>
<rect class="g" x="954.5" y="402.5" width="56" height="8"/>
<rect class="g" x="961.5" y="402.5" width="56" height="4"/>
<rect class="g" x="968.5" y="402.5" width="56" height="11"/>
<rect class="g" x="975.5" y="402.5" width="56" height="4"/>
<rect class="g" x="982.5" y="402.5" width="56" height="19"/>
<rect class="g" x="989.5" y="402.5" width="57" height="11"/>
<rect class="g" x="996.5" y="402.5" width="57" height="15"/>
<rect class="g" x="1003.5" y="402.5" width="57" height="7"/>
<rect class="g" x="1010.5" y="402.5" width="57" height="22"/>
<rect class="g" x="1017.5" y="402.5" width="57" height="18"/>
<rect class="g" x="1024.5" y="402.5" width="57" height="22"/>
<rect class="g" x="1031.5" y="402.5" width="57" height="14"/>
<rect class="g" x="1038.5" y="402.5" width="57" height="11"/>
<rect class="g" x="1046.5" y="402.5" width="56" height="14"/>
<rect class="g" x="1053.5" y="402.5" width="56" height="7"/>
<rect class="g" x="1060.5" y="402.5" width="56" height="17"/>
<rect class="g" x="1067.5" y="402.5" width="56" height="31"/>
<rect class="g" x="1074.5" y="402.5" width="57" height="31"/>
<rect class="g" x="1081.5" y="402.5" width="57" height="10"/>
<rect class="g" x="1088.5" y="402.5" width="57" height="10"/>
<rect class="g" x="1095.5" y="402.5" width="57" height="17"/>
<rect class="g" x="1102.5" y="402.5" width="57" height="33"/>
<rect class="g" x="1109.5" y="402.5" width="57" height="3"/>
<rect class="g" x="1116.5" y="402.5" width="57" height="20"/>
<rect class="g" x="1123.5" y="402.5" width="57" height="13"/>
<rect class="g" x="1131.5" y="402.5" width="56" height="26"/>
<rect class="g" x="1138.5" y="402.5" width="56" height="10"/>
<rect class="g" x="1145.5" y="402.5" width="56" height="3"/>
<rect class="g" x="1152.5" y="402.5" width="56" height="9"/>
<rect class="g" x="1159.5" y="402.5" width="57" height="19"/>
<rect class="g" x="1166.5" y="402.5" width="57" height="22"/>
<rect class="g" x="1173.5" y="402.5" width="57" height="6"/>
<rect class="g" x="1180.5" y="402.5" width="57" height="15"/>
<rect class="g" x="1187.5" y="402.5" width="57" height="37"/>
<rect class="g" x="1194.5" y="402.5" width="57" height="24"/>
<rect class="g" x="1201.5" y="402.5" width="57" height="9"/>
<rect class="g" x="1208.5" y="402.5" width="57" height="12"/>
<rect class="g" x="1216.5" y="402.5" width="56" height="21"/>
<rect class="g" x="1223.5" y="402.5" width="56" height="24"/>
<rect class="g" x="1230.5" y="402.5" width="56" height="15"/>
<rect class="g" x="1237.5" y="402.5" width="56" height="15"/>
<rect class="g" x="1244.5" y="402.5" width="57" height="12"/>
<rect class="g" x="1251.5" y="402.5" width="57" height="3"/>
<rect class="g" x="1258.5" y="402.5" width="57" height="9"/>
<rect class="g" x="1265.5" y="402.5" width="57" height="17"/>
<rect class="g" x="1272.5" y="402.5" width="57" height="11"/>
<rect class="g" x="1279.5" y="402.5" width="57" height="28"/>
<rect class="g" x="1286.5" y="402.5" width="57" height="23"/>
<rect class="g" x="1293.5" y="402.5" width="57" height="20"/>
<rect class="g" x="1301.5" y="402.5" width="56" height="17"/>
<rect class="g" x="1308.5" y="402.5" width="56" height="14"/>
<rect class="g" x="1315.5" y="402.5" width="56" height="22"/>
<rect class="g" x="1322.5" y="402.5" width="56" height="22"/>
<rect class="g" x="1329.5" y="402.5" width="56" height="30"/>
<rect class="g" x="1336.5" y="402.5" width="57" height="13"/>
<rect class="g" x="1343.5" y="402.5" width="57" height="19"/>
<rect class="g" x="1350.5" y="402.5" width="57" height="19"/>
<rect class="g" x="1357.5" y="402.5" width="57" height="24"/>
<rect class="g" x="1364.5" y="402.5" width="57" height="24"/>
<rect class="g" x="1371.5" y="402.5" width="57" height="18"/>
<rect class="g" x="1378.5" y="402.5" width="57" height="37"/>
<rect class="g" x="1385.5" y="402.5" width="57" height="34"/>
<rect class="g" x="1393.5" y="402.5" width="56" height="15"/>
<rect class="g" x="1400.5" y="402.5" width="56" height="26"/>
<rect class="g" x="1407.5" y="402.5" width="56" height="18"/>
<rect class="g" x="1414.5" y="402.5" width="56" height="5"/>
<rect class="g" x="1421.5" y="402.5" width="57" height="15"/>
<rect class="g" x="1428.5" y="402.5" width="57" height="25"/>
<rect class="g" x="1435.5" y="402.5" width="57" height="12"/>
<rect class="g" x="1442.5" y="402.5" width="57" height="22"/>
<rect class="g" x="1449.5" y="402.5" width="57" height="20"/>
<rect class="g" x="1456.5" y="402.5" width="57" height="37"/>
<rect class="g" x="1463.5" y="402.5" width="57" height="30"/>
<rect class="g" x="1470.5" y="402.5" width="57" height="24"/>
<rect class="g" x="1478.5" y="402.5" width="56" height="37"/>
<rect class="g" x="1485.5" y="402.5" width="56" height="34"/>
<rect class="g" x="1492.5" y="402.5" width="56" height="24"/>
<rect class="o" x="146.5" y="399.5" width="57" height="3"/>
<rect class="g" x="146.5" y="399.5" width="57" height="3"/>
<rect class="o" x="153.5" y="392.5" width="57" height="10"/>
<rect class="g" x="153.5" y="392.5" width="57" height="10"/>
<rect class="o" x="160.5" y="395.5" width="57" height="7"/>
<rect class="g" x="160.5" y="394.5" width="57" height="8"/>
<rect class="o" x="167.5" y="399.5" width="57" height="3"/>
<rect class="g" x="167.5" y="399.5" width="57" height="3"/>
<rect class="o" x="175.5" y="390.5" width="56" height="12"/>
<rect class="g" x="175.5" y="389.5" width="56" height="13"/>
<rect class="o" x="182.5" y="390.5" width="56" height="12"/>
<rect class="g" x="182.5" y="389.5" width="56" height="13"/>
<rect class="o" x="189.5" y="395.5" width="56" height="7"/>
<rect class="g" x="189.5" y="394.5" width="56" height="8"/>
<rect class="o" x="196.5" y="390.5" width="56" height="12"/>
<rect class="g" x="196.5" y="389.5" width="56" height="13"/>
<rect class="o" x="203.5" y="392.5" width="57" height="10"/>
<rect class="g" x="203.5" y="392.5" width="57" height="10"/>
<rect class="o" x="210.5" y="392.5" width="57" height="10"/>
<rect class="g" x="210.5" y="391.5" width="57" height="11"/>
<rect class="o" x="217.5" y="383.5" width="57" height="19"/>
<rect class="g" x="217.5" y="381.5" width="57" height="21"/>
<rect class="o" x="224.5" y="395.5" width="57" height="7"/>
<rect class="g" x="224.5" y="394.5" width="57" height="8"/>
<rect class="o" x="231.5" y="392.5" width="57" height="10"/>
<rect class="g" x="231.5" y="391.5" width="57" height="11"/>
<rect class="o" x="238.5" y="395.5" width="57" height="7"/>
<rect class="g" x="238.5" y="394.5" width="57" height="8"/>
<rect class="o" x="245.5" y="390.5" width="57" height="12"/>
<rect class="g" x="245.5" y="389.5" width="57" height="13"/>
<rect class="o" x="252.5" y="392.5" width="57" height="10"/>
<rect class="g" x="252.5" y="391.5" width="57" height="11"/>
<rect class="o" x="260.5" y="395.5" width="56" height="7"/>
<rect class="g" x="260.5" y="394.5" width="56" height="8"/>
<rect class="o" x="267.5" y="395.5" width="56" height="7"/>
<rect class="g" x="267.5" y="394.5" width="56" height="8"/>
<rect class="o" x="274.5" y="392.5" width="56" height="10"/>
<rect class="g" x="274.5" y="391.5" width="56" height="11"/>
<rect class="o" x="281.5" y="395.5" width="56" height="7"/>
<rect class="g" x="281.5" y="394.5" width="56" height="8"/>
<rect class="o" x="288.5" y="390.5" width="57" height="12"/>
<rect class="g" x="288.5" y="388.5" width="57" height="14"/>
<rect class="o" x="295.5" y="383.5" width="57" height="19"/>
<rect class="g" x="295.5" y="380.5" width="57" height="22"/>
<rect class="o" x="302.5" y="390.5" width="57" height="12"/>
<rect class="g" x="302.5" y="388.5" width="57" height="14"/>
<rect class="o" x="309.5" y="385.5" width="57" height="17"/>
<rect class="g" x="309.5" y="382.5" width="57" height="20"/>
<rect class="o" x="316.5" y="395.5" width="57" height="7"/>
<rect class="g" x="316.5" y="393.5" width="57" height="9"/>
<rect class="o" x="323.5" y="387.5" width="57" height="15"/>
<rect class="g" x="323.5" y="385.5" width="57" height="17"/>
<rect class="o" x="330.5" y="392.5" width="57" height="10"/>
<rect class="g" x="330.5" y="390.5" width="57" height="12"/>
<rect class="o" x="337.5" y="392.5" width="57" height="10"/>
<rect class="g" x="337.5" y="390.5" width="57" height="12"/>
<rect class="o" x="345.5" y="387.5" width="56" height="15"/>
<rect class="g" x="345.5" y="385.5" width="56" height="17"/>
<rect class="o" x="352.5" y="385.5" width="56" height="17"/>
<rect class="g" x="352.5" y="382.5" width="56" height="20"/>
<rect class="o" x="359.5" y="385.5" width="56" height="17"/>
<rect class="g" x="359.5" y="381.5" width="56" height="21"/>
<rect class="o" x="366.5" y="397.5" width="56" height="5"/>
<rect class="g" x="366.5" y="396.5" width="56" height="6"/>
<rect class="o" x="373.5" y="387.5" width="56" height="15"/>
<rect class="g" x="373.5" y="384.5" width="56" height="18"/>
<rect class="o" x="387.5" y="399.5" width="57" height="3"/>
<rect class="g" x="387.5" y="399.5" width="57" height="3"/>
<rect class="o" x="394.5" y="397.5" width="57" height="5"/>
<rect class="g" x="394.5" y="396.5" width="57" height="6"/>
<rect class="o" x="401.5" y="397.5" width="57" height="5"/>
<rect class="g" x="401.5" y="396.5" width="57" height="6"/>
<rect class="o" x="408.5" y="385.5" width="57" height="17"/>
<rect class="g" x="408.5" y="380.5" width="57" height="22"/>
<rect class="o" x="415.5" y="392.5" width="57" height="10"/>
<rect class="g" x="415.5" y="390.5" width="57" height="12"/>
<rect class="o" x="422.5" y="397.5" width="57" height="5"/>
<rect class="g" x="422.5" y="396.5" width="57" height="6"/>
<rect class="o" x="429.5" y="390.5" width="57" height="12"/>
<rect class="g" x="429.5" y="386.5" width="57" height="16"/>
<rect class="o" x="437.5" y="392.5" width="56" height="10"/>
<rect class="g" x="437.5" y="389.5" width="56" height="13"/>
<rect class="o" x="444.5" y="390.5" width="56" height="12"/>
<rect class="g" x="444.5" y="386.5" width="56" height="16"/>
<rect class="o" x="451.5" y="387.5" width="56" height="15"/>
<rect class="g" x="451.5" y="383.5" width="56" height="19"/>
<rect class="o" x="458.5" y="395.5" width="56" height="7"/>
<rect class="g" x="458.5" y="392.5" width="56" height="10"/>
<rect class="o" x="465.5" y="395.5" width="57" height="7"/>
<rect class="g" x="465.5" y="392.5" width="57" height="10"/>
<rect class="o" x="472.5" y="385.5" width="57" height="17"/>
<rect class="g" x="472.5" y="379.5" width="57" height="23"/>
<rect class="o" x="479.5" y="385.5" width="57" height="17"/>
<rect class="g" x="479.5" y="379.5" width="57" height="23"/>
<rect class="o" x="486.5" y="390.5" width="57" height="12"/>
<rect class="g" x="486.5" y="385.5" width="57" height="17"/>
<rect class="o" x="493.5" y="399.5" width="57" height="3"/>
<rect class="g" x="493.5" y="398.5" width="57" height="4"/>
<rect class="o" x="500.5" y="395.5" width="57" height="7"/>
<rect class="g" x="500.5" y="392.5" width="57" height="10"/>
<rect class="o" x="507.5" y="397.5" width="57" height="5"/>
<rect class="g" x="507.5" y="395.5" width="57" height="7"/>
<rect class="o" x="514.5" y="390.5" width="57" height="12"/>
<rect class="g" x="514.5" y="385.5" width="57" height="17"/>
<rect class="o" x="522.5" y="399.5" width="56" height="3"/>
<rect class="g" x="522.5" y="398.5" width="56" height="4"/>
<rect class="o" x="529.5" y="392.5" width="56" height="10"/>
<rect class="g" x="529.5" y="388.5" width="56" height="14"/>
<rect class="o" x="536.5" y="397.5" width="56" height="5"/>
<rect class="g" x="536.5" y="395.5" width="56" height="7"/>
<rect class="o" x="543.5" y="390.5" width="56" height="12"/>
<rect class="g" x="543.5" y="384.5" width="56" height="18"/>
<rect class="o" x="550.5" y="395.5" width="57" height="7"/>
<rect class="g" x="550.5" y="391.5" width="57" height="11"/>
<rect class="o" x="557.5" y="397.5" width="57" height="5"/>
<rect class="g" x="557.5" y="395.5" width="57" height="7"/>
<rect class="o" x="564.5" y="399.5" width="57" height="3"/>
<rect class="g" x="564.5" y="398.5" width="57" height="4"/>
<rect class="o" x="571.5" y="399.5" width="57" height="3"/>
<rect class="g" x="571.5" y="398.5" width="57" height="4"/>
<rect class="o" x="578.5" y="397.5" width="57" height="5"/>
<rect class="g" x="578.5" y="395.5" width="57" height="7"/>
<rect class="o" x="585.5" y="397.5" width="57" height="5"/>
<rect class="g" x="585.5" y="395.5" width="57" height="7"/>
<rect class="o" x="592.5" y="399.5" width="57" height="3"/>
<rect class="g" x="592.5" y="398.5" width="57" height="4"/>
<rect class="o" x="599.5" y="387.5" width="57" height="15"/>
<rect class="g" x="599.5" y="380.5" width="57" height="22"/>
<rect class="o" x="607.5" y="387.5" width="56" height="15"/>
<rect class="g" x="607.5" y="380.5" width="56" height="22"/>
<rect class="o" x="614.5" y="397.5" width="56" height="5"/>
<rect class="g" x="614.5" y="394.5" width="56" height="8"/>
<rect class="o" x="621.5" y="397.5" width="56" height="5"/>
<rect class="g" x="621.5" y="394.5" width="56" height="8"/>
<rect class="o" x="628.5" y="397.5" width="56" height="5"/>
<rect class="g" x="628.5" y="394.5" width="56" height="8"/>
<rect class="o" x="635.5" y="387.5" width="56" height="15"/>
<rect class="g" x="635.5" y="379.5" width="56" height="23"/>
<rect class="o" x="642.5" y="392.5" width="57" height="10"/>
<rect class="g" x="642.5" y="386.5" width="57" height="16"/>
<rect class="o" x="649.5" y="392.5" width="57" height="10"/>
<rect class="g" x="649.5" y="386.5" width="57" height="16"/>
<rect class="o" x="656.5" y="390.5" width="57" height="12"/>
<rect class="g" x="656.5" y="382.5" width="57" height="20"/>
<rect class="o" x="663.5" y="399.5" width="57" height="3"/>
<rect class="g" x="663.5" y="398.5" width="57" height="4"/>
<rect class="o" x="670.5" y="399.5" width="57" height="3"/>
<rect class="g" x="670.5" y="398.5" width="57" height="4"/>
<rect class="o" x="677.5" y="399.5" width="57" height="3"/>
<rect class="g" x="677.5" y="398.5" width="57" height="4"/>
<rect class="o" x="684.5" y="397.5" width="57" height="5"/>
<rect class="g" x="684.5" y="394.5" width="57" height="8"/>
<rect class="o" x="691.5" y="392.5" width="57" height="10"/>
<rect class="g" x="691.5" y="385.5" width="57" height="17"/>
<rect class="o" x="699.5" y="397.5" width="56" height="5"/>
<rect class="g" x="699.5" y="394.5" width="56" height="8"/>
<rect class="o" x="706.5" y="397.5" width="56" height="5"/>
<rect class="g" x="706.5" y="393.5" width="56" height="9"/>
<rect class="o" x="713.5" y="395.5" width="56" height="7"/>
<rect class="g" x="713.5" y="389.5" width="56" height="13"/>
<rect class="o" x="727.5" y="397.5" width="57" height="5"/>
<rect class="g" x="727.5" y="393.5" width="57" height="9"/>
<rect class="o" x="734.5" y="399.5" width="57" height="3"/>
<rect class="g" x="734.5" y="398.5" width="57" height="4"/>
<rect class="o" x="741.5" y="395.5" width="57" height="7"/>
<rect class="g" x="741.5" y="389.5" width="57" height="13"/>
<rect class="o" x="748.5" y="387.5" width="57" height="15"/>
<rect class="g" x="748.5" y="375.5" width="57" height="27"/>
<rect class="o" x="755.5" y="392.5" width="57" height="10"/>
<rect class="g" x="755.5" y="384.5" width="57" height="18"/>
<rect class="o" x="762.5" y="395.5" width="57" height="7"/>
<rect class="g" x="762.5" y="388.5" width="57" height="14"/>
<rect class="o" x="769.5" y="395.5" width="57" height="7"/>
<rect class="g" x="769.5" y="388.5" width="57" height="14"/>
<rect class="o" x="776.5" y="397.5" width="57" height="5"/>
<rect class="g" x="776.5" y="393.5" width="57" height="9"/>
<rect class="o" x="784.5" y="392.5" width="56" height="10"/>
<rect class="g" x="784.5" y="383.5" width="56" height="19"/>
<rect class="o" x="805.5" y="392.5" width="56" height="10"/>
<rect class="g" x="805.5" y="383.5" width="56" height="19"/>
<rect class="o" x="812.5" y="397.5" width="57" height="5"/>
<rect class="g" x="812.5" y="392.5" width="57" height="10"/>
<rect class="o" x="833.5" y="397.5" width="57" height="5"/>
<rect class="g" x="833.5" y="392.5" width="57" height="10"/>
<rect class="o" x="840.5" y="399.5" width="57" height="3"/>
<rect class="g" x="840.5" y="397.5" width="57" height="5"/>
<rect class="o" x="847.5" y="397.5" width="57" height="5"/>
<rect class="g" x="847.5" y="392.5" width="57" height="10"/>
<rect class="o" x="854.5" y="399.5" width="57" height="3"/>
<rect class="g" x="854.5" y="397.5" width="57" height="5"/>
<rect class="o" x="869.5" y="397.5" width="56" height="5"/>
<rect class="g" x="869.5" y="391.5" width="56" height="11"/>
<rect class="o" x="876.5" y="395.5" width="56" height="7"/>
<rect class="g" x="876.5" y="386.5" width="56" height="16"/>
<rect class="o" x="890.5" y="392.5" width="56" height="10"/>
<rect class="g" x="890.5" y="380.5" width="56" height="22"/>
<rect class="o" x="897.5" y="390.5" width="57" height="12"/>
<rect class="g" x="897.5" y="375.5" width="57" height="27"/>
<rect class="o" x="904.5" y="395.5" width="57" height="7"/>
<rect class="g" x="904.5" y="385.5" width="57" height="17"/>
<rect class="o" x="911.5" y="392.5" width="57" height="10"/>
<rect class="g" x="911.5" y="380.5" width="57" height="22"/>
<rect class="o" x="918.5" y="397.5" width="57" height="5"/>
<rect class="g" x="918.5" y="391.5" width="57" height="11"/>
<rect class="o" x="925.5" y="399.5" width="57" height="3"/>
<rect class="g" x="925.5" y="396.5" width="57" height="6"/>
<rect class="o" x="932.5" y="395.5" width="57" height="7"/>
<rect class="g" x="932.5" y="384.5" width="57" height="18"/>
<rect class="o" x="939.5" y="399.5" width="57" height="3"/>
<rect class="g" x="939.5" y="396.5" width="57" height="6"/>
<rect class="o" x="946.5" y="397.5" width="57" height="5"/>
<rect class="g" x="946.5" y="390.5" width="57" height="12"/>
<rect class="o" x="954.5" y="395.5" width="56" height="7"/>
<rect class="g" x="954.5" y="384.5" width="56" height="18"/>
<rect class="o" x="961.5" y="395.5" width="56" height="7"/>
<rect class="g" x="961.5" y="384.5" width="56" height="18"/>
<rect class="o" x="968.5" y="397.5" width="56" height="5"/>
<rect class="g" x="968.5" y="390.5" width="56" height="12"/>
<rect class="o" x="975.5" y="397.5" width="56" height="5"/>
<rect class="g" x="975.5" y="389.5" width="56" height="13"/>
<rect class="o" x="982.5" y="395.5" width="56" height="7"/>
<rect class="g" x="982.5" y="383.5" width="56" height="19"/>
<rect class="o" x="989.5" y="397.5" width="57" height="5"/>
<rect class="g" x="989.5" y="389.5" width="57" height="13"/>
<rect class="o" x="996.5" y="399.5" width="57" height="3"/>
<rect class="g" x="996.5" y="395.5" width="57" height="7"/>
<rect class="o" x="1003.5" y="395.5" width="57" height="7"/>
<rect class="g" x="1003.5" y="382.5" width="57" height="20"/>
<rect class="o" x="1010.5" y="397.5" width="57" height="5"/>
<rect class="g" x="1010.5" y="388.5" width="57" height="14"/>
<rect class="o" x="1017.5" y="399.5" width="57" height="3"/>
<rect class="g" x="1017.5" y="395.5" width="57" height="7"/>
<rect class="o" x="1024.5" y="387.5" width="57" height="15"/>
<rect class="g" x="1024.5" y="361.5" width="57" height="41"/>
<rect class="o" x="1031.5" y="395.5" width="57" height="7"/>
<rect class="g" x="1031.5" y="381.5" width="57" height="21"/>
<rect class="o" x="1038.5" y="399.5" width="57" height="3"/>
<rect class="g" x="1038.5" y="395.5" width="57" height="7"/>
<rect class="o" x="1046.5" y="392.5" width="56" height="10"/>
<rect class="g" x="1046.5" y="373.5" width="56" height="29"/>
<rect class="o" x="1053.5" y="399.5" width="56" height="3"/>
<rect class="g" x="1053.5" y="395.5" width="56" height="7"/>
<rect class="o" x="1060.5" y="392.5" width="56" height="10"/>
<rect class="g" x="1060.5" y="372.5" width="56" height="30"/>
<rect class="o" x="1067.5" y="397.5" width="56" height="5"/>
<rect class="g" x="1067.5" y="387.5" width="56" height="15"/>
<rect class="o" x="1074.5" y="397.5" width="57" height="5"/>
<rect class="g" x="1074.5" y="386.5" width="57" height="16"/>
<rect class="o" x="1081.5" y="392.5" width="57" height="10"/>
<rect class="g" x="1081.5" y="371.5" width="57" height="31"/>
<rect class="o" x="1088.5" y="399.5" width="57" height="3"/>
<rect class="g" x="1088.5" y="394.5" width="57" height="8"/>
<rect class="o" x="1095.5" y="399.5" width="57" height="3"/>
<rect class="g" x="1095.5" y="394.5" width="57" height="8"/>
<rect class="o" x="1102.5" y="397.5" width="57" height="5"/>
<rect class="g" x="1102.5" y="385.5" width="57" height="17"/>
<rect class="o" x="1109.5" y="397.5" width="57" height="5"/>
<rect class="g" x="1109.5" y="385.5" width="57" height="17"/>
<rect class="o" x="1123.5" y="397.5" width="57" height="5"/>
<rect class="g" x="1123.5" y="385.5" width="57" height="17"/>
<rect class="o" x="1131.5" y="399.5" width="56" height="3"/>
<rect class="g" x="1131.5" y="393.5" width="56" height="9"/>
<rect class="o" x="1138.5" y="399.5" width="56" height="3"/>
<rect class="g" x="1138.5" y="393.5" width="56" height="9"/>
<rect class="o" x="1145.5" y="395.5" width="56" height="7"/>
<rect class="g" x="1145.5" y="374.5" width="56" height="28"/>
<rect class="o" x="1152.5" y="399.5" width="56" height="3"/>
<rect class="g" x="1152.5" y="393.5" width="56" height="9"/>
<rect class="o" x="1159.5" y="397.5" width="57" height="5"/>
<rect class="g" x="1159.5" y="383.5" width="57" height="19"/>
<rect class="o" x="1166.5" y="397.5" width="57" height="5"/>
<rect class="g" x="1166.5" y="383.5" width="57" height="19"/>
<rect class="o" x="1173.5" y="399.5" width="57" height="3"/>
<rect class="g" x="1173.5" y="392.5" width="57" height="10"/>
<rect class="o" x="1180.5" y="397.5" width="57" height="5"/>
<rect class="g" x="1180.5" y="382.5" width="57" height="20"/>
<rect class="o" x="1187.5" y="399.5" width="57" height="3"/>
<rect class="g" x="1187.5" y="391.5" width="57" height="11"/>
<rect class="o" x="1194.5" y="399.5" width="57" height="3"/>
<rect class="g" x="1194.5" y="391.5" width="57" height="11"/>
<rect class="o" x="1201.5" y="395.5" width="57" height="7"/>
<rect class="g" x="1201.5" y="370.5" width="57" height="32"/>
<rect class="o" x="1208.5" y="395.5" width="57" height="7"/>
<rect class="g" x="1208.5" y="369.5" width="57" height="33"/>
<rect class="o" x="1216.5" y="397.5" width="56" height="5"/>
<rect class="g" x="1216.5" y="379.5" width="56" height="23"/>
<rect class="o" x="1223.5" y="397.5" width="56" height="5"/>
<rect class="g" x="1223.5" y="379.5" width="56" height="23"/>
<rect class="o" x="1230.5" y="399.5" width="56" height="3"/>
<rect class="g" x="1230.5" y="390.5" width="56" height="12"/>
<rect class="o" x="1237.5" y="399.5" width="56" height="3"/>
<rect class="g" x="1237.5" y="390.5" width="56" height="12"/>
<rect class="o" x="1244.5" y="395.5" width="57" height="7"/>
<rect class="g" x="1244.5" y="365.5" width="57" height="37"/>
<rect class="o" x="1258.5" y="399.5" width="57" height="3"/>
<rect class="g" x="1258.5" y="389.5" width="57" height="13"/>
<rect class="o" x="1272.5" y="399.5" width="57" height="3"/>
<rect class="g" x="1272.5" y="388.5" width="57" height="14"/>
<rect class="o" x="1279.5" y="399.5" width="57" height="3"/>
<rect class="g" x="1279.5" y="388.5" width="57" height="14"/>
<rect class="o" x="1286.5" y="397.5" width="57" height="5"/>
<rect class="g" x="1286.5" y="372.5" width="57" height="30"/>
<rect class="o" x="1293.5" y="399.5" width="57" height="3"/>
<rect class="g" x="1293.5" y="387.5" width="57" height="15"/>
<rect class="o" x="1301.5" y="399.5" width="56" height="3"/>
<rect class="g" x="1301.5" y="386.5" width="56" height="16"/>
<rect class="o" x="1315.5" y="399.5" width="56" height="3"/>
<rect class="g" x="1315.5" y="385.5" width="56" height="17"/>
<rect class="o" x="1322.5" y="397.5" width="56" height="5"/>
<rect class="g" x="1322.5" y="367.5" width="56" height="35"/>
<rect class="o" x="1329.5" y="397.5" width="56" height="5"/>
<rect class="g" x="1329.5" y="365.5" width="56" height="37"/>
<rect class="o" x="1336.5" y="399.5" width="57" height="3"/>
<rect class="g" x="1336.5" y="383.5" width="57" height="19"/>
<rect class="o" x="1343.5" y="399.5" width="57" height="3"/>
<rect class="g" x="1343.5" y="382.5" width="57" height="20"/>
<rect class="o" x="1350.5" y="399.5" width="57" height="3"/>
<rect class="g" x="1350.5" y="382.5" width="57" height="20"/>
<rect class="o" x="1357.5" y="399.5" width="57" height="3"/>
<rect class="g" x="1357.5" y="381.5" width="57" height="21"/>
<rect class="o" x="1364.5" y="399.5" width="57" height="3"/>
<rect class="g" x="1364.5" y="380.5" width="57" height="22"/>
<rect class="o" x="1378.5" y="399.5" width="57" height="3"/>
<rect class="g" x="1378.5" y="377.5" width="57" height="25"/>
<rect class="o" x="1385.5" y="399.5" width="57" height="3"/>
<rect class="g" x="1385.5" y="376.5" width="57" height="26"/>
<rect class="o" x="1393.5" y="399.5" width="56" height="3"/>
<rect class="g" x="1393.5" y="374.5" width="56" height="28"/>
<rect class="o" x="1400.5" y="399.5" width="56" height="3"/>
<rect class="g" x="1400.5" y="372.5" width="56" height="30"/>
<rect class="o" x="1414.5" y="397.5" width="56" height="5"/>
<rect class="g" x="1414.5" y="336.5" width="56" height="66"/>
<rect class="o" x="1421.5" y="399.5" width="57" height="3"/>
<rect class="g" x="1421.5" y="365.5" width="57" height="37"/>
<rect class="o" x="1428.5" y="395.5" width="57" height="7"/>
<rect class="g" x="1428.5" y="285.5" width="57" height="117"/>
<rect class="o" x="1442.5" y="399.5" width="57" height="3"/>
<rect class="g" x="1442.5" y="358.5" width="57" height="44"/>
<rect class="o" x="1449.5" y="399.5" width="57" height="3"/>
<rect class="g" x="1449.5" y="350.5" width="57" height="52"/>
<rect class="o" x="1456.5" y="399.5" width="57" height="3"/>
<rect class="g" x="1456.5" y="349.5" width="57" height="53"/>
<rect class="o" x="1463.5" y="397.5" width="57" height="5"/>
<rect class="g" x="1463.5" y="269.5" width="57" height="133"/>
<rect class="o" x="1470.5" y="399.5" width="57" height="3"/>
<rect class="g" x="1470.5" y="333.5" width="57" height="69"/>
<rect class="o" x="1492.5" y="399.5" width="56" height="3"/>
<rect class="g" x="1492.5" y="269.5" width="56" height="133"/>
</g>
<line x1="238" y1="528.5" x2="238" y2="73.5" stroke="#000" stroke-width="2.08" stroke-dasharray="7.71 3.33"/>
<line x1="1371" y1="528.5" x2="1371" y2="73.5" stroke="#000" stroke-width="2.08" stroke-dasharray="7.71 3.33"/>
<line x1="69.5" y1="402.5" x2="1619.5" y2="402.5" stroke="#808080" stroke-width="2.78"/>
<rect x="69.5" y="73.5" width="1550" height="455" fill="none" stroke="#000" stroke-width="1.11"/>
<line x1="97.5" y1="528.5" x2="97.5" y2="533.36" stroke="#000" stroke-width="1.11"/>
<text x="96.25" y="548" font-size="13.89" text-anchor="middle" letter-spacing="-0.5">0.0</text>
<line x1="380.5" y1="528.5" x2="380.5" y2="533.36" stroke="#000" stroke-width="1.11"/>
<text x="379.51" y="548" font-size="13.89" text-anchor="middle" letter-spacing="-0.5">0.2</text>
<line x1="663.5" y1="528.5" x2="663.5" y2="533.36" stroke="#000" stroke-width="1.11"/>
<text x="662.77" y="548" font-size="13.89" text-anchor="middle" letter-spacing="-0.5">0.4</text>
<line x1="946.5" y1="528.5" x2="946.5" y2="533.36" stroke="#000" stroke-width="1.11"/>
<text x="946.03" y="548" font-size="13.89" text-anchor="middle" letter-spacing="-0.5">0.6</text>
<line x1="1230.5" y1="528.5" x2="1230.5" y2="533.36" stroke="#000" stroke-width="1.11"/>
<text x="1229.29" y="548" font-size="13.89" text-anchor="middle" letter-spacing="-0.5">0.8</text>
<line x1="1513.5" y1="528.5" x2="1513.5" y2="533.36" stroke="#000" stroke-width="1.11"/>
<text x="1512.55" y="548" font-size="13.89" text-anchor="middle" letter-spacing="-0.5">1.0</text>
<line x1="64.64" y1="521.5" x2="69.5" y2="521.5" stroke="#000" stroke-width="1.11"/>
<text x="57.9" y="526.3" font-size="13.89" text-anchor="end" letter-spacing="-0.5">−50</text>
<line x1="64.64" y1="461.5" x2="69.5" y2="461.5" stroke="#000" stroke-width="1.11"/>
<text x="57.9" y="466.7" font-size="13.89" text-anchor="end" letter-spacing="-0.5">−25</text>
<line x1="64.64" y1="402.5" x2="69.5" y2="402.5" stroke="#000" stroke-width="1.11"/>
<text x="57.9" y="407.1" font-size="13.89" text-anchor="end" letter-spacing="-0.5">0</text>
<line x1="64.64" y1="342.5" x2="69.5" y2="342.5" stroke="#000" stroke-width="1.11"/>
<text x="57.9" y="347.5" font-size="13.89" text-anchor="end" letter-spacing="-0.5">25</text>
<line x1="64.64" y1="283.5" x2="69.5" y2="283.5" stroke="#000" stroke-width="1.11"/>
<text x="57.9" y="287.9" font-size="13.89" text-anchor="end" letter-spacing="-0.5">50</text>
<line x1="64.64" y1="223.5" x2="69.5" y2="223.5" stroke="#000" stroke-width="1.11"/>
<text x="57.9" y="228.3" font-size="13.89" text-anchor="end" letter-spacing="-0.5">75</text>
<line x1="64.64" y1="163.5" x2="69.5" y2="163.5" stroke="#000" stroke-width="1.11"/>
<text x="57.9" y="168.7" font-size="13.89" text-anchor="end" letter-spacing="-0.5">100</text>
<line x1="64.64" y1="104.5" x2="69.5" y2="104.5" stroke="#000" stroke-width="1.11"/>
<text x="57.9" y="109.1" font-size="13.89" text-anchor="end" letter-spacing="-0.5">125</text>
<text x="477.3" y="32.1" font-size="27.78" text-anchor="start">Weighted and Unweighted Draws from the Posterior</text>
<text x="644.1" y="64.2" font-size="27.78" text-anchor="start">Propensity Scores Distribution</text>
<text x="782.4" y="568.3" font-size="13.89" text-anchor="start">Propensity Scores</text>
<text transform="translate(19.6 301) rotate(-90)" font-size="13.89" text-anchor="middle">Counts of Observations</text>
<rect x="720.4" y="80.4" width="248.2" height="87.6" rx="2.8" ry="2.8" fill="#fff" fill-opacity="0.8" stroke="#ccc" stroke-opacity="0.8" stroke-width="1.11"/>
<line x1="726" y1="91.3" x2="753.7" y2="91.3" stroke="#87ceeb" stroke-width="3" stroke-linecap="square"/>
<text x="763.7" y="96.2" font-size="13.89" text-anchor="start">Treatment PS</text>
<line x1="726" y1="112.25" x2="753.7" y2="112.25" stroke="#ffa500" stroke-width="3" stroke-linecap="square"/>
<text x="763.7" y="117.15" font-size="13.89" text-anchor="start">Control PS</text>
<line x1="726" y1="133.2" x2="753.7" y2="133.2" stroke="#808080" stroke-width="3" stroke-linecap="square"/>
<text x="763.7" y="138.1" font-size="13.89" text-anchor="start">Weighted Pseudo Population</text>
<line x1="726" y1="154.15" x2="753.7" y2="154.15" stroke="#000" stroke-width="3" stroke-dasharray="10.3 4.4"/>
<text x="763.7" y="159.05" font-size="13.89" text-anchor="start">Extreme PS</text>
<rect class="b" x="724.5" y="1053.5" width="15" height="21"/>
<rect class="b" x="739.5" y="990.5" width="15" height="84"/>
<rect class="b" x="754.5" y="867.5" width="15" height="207"/>
<rect class="b" x="769.5" y="640.5" width="14" height="434"/>
<rect class="b" x="783.5" y="673.5" width="15" height="401"/>
<rect class="b" x="798.5" y="841.5" width="15" height="233"/>
<rect class="b" x="813.5" y="993.5" width="15" height="81"/>
<rect class="b" x="828.5" y="1050.5" width="15" height="24"/>
<rect class="b" x="843.5" y="1065.5" width="15" height="9"/>
<rect class="b" x="858.5" y="1071.5" width="15" height="3"/>
<rect class="o" x="115.5" y="1035.5" width="93" height="39"/>
<rect class="o" x="208.5" y="918.5" width="93" height="156"/>
<rect class="o" x="301.5" y="712.5" width="92" height="362"/>
<rect class="o" x="393.5" y="676.5" width="93" height="398"/>
<rect class="o" x="486.5" y="772.5" width="92" height="302"/>
<rect class="o" x="578.5" y="945.5" width="93" height="129"/>
<rect class="o" x="671.5" y="1008.5" width="92" height="66"/>
<rect class="o" x="763.5" y="1041.5" width="93" height="33"/>
<rect class="o" x="856.5" y="1065.5" width="93" height="9"/>
<rect class="o" x="949.5" y="1071.5" width="92" height="3"/>
<rect x="69.5" y="619.5" width="1018" height="455" fill="none" stroke="#000" stroke-width="1.11"/>
<line x1="181.5" y1="1074.5" x2="181.5" y2="1079.36" stroke="#000" stroke-width="1.11"/>
<text x="180.91" y="1094" font-size="13.89" text-anchor="middle" letter-spacing="-0.5">1.5</text>
<line x1="318.5" y1="1074.5" x2="318.5" y2="1079.36" stroke="#000" stroke-width="1.11"/>
<text x="318.08" y="1094" font-size="13.89" text-anchor="middle" letter-spacing="-0.5">2.0</text>
<line x1="456.5" y1="1074.5" x2="456.5" y2="1079.36" stroke="#000" stroke-width="1.11"/>
<text x="455.24" y="1094" font-size="13.89" text-anchor="middle" letter-spacing="-0.5">2.5</text>
<line x1="593.5" y1="1074.5" x2="593.5" y2="1079.36" stroke="#000" stroke-width="1.11"/>
<text x="592.4" y="1094" font-size="13.89" text-anchor="middle" letter-spacing="-0.5">3.0</text>
<line x1="730.5" y1="1074.5" x2="730.5" y2="1079.36" stroke="#000" stroke-width="1.11"/>
<text x="729.57" y="1094" font-size="13.89" text-anchor="middle" letter-spacing="-0.5">3.5</text>
<line x1="867.5" y1="1074.5" x2="867.5" y2="1079.36" stroke="#000" stroke-width="1.11"/>
<text x="866.74" y="1094" font-size="13.89" text-anchor="middle" letter-spacing="-0.5">4.0</text>
<line x1="1004.5" y1="1074.5" x2="1004.5" y2="1079.36" stroke="#000" stroke-width="1.11"/>
<text x="1003.9" y="1094" font-size="13.89" text-anchor="middle" letter-spacing="-0.5">4.5</text>
<line x1="64.64" y1="1074.5" x2="69.5" y2="1074.5" stroke="#000" stroke-width="1.11"/>
<text x="57.9" y="1079" font-size="13.89" text-anchor="end" letter-spacing="-0.5">0</text>
<line x1="64.64" y1="1014.5" x2="69.5" y2="1014.5" stroke="#000" stroke-width="1.11"/>
<text x="57.9" y="1019.23" font-size="13.89" text-anchor="end" letter-spacing="-0.5">20</text>
<line x1="64.64" y1="954.5" x2="69.5" y2="954.5" stroke="#000" stroke-width="1.11"/>
<text x="57.9" y="959.46" font-size="13.89" text-anchor="end" letter-spacing="-0.5">40</text>
<line x1="64.64" y1="894.5" x2="69.5" y2="894.5" stroke="#000" stroke-width="1.11"/>
<text x="57.9" y="899.69" font-size="13.89" text-anchor="end" letter-spacing="-0.5">60</text>
<line x1="64.64" y1="835.5" x2="69.5" y2="835.5" stroke="#000" stroke-width="1.11"/>
<text x="57.9" y="839.92" font-size="13.89" text-anchor="end" letter-spacing="-0.5">80</text>
<line x1="64.64" y1="775.5" x2="69.5" y2="775.5" stroke="#000" stroke-width="1.11"/>
<text x="57.9" y="780.15" font-size="13.89" text-anchor="end" letter-spacing="-0.5">100</text>
<line x1="64.64" y1="715.5" x2="69.5" y2="715.5" stroke="#000" stroke-width="1.11"/>
<text x="57.9" y="720.38" font-size="13.89" text-anchor="end" letter-spacing="-0.5">120</text>
<line x1="64.64" y1="655.5" x2="69.5" y2="655.5" stroke="#000" stroke-width="1.11"/>
<text x="57.9" y="660.61" font-size="13.89" text-anchor="end" letter-spacing="-0.5">140</text>
<text x="474.3" y="577.5" font-size="27.78" text-anchor="start">The Outcomes</text>
<text x="333.4" y="609.3" font-size="27.78" text-anchor="start">Under the raw re-weighting scheme</text>
<text x="578.5" y="1113.5" font-size="13.89" text-anchor="middle">outcome</text>
<rect x="983.3" y="626.4" width="97.4" height="46.2" rx="2.8" ry="2.8" fill="#fff" fill-opacity="0.8" stroke="#ccc" stroke-opacity="0.8" stroke-width="1.11"/>
<rect x="988.5" y="633.05" width="28.5" height="9.5" fill="#87ceeb" fill-opacity="0.6" stroke="#000" stroke-opacity="0.6" stroke-width="1.39"/>
<text x="1026.9" y="642.6" font-size="13.89" text-anchor="start">E(Y(1))</text>
<rect x="988.5" y="653.75" width="28.5" height="9.5" fill="#ffa500" fill-opacity="0.6" stroke="#000" stroke-opacity="0.6" stroke-width="1.39"/>
<text x="1026.9" y="663.3" font-size="13.89" text-anchor="start">E(Y(0))</text>
<rect class="h" x="1154.5" y="1060.5" width="44" height="14"/>
<rect class="h" x="1198.5" y="1067.5" width="44" height="7"/>
<rect class="h" x="1242.5" y="1011.5" width="45" height="63"/>
<rect class="h" x="1287.5" y="988.5" width="44" height="86"/>
<rect class="h" x="1331.5" y="865.5" width="44" height="209"/>
<rect class="h" x="1375.5" y="703.5" width="45" height="371"/>
<rect class="h" x="1420.5" y="640.5" width="44" height="434"/>
<rect class="h" x="1464.5" y="740.5" width="44" height="334"/>
<rect class="h" x="1508.5" y="961.5" width="44" height="113"/>
<rect class="h" x="1552.5" y="1047.5" width="45" height="27"/>
<line x1="1420.9" y1="1074.5" x2="1420.9" y2="619.5" stroke="#1f77b4" stroke-width="2.08"/>
<rect x="1132.5" y="619.5" width="487" height="455" fill="none" stroke="#000" stroke-width="1.11"/>
<line x1="1136.5" y1="1074.5" x2="1136.5" y2="1079.36" stroke="#000" stroke-width="1.11"/>
<text x="1135.3" y="1094" font-size="13.89" text-anchor="middle" letter-spacing="-0.5">−1.0</text>
<line x1="1200.5" y1="1074.5" x2="1200.5" y2="1079.36" stroke="#000" stroke-width="1.11"/>
<text x="1199.18" y="1094" font-size="13.89" text-anchor="middle" letter-spacing="-0.5">−0.5</text>
<line x1="1263.5" y1="1074.5" x2="1263.5" y2="1079.36" stroke="#000" stroke-width="1.11"/>
<text x="1263.07" y="1094" font-size="13.89" text-anchor="middle" letter-spacing="-0.5">0.0</text>
<line x1="1327.5" y1="1074.5" x2="1327.5" y2="1079.36" stroke="#000" stroke-width="1.11"/>
<text x="1326.95" y="1094" font-size="13.89" text-anchor="middle" letter-spacing="-0.5">0.5</text>
<line x1="1391.5" y1="1074.5" x2="1391.5" y2="1079.36" stroke="#000" stroke-width="1.11"/>
<text x="1390.84" y="1094" font-size="13.89" text-anchor="middle" letter-spacing="-0.5">1.0</text>
<line x1="1455.5" y1="1074.5" x2="1455.5" y2="1079.36" stroke="#000" stroke-width="1.11"/>
<text x="1454.72" y="1094" font-size="13.89" text-anchor="middle" letter-spacing="-0.5">1.5</text>
<line x1="1519.5" y1="1074.5" x2="1519.5" y2="1079.36" stroke="#000" stroke-width="1.11"/>
<text x="1518.61" y="1094" font-size="13.89" text-anchor="middle" letter-spacing="-0.5">2.0</text>
<line x1="1583.5" y1="1074.5" x2="1583.5" y2="1079.36" stroke="#000" stroke-width="1.11"/>
<text x="1582.49" y="1094" font-size="13.89" text-anchor="middle" letter-spacing="-0.5">2.5</text>
<line x1="1127.64" y1="1074.5" x2="1132.5" y2="1074.5" stroke="#000" stroke-width="1.11"/>
<text x="1120.9" y="1079" font-size="13.89" text-anchor="end" letter-spacing="-0.5">0</text>
<line x1="1127.64" y1="1008.5" x2="1132.5" y2="1008.5" stroke="#000" stroke-width="1.11"/>
<text x="1120.9" y="1012.84" font-size="13.89" text-anchor="end" letter-spacing="-0.5">20</text>
<line x1="1127.64" y1="941.5" x2="1132.5" y2="941.5" stroke="#000" stroke-width="1.11"/>
<text x="1120.9" y="946.68" font-size="13.89" text-anchor="end" letter-spacing="-0.5">40</text>
<line x1="1127.64" y1="875.5" x2="1132.5" y2="875.5" stroke="#000" stroke-width="1.11"/>
<text x="1120.9" y="880.52" font-size="13.89" text-anchor="end" letter-spacing="-0.5">60</text>
<line x1="1127.64" y1="809.5" x2="1132.5" y2="809.5" stroke="#000" stroke-width="1.11"/>
<text x="1120.9" y="814.36" font-size="13.89" text-anchor="end" letter-spacing="-0.5">80</text>
<line x1="1127.64" y1="743.5" x2="1132.5" y2="743.5" stroke="#000" stroke-width="1.11"/>
<text x="1120.9" y="748.2" font-size="13.89" text-anchor="end" letter-spacing="-0.5">100</text>
<line x1="1127.64" y1="677.5" x2="1132.5" y2="677.5" stroke="#000" stroke-width="1.11"/>
<text x="1120.9" y="682.04" font-size="13.89" text-anchor="end" letter-spacing="-0.5">120</text>
<text x="1198.3" y="609.6" font-size="27.78" text-anchor="start">Average Treatment Effect</text>
<text x="1376" y="1113.5" font-size="13.89" text-anchor="middle">Difference</text>
<rect x="1516.6" y="626.5" width="95.7" height="45.9" rx="2.8" ry="2.8" fill="#fff" fill-opacity="0.8" stroke="#ccc" stroke-opacity="0.8" stroke-width="1.11"/>
<rect x="1521.8" y="633.05" width="28.5" height="9.5" fill="#808080" fill-opacity="0.6" stroke="#000" stroke-opacity="0.6" stroke-width="1.39"/>
<text x="1561" y="642.5" font-size="13.89" text-anchor="start">ATE</text>
<line x1="1522.2" y1="658.3" x2="1549.9" y2="658.3" stroke="#1f77b4" stroke-width="2.08" stroke-linecap="square"/>
<text x="1561" y="663.9" font-size="13.89" text-anchor="start">E(ATE)</text>
</svg></body></html>
